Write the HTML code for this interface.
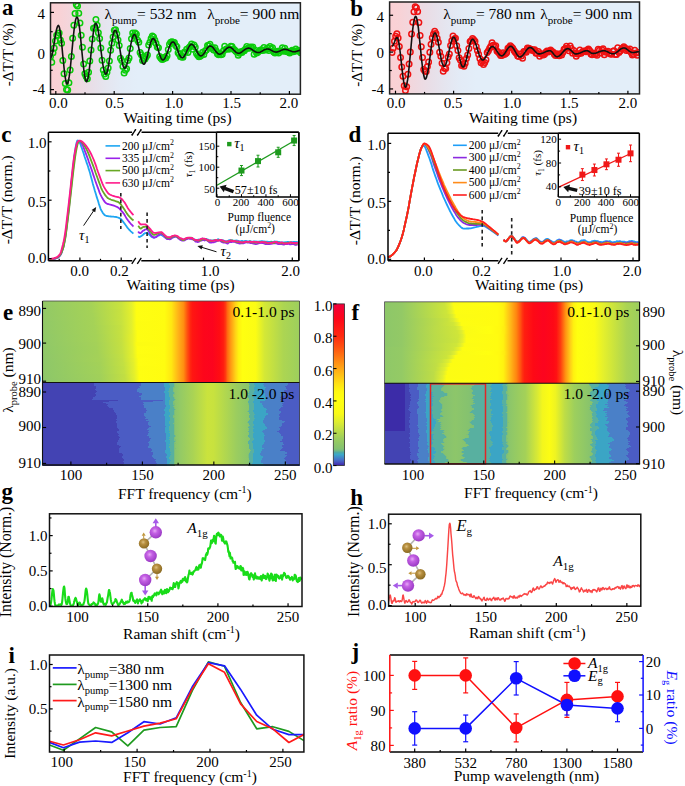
<!DOCTYPE html><html><head><meta charset="utf-8"><title>Figure</title><style>html,body{margin:0;padding:0;background:#fff;width:685px;height:786px;overflow:hidden}svg{display:block;font-family:"Liberation Serif",serif}</style></head><body><svg width="685" height="786" viewBox="0 0 685 786" font-family="Liberation Serif, serif"><defs><linearGradient id="bgab" x1="0" y1="0" x2="1" y2="0"><stop offset="0" stop-color="#fbd0d4"/><stop offset="0.04" stop-color="#f8d2d6"/><stop offset="0.1" stop-color="#f0d8df"/><stop offset="0.16" stop-color="#e9dee7"/><stop offset="0.22" stop-color="#e5e5ef"/><stop offset="0.28" stop-color="#e3ebf6"/><stop offset="0.35" stop-color="#e3eef9"/><stop offset="1" stop-color="#e3eef9"/></linearGradient><linearGradient id="bgab2" x1="0" y1="0" x2="1" y2="0"><stop offset="0" stop-color="#fbd0d4"/><stop offset="0.04" stop-color="#f8d2d6"/><stop offset="0.1" stop-color="#f0d8df"/><stop offset="0.16" stop-color="#e9dee7"/><stop offset="0.22" stop-color="#e5e5ef"/><stop offset="0.28" stop-color="#e3ebf6"/><stop offset="0.35" stop-color="#e3eef9"/><stop offset="1" stop-color="#e3eef9"/></linearGradient><linearGradient id="ge0" x2="1" y2="0"><stop offset="0.000" stop-color="#93ca66"/><stop offset="0.187" stop-color="#a5d257"/><stop offset="0.307" stop-color="#c9e33d"/><stop offset="0.346" stop-color="#e5f02b"/><stop offset="0.366" stop-color="#fefe12"/><stop offset="0.475" stop-color="#fffc10"/><stop offset="0.502" stop-color="#ffe712"/><stop offset="0.529" stop-color="#ffb118"/><stop offset="0.549" stop-color="#ff8e11"/><stop offset="0.564" stop-color="#ff4e10"/><stop offset="0.576" stop-color="#ff2410"/><stop offset="0.584" stop-color="#ff1612"/><stop offset="0.626" stop-color="#fd061b"/><stop offset="0.661" stop-color="#fc041e"/><stop offset="0.689" stop-color="#ff0d13"/><stop offset="0.704" stop-color="#ff1e10"/><stop offset="0.712" stop-color="#ff3a10"/><stop offset="0.720" stop-color="#ff6c10"/><stop offset="0.732" stop-color="#ff9813"/><stop offset="0.751" stop-color="#ffd217"/><stop offset="0.763" stop-color="#fff110"/><stop offset="0.778" stop-color="#ffff10"/><stop offset="0.829" stop-color="#fcfc14"/><stop offset="0.864" stop-color="#d4e836"/><stop offset="0.938" stop-color="#acd552"/><stop offset="1.000" stop-color="#9dcf5d"/></linearGradient><linearGradient id="ge1" x2="1" y2="0"><stop offset="0.000" stop-color="#93c966"/><stop offset="0.191" stop-color="#a5d257"/><stop offset="0.307" stop-color="#c9e33d"/><stop offset="0.346" stop-color="#e4f02c"/><stop offset="0.366" stop-color="#fefe12"/><stop offset="0.475" stop-color="#fffc10"/><stop offset="0.502" stop-color="#ffe712"/><stop offset="0.529" stop-color="#ffb118"/><stop offset="0.549" stop-color="#ff8e11"/><stop offset="0.564" stop-color="#ff4e10"/><stop offset="0.576" stop-color="#ff2410"/><stop offset="0.584" stop-color="#ff1612"/><stop offset="0.626" stop-color="#fd061b"/><stop offset="0.661" stop-color="#fc041e"/><stop offset="0.689" stop-color="#ff0d13"/><stop offset="0.704" stop-color="#ff1e10"/><stop offset="0.712" stop-color="#ff3a10"/><stop offset="0.720" stop-color="#ff6c10"/><stop offset="0.732" stop-color="#ff9813"/><stop offset="0.751" stop-color="#ffd217"/><stop offset="0.763" stop-color="#fff110"/><stop offset="0.778" stop-color="#ffff10"/><stop offset="0.829" stop-color="#fcfc14"/><stop offset="0.864" stop-color="#d4e836"/><stop offset="0.938" stop-color="#acd552"/><stop offset="1.000" stop-color="#9dcf5d"/></linearGradient><linearGradient id="ge2" x2="1" y2="0"><stop offset="0.000" stop-color="#92c966"/><stop offset="0.191" stop-color="#a5d257"/><stop offset="0.304" stop-color="#c7e13f"/><stop offset="0.346" stop-color="#e4ef2c"/><stop offset="0.366" stop-color="#fefe12"/><stop offset="0.475" stop-color="#fffc10"/><stop offset="0.502" stop-color="#ffe712"/><stop offset="0.529" stop-color="#ffb118"/><stop offset="0.549" stop-color="#ff8e11"/><stop offset="0.564" stop-color="#ff4e10"/><stop offset="0.576" stop-color="#ff2410"/><stop offset="0.584" stop-color="#ff1612"/><stop offset="0.626" stop-color="#fd061b"/><stop offset="0.661" stop-color="#fc041e"/><stop offset="0.689" stop-color="#ff0d13"/><stop offset="0.704" stop-color="#ff1e10"/><stop offset="0.712" stop-color="#ff3a10"/><stop offset="0.720" stop-color="#ff6c10"/><stop offset="0.732" stop-color="#ff9813"/><stop offset="0.751" stop-color="#ffd217"/><stop offset="0.763" stop-color="#fff110"/><stop offset="0.778" stop-color="#ffff10"/><stop offset="0.829" stop-color="#fcfc14"/><stop offset="0.864" stop-color="#d4e836"/><stop offset="0.938" stop-color="#acd552"/><stop offset="1.000" stop-color="#9dcf5d"/></linearGradient><linearGradient id="ge3" x2="1" y2="0"><stop offset="0.000" stop-color="#92c966"/><stop offset="0.195" stop-color="#a5d257"/><stop offset="0.307" stop-color="#c8e23e"/><stop offset="0.346" stop-color="#e3ef2d"/><stop offset="0.366" stop-color="#fefe12"/><stop offset="0.475" stop-color="#fffc10"/><stop offset="0.502" stop-color="#ffe712"/><stop offset="0.529" stop-color="#ffb118"/><stop offset="0.549" stop-color="#ff8e11"/><stop offset="0.564" stop-color="#ff4e10"/><stop offset="0.576" stop-color="#ff2410"/><stop offset="0.584" stop-color="#ff1612"/><stop offset="0.626" stop-color="#fd061b"/><stop offset="0.661" stop-color="#fc041e"/><stop offset="0.689" stop-color="#ff0d13"/><stop offset="0.704" stop-color="#ff1e10"/><stop offset="0.712" stop-color="#ff3a10"/><stop offset="0.720" stop-color="#ff6c10"/><stop offset="0.732" stop-color="#ff9813"/><stop offset="0.751" stop-color="#ffd217"/><stop offset="0.763" stop-color="#fff110"/><stop offset="0.778" stop-color="#ffff10"/><stop offset="0.829" stop-color="#fcfc14"/><stop offset="0.864" stop-color="#d4e836"/><stop offset="0.938" stop-color="#acd552"/><stop offset="1.000" stop-color="#9dcf5d"/></linearGradient><linearGradient id="ge4" x2="1" y2="0"><stop offset="0.000" stop-color="#92c967"/><stop offset="0.198" stop-color="#a5d257"/><stop offset="0.307" stop-color="#c8e23e"/><stop offset="0.346" stop-color="#e2ef2e"/><stop offset="0.366" stop-color="#fefe12"/><stop offset="0.475" stop-color="#fffc10"/><stop offset="0.502" stop-color="#ffe712"/><stop offset="0.529" stop-color="#ffb118"/><stop offset="0.549" stop-color="#ff8e11"/><stop offset="0.564" stop-color="#ff4e10"/><stop offset="0.576" stop-color="#ff2410"/><stop offset="0.584" stop-color="#ff1612"/><stop offset="0.626" stop-color="#fd061b"/><stop offset="0.661" stop-color="#fc041e"/><stop offset="0.689" stop-color="#ff0d13"/><stop offset="0.704" stop-color="#ff1e10"/><stop offset="0.712" stop-color="#ff3a10"/><stop offset="0.720" stop-color="#ff6c10"/><stop offset="0.732" stop-color="#ff9813"/><stop offset="0.751" stop-color="#ffd217"/><stop offset="0.763" stop-color="#fff110"/><stop offset="0.778" stop-color="#ffff10"/><stop offset="0.829" stop-color="#fcfc14"/><stop offset="0.864" stop-color="#d4e836"/><stop offset="0.938" stop-color="#acd552"/><stop offset="1.000" stop-color="#9dcf5d"/></linearGradient><linearGradient id="ge5" x2="1" y2="0"><stop offset="0.000" stop-color="#91c967"/><stop offset="0.198" stop-color="#a5d257"/><stop offset="0.307" stop-color="#c7e23f"/><stop offset="0.346" stop-color="#e2ef2e"/><stop offset="0.366" stop-color="#fdfd12"/><stop offset="0.475" stop-color="#fffc10"/><stop offset="0.502" stop-color="#ffe712"/><stop offset="0.529" stop-color="#ffb118"/><stop offset="0.549" stop-color="#ff8e11"/><stop offset="0.564" stop-color="#ff4e10"/><stop offset="0.576" stop-color="#ff2410"/><stop offset="0.584" stop-color="#ff1612"/><stop offset="0.626" stop-color="#fd061b"/><stop offset="0.661" stop-color="#fc041e"/><stop offset="0.689" stop-color="#ff0d13"/><stop offset="0.704" stop-color="#ff1e10"/><stop offset="0.712" stop-color="#ff3a10"/><stop offset="0.720" stop-color="#ff6c10"/><stop offset="0.732" stop-color="#ff9813"/><stop offset="0.751" stop-color="#ffd217"/><stop offset="0.763" stop-color="#fff110"/><stop offset="0.778" stop-color="#ffff10"/><stop offset="0.829" stop-color="#fcfc14"/><stop offset="0.864" stop-color="#d4e836"/><stop offset="0.938" stop-color="#acd552"/><stop offset="1.000" stop-color="#9dcf5d"/></linearGradient><linearGradient id="ge6" x2="1" y2="0"><stop offset="0.000" stop-color="#91c967"/><stop offset="0.202" stop-color="#a5d257"/><stop offset="0.304" stop-color="#c4e041"/><stop offset="0.346" stop-color="#e2ef2e"/><stop offset="0.366" stop-color="#fdfd12"/><stop offset="0.475" stop-color="#fffc10"/><stop offset="0.502" stop-color="#ffe712"/><stop offset="0.529" stop-color="#ffb118"/><stop offset="0.549" stop-color="#ff8e11"/><stop offset="0.564" stop-color="#ff4e10"/><stop offset="0.576" stop-color="#ff2410"/><stop offset="0.584" stop-color="#ff1612"/><stop offset="0.626" stop-color="#fd061b"/><stop offset="0.661" stop-color="#fc041e"/><stop offset="0.689" stop-color="#ff0d13"/><stop offset="0.704" stop-color="#ff1e10"/><stop offset="0.712" stop-color="#ff3a10"/><stop offset="0.720" stop-color="#ff6c10"/><stop offset="0.732" stop-color="#ff9813"/><stop offset="0.751" stop-color="#ffd217"/><stop offset="0.763" stop-color="#fff110"/><stop offset="0.778" stop-color="#ffff10"/><stop offset="0.829" stop-color="#fcfc14"/><stop offset="0.864" stop-color="#d4e836"/><stop offset="0.938" stop-color="#acd552"/><stop offset="1.000" stop-color="#9dcf5d"/></linearGradient><linearGradient id="ge7" x2="1" y2="0"><stop offset="0.000" stop-color="#91c867"/><stop offset="0.206" stop-color="#a5d257"/><stop offset="0.307" stop-color="#c6e13f"/><stop offset="0.346" stop-color="#e1ee2f"/><stop offset="0.370" stop-color="#fefe12"/><stop offset="0.475" stop-color="#fffc10"/><stop offset="0.502" stop-color="#ffe712"/><stop offset="0.529" stop-color="#ffb118"/><stop offset="0.549" stop-color="#ff8e11"/><stop offset="0.564" stop-color="#ff4e10"/><stop offset="0.576" stop-color="#ff2410"/><stop offset="0.584" stop-color="#ff1612"/><stop offset="0.626" stop-color="#fd061b"/><stop offset="0.661" stop-color="#fc041e"/><stop offset="0.689" stop-color="#ff0d13"/><stop offset="0.704" stop-color="#ff1e10"/><stop offset="0.712" stop-color="#ff3a10"/><stop offset="0.720" stop-color="#ff6c10"/><stop offset="0.732" stop-color="#ff9813"/><stop offset="0.751" stop-color="#ffd217"/><stop offset="0.763" stop-color="#fff110"/><stop offset="0.778" stop-color="#ffff10"/><stop offset="0.829" stop-color="#fcfc14"/><stop offset="0.864" stop-color="#d4e836"/><stop offset="0.938" stop-color="#acd552"/><stop offset="1.000" stop-color="#9dcf5d"/></linearGradient><linearGradient id="ge8" x2="1" y2="0"><stop offset="0.000" stop-color="#90c868"/><stop offset="0.210" stop-color="#a5d257"/><stop offset="0.307" stop-color="#c5e140"/><stop offset="0.350" stop-color="#e6f02a"/><stop offset="0.370" stop-color="#fefe12"/><stop offset="0.475" stop-color="#fffc10"/><stop offset="0.502" stop-color="#ffe712"/><stop offset="0.529" stop-color="#ffb118"/><stop offset="0.549" stop-color="#ff8e11"/><stop offset="0.564" stop-color="#ff4e10"/><stop offset="0.576" stop-color="#ff2410"/><stop offset="0.584" stop-color="#ff1612"/><stop offset="0.626" stop-color="#fd061b"/><stop offset="0.661" stop-color="#fc041e"/><stop offset="0.689" stop-color="#ff0d13"/><stop offset="0.704" stop-color="#ff1e10"/><stop offset="0.712" stop-color="#ff3a10"/><stop offset="0.720" stop-color="#ff6c10"/><stop offset="0.732" stop-color="#ff9813"/><stop offset="0.751" stop-color="#ffd217"/><stop offset="0.763" stop-color="#fff110"/><stop offset="0.778" stop-color="#ffff10"/><stop offset="0.829" stop-color="#fcfc14"/><stop offset="0.864" stop-color="#d4e836"/><stop offset="0.938" stop-color="#acd552"/><stop offset="1.000" stop-color="#9dcf5d"/></linearGradient><linearGradient id="ge9" x2="1" y2="0"><stop offset="0.000" stop-color="#90c868"/><stop offset="0.210" stop-color="#a5d257"/><stop offset="0.307" stop-color="#c5e040"/><stop offset="0.350" stop-color="#e6f02a"/><stop offset="0.370" stop-color="#fefe12"/><stop offset="0.475" stop-color="#fffc10"/><stop offset="0.502" stop-color="#ffe712"/><stop offset="0.529" stop-color="#ffb118"/><stop offset="0.549" stop-color="#ff8e11"/><stop offset="0.564" stop-color="#ff4e10"/><stop offset="0.576" stop-color="#ff2410"/><stop offset="0.584" stop-color="#ff1612"/><stop offset="0.626" stop-color="#fd061b"/><stop offset="0.661" stop-color="#fc041e"/><stop offset="0.689" stop-color="#ff0d13"/><stop offset="0.704" stop-color="#ff1e10"/><stop offset="0.712" stop-color="#ff3a10"/><stop offset="0.720" stop-color="#ff6c10"/><stop offset="0.732" stop-color="#ff9813"/><stop offset="0.751" stop-color="#ffd217"/><stop offset="0.763" stop-color="#fff110"/><stop offset="0.778" stop-color="#ffff10"/><stop offset="0.829" stop-color="#fcfc14"/><stop offset="0.864" stop-color="#d4e836"/><stop offset="0.938" stop-color="#acd552"/><stop offset="1.000" stop-color="#9dcf5d"/></linearGradient><linearGradient id="ge10" x2="1" y2="0"><stop offset="0.000" stop-color="#90c868"/><stop offset="0.210" stop-color="#a4d158"/><stop offset="0.307" stop-color="#c4e041"/><stop offset="0.350" stop-color="#e5f02b"/><stop offset="0.366" stop-color="#fcfc13"/><stop offset="0.475" stop-color="#fffc10"/><stop offset="0.502" stop-color="#ffe712"/><stop offset="0.529" stop-color="#ffb118"/><stop offset="0.549" stop-color="#ff8e11"/><stop offset="0.564" stop-color="#ff4e10"/><stop offset="0.576" stop-color="#ff2410"/><stop offset="0.584" stop-color="#ff1612"/><stop offset="0.626" stop-color="#fd061b"/><stop offset="0.661" stop-color="#fc041e"/><stop offset="0.689" stop-color="#ff0d13"/><stop offset="0.704" stop-color="#ff1e10"/><stop offset="0.712" stop-color="#ff3a10"/><stop offset="0.720" stop-color="#ff6c10"/><stop offset="0.732" stop-color="#ff9813"/><stop offset="0.751" stop-color="#ffd217"/><stop offset="0.763" stop-color="#fff110"/><stop offset="0.778" stop-color="#ffff10"/><stop offset="0.829" stop-color="#fcfc14"/><stop offset="0.864" stop-color="#d4e836"/><stop offset="0.938" stop-color="#acd552"/><stop offset="1.000" stop-color="#9dcf5d"/></linearGradient><linearGradient id="ge11" x2="1" y2="0"><stop offset="0.000" stop-color="#8fc868"/><stop offset="0.210" stop-color="#a3d158"/><stop offset="0.307" stop-color="#c3e042"/><stop offset="0.350" stop-color="#e4f02c"/><stop offset="0.370" stop-color="#fefe12"/><stop offset="0.475" stop-color="#fffc10"/><stop offset="0.502" stop-color="#ffe712"/><stop offset="0.529" stop-color="#ffb118"/><stop offset="0.549" stop-color="#ff8e11"/><stop offset="0.564" stop-color="#ff4e10"/><stop offset="0.576" stop-color="#ff2410"/><stop offset="0.584" stop-color="#ff1612"/><stop offset="0.626" stop-color="#fd061b"/><stop offset="0.661" stop-color="#fc041e"/><stop offset="0.689" stop-color="#ff0d13"/><stop offset="0.704" stop-color="#ff1e10"/><stop offset="0.712" stop-color="#ff3a10"/><stop offset="0.720" stop-color="#ff6c10"/><stop offset="0.732" stop-color="#ff9813"/><stop offset="0.751" stop-color="#ffd217"/><stop offset="0.763" stop-color="#fff110"/><stop offset="0.778" stop-color="#ffff10"/><stop offset="0.829" stop-color="#fcfc14"/><stop offset="0.864" stop-color="#d4e836"/><stop offset="0.938" stop-color="#acd552"/><stop offset="1.000" stop-color="#9dcf5d"/></linearGradient><linearGradient id="ge12" x2="1" y2="0"><stop offset="0.000" stop-color="#8fc868"/><stop offset="0.214" stop-color="#a3d158"/><stop offset="0.311" stop-color="#c5e040"/><stop offset="0.350" stop-color="#e3ef2d"/><stop offset="0.370" stop-color="#fefe12"/><stop offset="0.475" stop-color="#fffc10"/><stop offset="0.502" stop-color="#ffe712"/><stop offset="0.529" stop-color="#ffb118"/><stop offset="0.549" stop-color="#ff8e11"/><stop offset="0.564" stop-color="#ff4e10"/><stop offset="0.576" stop-color="#ff2410"/><stop offset="0.584" stop-color="#ff1612"/><stop offset="0.626" stop-color="#fd061b"/><stop offset="0.661" stop-color="#fc041e"/><stop offset="0.689" stop-color="#ff0d13"/><stop offset="0.704" stop-color="#ff1e10"/><stop offset="0.712" stop-color="#ff3a10"/><stop offset="0.720" stop-color="#ff6c10"/><stop offset="0.732" stop-color="#ff9813"/><stop offset="0.751" stop-color="#ffd217"/><stop offset="0.763" stop-color="#fff110"/><stop offset="0.778" stop-color="#ffff10"/><stop offset="0.829" stop-color="#fcfc14"/><stop offset="0.864" stop-color="#d4e836"/><stop offset="0.938" stop-color="#acd552"/><stop offset="1.000" stop-color="#9dcf5d"/></linearGradient><linearGradient id="ge13" x2="1" y2="0"><stop offset="0.000" stop-color="#8fc769"/><stop offset="0.218" stop-color="#a4d158"/><stop offset="0.311" stop-color="#c3e042"/><stop offset="0.354" stop-color="#e7f129"/><stop offset="0.370" stop-color="#fdfd12"/><stop offset="0.475" stop-color="#fffc10"/><stop offset="0.502" stop-color="#ffe712"/><stop offset="0.529" stop-color="#ffb118"/><stop offset="0.549" stop-color="#ff8e11"/><stop offset="0.564" stop-color="#ff4e10"/><stop offset="0.576" stop-color="#ff2410"/><stop offset="0.584" stop-color="#ff1612"/><stop offset="0.626" stop-color="#fd061b"/><stop offset="0.661" stop-color="#fc041e"/><stop offset="0.689" stop-color="#ff0d13"/><stop offset="0.704" stop-color="#ff1e10"/><stop offset="0.712" stop-color="#ff3a10"/><stop offset="0.720" stop-color="#ff6c10"/><stop offset="0.732" stop-color="#ff9813"/><stop offset="0.751" stop-color="#ffd217"/><stop offset="0.763" stop-color="#fff110"/><stop offset="0.778" stop-color="#ffff10"/><stop offset="0.829" stop-color="#fcfc14"/><stop offset="0.864" stop-color="#d4e836"/><stop offset="0.938" stop-color="#acd552"/><stop offset="1.000" stop-color="#9dcf5d"/></linearGradient><linearGradient id="ge14" x2="1" y2="0"><stop offset="0.000" stop-color="#8ec769"/><stop offset="0.226" stop-color="#a5d257"/><stop offset="0.311" stop-color="#c2df43"/><stop offset="0.354" stop-color="#e5f02b"/><stop offset="0.374" stop-color="#fefe12"/><stop offset="0.475" stop-color="#fffc10"/><stop offset="0.502" stop-color="#ffe712"/><stop offset="0.529" stop-color="#ffb118"/><stop offset="0.549" stop-color="#ff8e11"/><stop offset="0.564" stop-color="#ff4e10"/><stop offset="0.576" stop-color="#ff2410"/><stop offset="0.584" stop-color="#ff1612"/><stop offset="0.626" stop-color="#fd061b"/><stop offset="0.661" stop-color="#fc041e"/><stop offset="0.689" stop-color="#ff0d13"/><stop offset="0.704" stop-color="#ff1e10"/><stop offset="0.712" stop-color="#ff3a10"/><stop offset="0.720" stop-color="#ff6c10"/><stop offset="0.732" stop-color="#ff9813"/><stop offset="0.751" stop-color="#ffd217"/><stop offset="0.763" stop-color="#fff110"/><stop offset="0.778" stop-color="#ffff10"/><stop offset="0.829" stop-color="#fcfc14"/><stop offset="0.864" stop-color="#d4e836"/><stop offset="0.938" stop-color="#acd552"/><stop offset="1.000" stop-color="#9dcf5d"/></linearGradient><linearGradient id="ge15" x2="1" y2="0"><stop offset="0.000" stop-color="#8ec769"/><stop offset="0.222" stop-color="#a3d158"/><stop offset="0.315" stop-color="#c3e042"/><stop offset="0.354" stop-color="#e3ef2d"/><stop offset="0.374" stop-color="#fefe12"/><stop offset="0.475" stop-color="#fffc10"/><stop offset="0.502" stop-color="#ffe712"/><stop offset="0.529" stop-color="#ffb118"/><stop offset="0.549" stop-color="#ff8e11"/><stop offset="0.564" stop-color="#ff4e10"/><stop offset="0.576" stop-color="#ff2410"/><stop offset="0.584" stop-color="#ff1612"/><stop offset="0.626" stop-color="#fd061b"/><stop offset="0.661" stop-color="#fc041e"/><stop offset="0.689" stop-color="#ff0d13"/><stop offset="0.704" stop-color="#ff1e10"/><stop offset="0.712" stop-color="#ff3a10"/><stop offset="0.720" stop-color="#ff6c10"/><stop offset="0.732" stop-color="#ff9813"/><stop offset="0.751" stop-color="#ffd217"/><stop offset="0.763" stop-color="#fff110"/><stop offset="0.778" stop-color="#ffff10"/><stop offset="0.829" stop-color="#fcfc14"/><stop offset="0.864" stop-color="#d4e836"/><stop offset="0.938" stop-color="#acd552"/><stop offset="1.000" stop-color="#9dcf5d"/></linearGradient><linearGradient id="ge16" x2="1" y2="0"><stop offset="0.000" stop-color="#8ec769"/><stop offset="0.222" stop-color="#a2d159"/><stop offset="0.315" stop-color="#c1df43"/><stop offset="0.354" stop-color="#e2ef2e"/><stop offset="0.374" stop-color="#fdfd12"/><stop offset="0.475" stop-color="#fffc10"/><stop offset="0.502" stop-color="#ffe712"/><stop offset="0.529" stop-color="#ffb118"/><stop offset="0.549" stop-color="#ff8e11"/><stop offset="0.564" stop-color="#ff4e10"/><stop offset="0.576" stop-color="#ff2410"/><stop offset="0.584" stop-color="#ff1612"/><stop offset="0.626" stop-color="#fd061b"/><stop offset="0.661" stop-color="#fc041e"/><stop offset="0.689" stop-color="#ff0d13"/><stop offset="0.704" stop-color="#ff1e10"/><stop offset="0.712" stop-color="#ff3a10"/><stop offset="0.720" stop-color="#ff6c10"/><stop offset="0.732" stop-color="#ff9813"/><stop offset="0.751" stop-color="#ffd217"/><stop offset="0.763" stop-color="#fff110"/><stop offset="0.778" stop-color="#ffff10"/><stop offset="0.829" stop-color="#fcfc14"/><stop offset="0.864" stop-color="#d4e836"/><stop offset="0.938" stop-color="#acd552"/><stop offset="1.000" stop-color="#9dcf5d"/></linearGradient><linearGradient id="ge17" x2="1" y2="0"><stop offset="0.000" stop-color="#8dc769"/><stop offset="0.222" stop-color="#a2d159"/><stop offset="0.319" stop-color="#c3e042"/><stop offset="0.358" stop-color="#e6f02a"/><stop offset="0.377" stop-color="#fefe12"/><stop offset="0.475" stop-color="#fffc10"/><stop offset="0.502" stop-color="#ffe712"/><stop offset="0.529" stop-color="#ffb118"/><stop offset="0.549" stop-color="#ff8e11"/><stop offset="0.564" stop-color="#ff4e10"/><stop offset="0.576" stop-color="#ff2410"/><stop offset="0.584" stop-color="#ff1612"/><stop offset="0.626" stop-color="#fd061b"/><stop offset="0.661" stop-color="#fc041e"/><stop offset="0.689" stop-color="#ff0d13"/><stop offset="0.704" stop-color="#ff1e10"/><stop offset="0.712" stop-color="#ff3a10"/><stop offset="0.720" stop-color="#ff6c10"/><stop offset="0.732" stop-color="#ff9813"/><stop offset="0.751" stop-color="#ffd217"/><stop offset="0.763" stop-color="#fff110"/><stop offset="0.778" stop-color="#ffff10"/><stop offset="0.829" stop-color="#fcfc14"/><stop offset="0.864" stop-color="#d4e836"/><stop offset="0.938" stop-color="#acd552"/><stop offset="1.000" stop-color="#9dcf5d"/></linearGradient><linearGradient id="ge18" x2="1" y2="0"><stop offset="0.000" stop-color="#8dc769"/><stop offset="0.222" stop-color="#a1d05a"/><stop offset="0.319" stop-color="#c1de43"/><stop offset="0.358" stop-color="#e4f02c"/><stop offset="0.377" stop-color="#fefe12"/><stop offset="0.475" stop-color="#fffc10"/><stop offset="0.502" stop-color="#ffe712"/><stop offset="0.529" stop-color="#ffb118"/><stop offset="0.549" stop-color="#ff8e11"/><stop offset="0.564" stop-color="#ff4e10"/><stop offset="0.576" stop-color="#ff2410"/><stop offset="0.584" stop-color="#ff1612"/><stop offset="0.626" stop-color="#fd061b"/><stop offset="0.661" stop-color="#fc041e"/><stop offset="0.689" stop-color="#ff0d13"/><stop offset="0.704" stop-color="#ff1e10"/><stop offset="0.712" stop-color="#ff3a10"/><stop offset="0.720" stop-color="#ff6c10"/><stop offset="0.732" stop-color="#ff9813"/><stop offset="0.751" stop-color="#ffd217"/><stop offset="0.763" stop-color="#fff110"/><stop offset="0.778" stop-color="#ffff10"/><stop offset="0.829" stop-color="#fcfc14"/><stop offset="0.864" stop-color="#d4e836"/><stop offset="0.938" stop-color="#acd552"/><stop offset="1.000" stop-color="#9dcf5d"/></linearGradient><linearGradient id="ge19" x2="1" y2="0"><stop offset="0.000" stop-color="#8dc66a"/><stop offset="0.222" stop-color="#a0d05a"/><stop offset="0.323" stop-color="#c3df42"/><stop offset="0.358" stop-color="#e2ef2e"/><stop offset="0.377" stop-color="#fefe12"/><stop offset="0.475" stop-color="#fffc10"/><stop offset="0.502" stop-color="#ffe712"/><stop offset="0.529" stop-color="#ffb118"/><stop offset="0.549" stop-color="#ff8e11"/><stop offset="0.564" stop-color="#ff4e10"/><stop offset="0.576" stop-color="#ff2410"/><stop offset="0.584" stop-color="#ff1612"/><stop offset="0.626" stop-color="#fd061b"/><stop offset="0.661" stop-color="#fc041e"/><stop offset="0.689" stop-color="#ff0d13"/><stop offset="0.704" stop-color="#ff1e10"/><stop offset="0.712" stop-color="#ff3a10"/><stop offset="0.720" stop-color="#ff6c10"/><stop offset="0.732" stop-color="#ff9813"/><stop offset="0.751" stop-color="#ffd217"/><stop offset="0.763" stop-color="#fff110"/><stop offset="0.778" stop-color="#ffff10"/><stop offset="0.829" stop-color="#fcfc14"/><stop offset="0.864" stop-color="#d4e836"/><stop offset="0.938" stop-color="#acd552"/><stop offset="1.000" stop-color="#9dcf5d"/></linearGradient><linearGradient id="geb" x2="1" y2="0"><stop offset="0.000" stop-color="#7fbf75"/><stop offset="0.502" stop-color="#81c073"/><stop offset="0.537" stop-color="#94ca65"/><stop offset="0.584" stop-color="#a9d355"/><stop offset="0.642" stop-color="#cae33d"/><stop offset="0.665" stop-color="#c8e23e"/><stop offset="0.755" stop-color="#9bcd5f"/><stop offset="0.805" stop-color="#89c56b"/><stop offset="1.000" stop-color="#7fbf75"/></linearGradient><linearGradient id="gf0" x2="1" y2="0"><stop offset="0.000" stop-color="#8dc769"/><stop offset="0.067" stop-color="#93c966"/><stop offset="0.235" stop-color="#cbe33c"/><stop offset="0.255" stop-color="#dfee30"/><stop offset="0.270" stop-color="#fbfc15"/><stop offset="0.408" stop-color="#ffff10"/><stop offset="0.451" stop-color="#fff910"/><stop offset="0.470" stop-color="#ffec11"/><stop offset="0.494" stop-color="#ffb818"/><stop offset="0.517" stop-color="#ff8610"/><stop offset="0.533" stop-color="#ff5210"/><stop offset="0.541" stop-color="#ff3310"/><stop offset="0.549" stop-color="#ff1e10"/><stop offset="0.584" stop-color="#fe0916"/><stop offset="0.623" stop-color="#fc041f"/><stop offset="0.662" stop-color="#fe0916"/><stop offset="0.674" stop-color="#ff1113"/><stop offset="0.690" stop-color="#ff3c10"/><stop offset="0.710" stop-color="#ff9412"/><stop offset="0.729" stop-color="#ffd018"/><stop offset="0.741" stop-color="#fff110"/><stop offset="0.757" stop-color="#ffff10"/><stop offset="0.823" stop-color="#fbfb15"/><stop offset="0.858" stop-color="#e4f02c"/><stop offset="0.949" stop-color="#abd453"/><stop offset="1.000" stop-color="#9cce5e"/></linearGradient><linearGradient id="gf1" x2="1" y2="0"><stop offset="0.000" stop-color="#8dc769"/><stop offset="0.067" stop-color="#93c966"/><stop offset="0.239" stop-color="#cde43a"/><stop offset="0.259" stop-color="#e4ef2c"/><stop offset="0.274" stop-color="#fdfd13"/><stop offset="0.443" stop-color="#fffc10"/><stop offset="0.466" stop-color="#fff210"/><stop offset="0.494" stop-color="#ffb818"/><stop offset="0.517" stop-color="#ff8610"/><stop offset="0.533" stop-color="#ff5210"/><stop offset="0.541" stop-color="#ff3310"/><stop offset="0.549" stop-color="#ff1e10"/><stop offset="0.584" stop-color="#fe0916"/><stop offset="0.623" stop-color="#fc041f"/><stop offset="0.662" stop-color="#fe0916"/><stop offset="0.674" stop-color="#ff1113"/><stop offset="0.690" stop-color="#ff3c10"/><stop offset="0.710" stop-color="#ff9412"/><stop offset="0.729" stop-color="#ffd018"/><stop offset="0.741" stop-color="#fff110"/><stop offset="0.757" stop-color="#ffff10"/><stop offset="0.823" stop-color="#fbfb15"/><stop offset="0.858" stop-color="#e4f02c"/><stop offset="0.949" stop-color="#abd453"/><stop offset="1.000" stop-color="#9cce5e"/></linearGradient><linearGradient id="gf2" x2="1" y2="0"><stop offset="0.000" stop-color="#8dc769"/><stop offset="0.067" stop-color="#93c966"/><stop offset="0.243" stop-color="#cde53a"/><stop offset="0.263" stop-color="#e4f02c"/><stop offset="0.278" stop-color="#fdfd13"/><stop offset="0.443" stop-color="#fffc10"/><stop offset="0.466" stop-color="#fff210"/><stop offset="0.494" stop-color="#ffb818"/><stop offset="0.517" stop-color="#ff8610"/><stop offset="0.533" stop-color="#ff5210"/><stop offset="0.541" stop-color="#ff3310"/><stop offset="0.549" stop-color="#ff1e10"/><stop offset="0.584" stop-color="#fe0916"/><stop offset="0.623" stop-color="#fc041f"/><stop offset="0.662" stop-color="#fe0916"/><stop offset="0.674" stop-color="#ff1113"/><stop offset="0.690" stop-color="#ff3c10"/><stop offset="0.710" stop-color="#ff9412"/><stop offset="0.729" stop-color="#ffd018"/><stop offset="0.741" stop-color="#fff110"/><stop offset="0.757" stop-color="#ffff10"/><stop offset="0.823" stop-color="#fbfb15"/><stop offset="0.858" stop-color="#e4f02c"/><stop offset="0.949" stop-color="#abd453"/><stop offset="1.000" stop-color="#9cce5e"/></linearGradient><linearGradient id="gf3" x2="1" y2="0"><stop offset="0.000" stop-color="#8dc769"/><stop offset="0.067" stop-color="#93c966"/><stop offset="0.251" stop-color="#cfe539"/><stop offset="0.267" stop-color="#dfee30"/><stop offset="0.282" stop-color="#fcfc14"/><stop offset="0.443" stop-color="#fffc10"/><stop offset="0.466" stop-color="#fff210"/><stop offset="0.494" stop-color="#ffb818"/><stop offset="0.517" stop-color="#ff8610"/><stop offset="0.533" stop-color="#ff5210"/><stop offset="0.541" stop-color="#ff3310"/><stop offset="0.549" stop-color="#ff1e10"/><stop offset="0.584" stop-color="#fe0916"/><stop offset="0.623" stop-color="#fc041f"/><stop offset="0.662" stop-color="#fe0916"/><stop offset="0.674" stop-color="#ff1113"/><stop offset="0.690" stop-color="#ff3c10"/><stop offset="0.710" stop-color="#ff9412"/><stop offset="0.729" stop-color="#ffd018"/><stop offset="0.741" stop-color="#fff110"/><stop offset="0.757" stop-color="#ffff10"/><stop offset="0.823" stop-color="#fbfb15"/><stop offset="0.858" stop-color="#e4f02c"/><stop offset="0.949" stop-color="#abd453"/><stop offset="1.000" stop-color="#9cce5e"/></linearGradient><linearGradient id="gf4" x2="1" y2="0"><stop offset="0.000" stop-color="#8dc769"/><stop offset="0.067" stop-color="#93c966"/><stop offset="0.247" stop-color="#c8e23e"/><stop offset="0.270" stop-color="#daeb33"/><stop offset="0.278" stop-color="#e7f129"/><stop offset="0.294" stop-color="#fdfd12"/><stop offset="0.443" stop-color="#fffc10"/><stop offset="0.466" stop-color="#fff210"/><stop offset="0.494" stop-color="#ffb818"/><stop offset="0.517" stop-color="#ff8610"/><stop offset="0.533" stop-color="#ff5210"/><stop offset="0.541" stop-color="#ff3310"/><stop offset="0.549" stop-color="#ff1e10"/><stop offset="0.584" stop-color="#fe0916"/><stop offset="0.623" stop-color="#fc041f"/><stop offset="0.662" stop-color="#fe0916"/><stop offset="0.674" stop-color="#ff1113"/><stop offset="0.690" stop-color="#ff3c10"/><stop offset="0.710" stop-color="#ff9412"/><stop offset="0.729" stop-color="#ffd018"/><stop offset="0.741" stop-color="#fff110"/><stop offset="0.757" stop-color="#ffff10"/><stop offset="0.823" stop-color="#fbfb15"/><stop offset="0.858" stop-color="#e4f02c"/><stop offset="0.949" stop-color="#abd453"/><stop offset="1.000" stop-color="#9cce5e"/></linearGradient><linearGradient id="gf5" x2="1" y2="0"><stop offset="0.000" stop-color="#8dc769"/><stop offset="0.067" stop-color="#93c966"/><stop offset="0.208" stop-color="#bddc47"/><stop offset="0.270" stop-color="#d0e638"/><stop offset="0.286" stop-color="#e3ef2d"/><stop offset="0.302" stop-color="#fdfd13"/><stop offset="0.443" stop-color="#fffc10"/><stop offset="0.466" stop-color="#fff210"/><stop offset="0.494" stop-color="#ffb818"/><stop offset="0.517" stop-color="#ff8610"/><stop offset="0.533" stop-color="#ff5210"/><stop offset="0.541" stop-color="#ff3310"/><stop offset="0.549" stop-color="#ff1e10"/><stop offset="0.584" stop-color="#fe0916"/><stop offset="0.623" stop-color="#fc041f"/><stop offset="0.662" stop-color="#fe0916"/><stop offset="0.674" stop-color="#ff1113"/><stop offset="0.690" stop-color="#ff3c10"/><stop offset="0.710" stop-color="#ff9412"/><stop offset="0.729" stop-color="#ffd018"/><stop offset="0.741" stop-color="#fff110"/><stop offset="0.757" stop-color="#ffff10"/><stop offset="0.823" stop-color="#fbfb15"/><stop offset="0.858" stop-color="#e4f02c"/><stop offset="0.949" stop-color="#abd453"/><stop offset="1.000" stop-color="#9cce5e"/></linearGradient><linearGradient id="gf6" x2="1" y2="0"><stop offset="0.000" stop-color="#8dc769"/><stop offset="0.067" stop-color="#93c966"/><stop offset="0.196" stop-color="#badb49"/><stop offset="0.278" stop-color="#cee539"/><stop offset="0.294" stop-color="#dfed31"/><stop offset="0.310" stop-color="#fbfb15"/><stop offset="0.408" stop-color="#ffff10"/><stop offset="0.451" stop-color="#fff910"/><stop offset="0.470" stop-color="#ffec11"/><stop offset="0.494" stop-color="#ffb818"/><stop offset="0.517" stop-color="#ff8610"/><stop offset="0.533" stop-color="#ff5210"/><stop offset="0.541" stop-color="#ff3310"/><stop offset="0.549" stop-color="#ff1e10"/><stop offset="0.584" stop-color="#fe0916"/><stop offset="0.623" stop-color="#fc041f"/><stop offset="0.662" stop-color="#fe0916"/><stop offset="0.674" stop-color="#ff1113"/><stop offset="0.690" stop-color="#ff3c10"/><stop offset="0.710" stop-color="#ff9412"/><stop offset="0.729" stop-color="#ffd018"/><stop offset="0.741" stop-color="#fff110"/><stop offset="0.757" stop-color="#ffff10"/><stop offset="0.823" stop-color="#fbfb15"/><stop offset="0.858" stop-color="#e4f02c"/><stop offset="0.949" stop-color="#abd453"/><stop offset="1.000" stop-color="#9cce5e"/></linearGradient><linearGradient id="gf7" x2="1" y2="0"><stop offset="0.000" stop-color="#8dc769"/><stop offset="0.067" stop-color="#93c966"/><stop offset="0.196" stop-color="#badb49"/><stop offset="0.286" stop-color="#cfe539"/><stop offset="0.302" stop-color="#dfed31"/><stop offset="0.318" stop-color="#fbfb15"/><stop offset="0.416" stop-color="#ffff10"/><stop offset="0.455" stop-color="#fff810"/><stop offset="0.470" stop-color="#ffec11"/><stop offset="0.494" stop-color="#ffb818"/><stop offset="0.517" stop-color="#ff8610"/><stop offset="0.533" stop-color="#ff5210"/><stop offset="0.541" stop-color="#ff3310"/><stop offset="0.549" stop-color="#ff1e10"/><stop offset="0.584" stop-color="#fe0916"/><stop offset="0.623" stop-color="#fc041f"/><stop offset="0.662" stop-color="#fe0916"/><stop offset="0.674" stop-color="#ff1113"/><stop offset="0.690" stop-color="#ff3c10"/><stop offset="0.710" stop-color="#ff9412"/><stop offset="0.729" stop-color="#ffd018"/><stop offset="0.741" stop-color="#fff110"/><stop offset="0.757" stop-color="#ffff10"/><stop offset="0.823" stop-color="#fbfb15"/><stop offset="0.858" stop-color="#e4f02c"/><stop offset="0.949" stop-color="#abd453"/><stop offset="1.000" stop-color="#9cce5e"/></linearGradient><linearGradient id="gf8" x2="1" y2="0"><stop offset="0.000" stop-color="#8dc769"/><stop offset="0.067" stop-color="#93c966"/><stop offset="0.196" stop-color="#b9db49"/><stop offset="0.290" stop-color="#cfe539"/><stop offset="0.306" stop-color="#dfee30"/><stop offset="0.321" stop-color="#fcfc14"/><stop offset="0.443" stop-color="#fffc10"/><stop offset="0.466" stop-color="#fff210"/><stop offset="0.494" stop-color="#ffb818"/><stop offset="0.517" stop-color="#ff8610"/><stop offset="0.533" stop-color="#ff5210"/><stop offset="0.541" stop-color="#ff3310"/><stop offset="0.549" stop-color="#ff1e10"/><stop offset="0.584" stop-color="#fe0916"/><stop offset="0.623" stop-color="#fc041f"/><stop offset="0.662" stop-color="#fe0916"/><stop offset="0.674" stop-color="#ff1113"/><stop offset="0.690" stop-color="#ff3c10"/><stop offset="0.710" stop-color="#ff9412"/><stop offset="0.729" stop-color="#ffd018"/><stop offset="0.741" stop-color="#fff110"/><stop offset="0.757" stop-color="#ffff10"/><stop offset="0.823" stop-color="#fbfb15"/><stop offset="0.858" stop-color="#e4f02c"/><stop offset="0.949" stop-color="#abd453"/><stop offset="1.000" stop-color="#9cce5e"/></linearGradient><linearGradient id="gf9" x2="1" y2="0"><stop offset="0.000" stop-color="#8dc769"/><stop offset="0.067" stop-color="#93c966"/><stop offset="0.196" stop-color="#b9db49"/><stop offset="0.286" stop-color="#cce43b"/><stop offset="0.306" stop-color="#e3ef2d"/><stop offset="0.321" stop-color="#fdfd13"/><stop offset="0.443" stop-color="#fffc10"/><stop offset="0.466" stop-color="#fff210"/><stop offset="0.494" stop-color="#ffb818"/><stop offset="0.517" stop-color="#ff8610"/><stop offset="0.533" stop-color="#ff5210"/><stop offset="0.541" stop-color="#ff3310"/><stop offset="0.549" stop-color="#ff1e10"/><stop offset="0.584" stop-color="#fe0916"/><stop offset="0.623" stop-color="#fc041f"/><stop offset="0.662" stop-color="#fe0916"/><stop offset="0.674" stop-color="#ff1113"/><stop offset="0.690" stop-color="#ff3c10"/><stop offset="0.710" stop-color="#ff9412"/><stop offset="0.729" stop-color="#ffd018"/><stop offset="0.741" stop-color="#fff110"/><stop offset="0.757" stop-color="#ffff10"/><stop offset="0.823" stop-color="#fbfb15"/><stop offset="0.858" stop-color="#e4f02c"/><stop offset="0.949" stop-color="#abd453"/><stop offset="1.000" stop-color="#9cce5e"/></linearGradient><linearGradient id="gf10" x2="1" y2="0"><stop offset="0.000" stop-color="#8dc769"/><stop offset="0.067" stop-color="#93c966"/><stop offset="0.196" stop-color="#badb49"/><stop offset="0.282" stop-color="#cfe639"/><stop offset="0.298" stop-color="#e0ee30"/><stop offset="0.314" stop-color="#fcfc14"/><stop offset="0.443" stop-color="#fffc10"/><stop offset="0.466" stop-color="#fff210"/><stop offset="0.494" stop-color="#ffb818"/><stop offset="0.517" stop-color="#ff8610"/><stop offset="0.533" stop-color="#ff5210"/><stop offset="0.541" stop-color="#ff3310"/><stop offset="0.549" stop-color="#ff1e10"/><stop offset="0.584" stop-color="#fe0916"/><stop offset="0.623" stop-color="#fc041f"/><stop offset="0.662" stop-color="#fe0916"/><stop offset="0.674" stop-color="#ff1113"/><stop offset="0.690" stop-color="#ff3c10"/><stop offset="0.710" stop-color="#ff9412"/><stop offset="0.729" stop-color="#ffd018"/><stop offset="0.741" stop-color="#fff110"/><stop offset="0.757" stop-color="#ffff10"/><stop offset="0.823" stop-color="#fbfb15"/><stop offset="0.858" stop-color="#e4f02c"/><stop offset="0.949" stop-color="#abd453"/><stop offset="1.000" stop-color="#9cce5e"/></linearGradient><linearGradient id="gf11" x2="1" y2="0"><stop offset="0.000" stop-color="#8fc868"/><stop offset="0.067" stop-color="#94ca65"/><stop offset="0.223" stop-color="#c0de44"/><stop offset="0.270" stop-color="#cee53a"/><stop offset="0.290" stop-color="#e6f02a"/><stop offset="0.306" stop-color="#fdfd13"/><stop offset="0.443" stop-color="#fffc10"/><stop offset="0.466" stop-color="#fff210"/><stop offset="0.494" stop-color="#ffb818"/><stop offset="0.517" stop-color="#ff8610"/><stop offset="0.533" stop-color="#ff5210"/><stop offset="0.541" stop-color="#ff3310"/><stop offset="0.549" stop-color="#ff1e10"/><stop offset="0.584" stop-color="#fe0916"/><stop offset="0.623" stop-color="#fc041f"/><stop offset="0.662" stop-color="#fe0916"/><stop offset="0.674" stop-color="#ff1113"/><stop offset="0.690" stop-color="#ff3c10"/><stop offset="0.710" stop-color="#ff9412"/><stop offset="0.729" stop-color="#ffd018"/><stop offset="0.741" stop-color="#fff110"/><stop offset="0.757" stop-color="#ffff10"/><stop offset="0.823" stop-color="#fbfb15"/><stop offset="0.858" stop-color="#e4f02c"/><stop offset="0.949" stop-color="#abd453"/><stop offset="1.000" stop-color="#9cce5e"/></linearGradient><linearGradient id="gf12" x2="1" y2="0"><stop offset="0.000" stop-color="#8fc868"/><stop offset="0.067" stop-color="#94ca65"/><stop offset="0.259" stop-color="#cfe539"/><stop offset="0.274" stop-color="#dfed31"/><stop offset="0.290" stop-color="#fbfb15"/><stop offset="0.408" stop-color="#ffff10"/><stop offset="0.451" stop-color="#fff910"/><stop offset="0.470" stop-color="#ffec11"/><stop offset="0.494" stop-color="#ffb818"/><stop offset="0.517" stop-color="#ff8610"/><stop offset="0.533" stop-color="#ff5210"/><stop offset="0.541" stop-color="#ff3310"/><stop offset="0.549" stop-color="#ff1e10"/><stop offset="0.584" stop-color="#fe0916"/><stop offset="0.623" stop-color="#fc041f"/><stop offset="0.662" stop-color="#fe0916"/><stop offset="0.674" stop-color="#ff1113"/><stop offset="0.690" stop-color="#ff3c10"/><stop offset="0.710" stop-color="#ff9412"/><stop offset="0.729" stop-color="#ffd018"/><stop offset="0.741" stop-color="#fff110"/><stop offset="0.757" stop-color="#ffff10"/><stop offset="0.823" stop-color="#fbfb15"/><stop offset="0.858" stop-color="#e4f02c"/><stop offset="0.949" stop-color="#abd453"/><stop offset="1.000" stop-color="#9cce5e"/></linearGradient><linearGradient id="gf13" x2="1" y2="0"><stop offset="0.000" stop-color="#8fc868"/><stop offset="0.067" stop-color="#94ca65"/><stop offset="0.243" stop-color="#cbe43b"/><stop offset="0.263" stop-color="#e1ee2f"/><stop offset="0.278" stop-color="#fcfc14"/><stop offset="0.443" stop-color="#fffc10"/><stop offset="0.466" stop-color="#fff210"/><stop offset="0.494" stop-color="#ffb818"/><stop offset="0.517" stop-color="#ff8610"/><stop offset="0.533" stop-color="#ff5210"/><stop offset="0.541" stop-color="#ff3310"/><stop offset="0.549" stop-color="#ff1e10"/><stop offset="0.584" stop-color="#fe0916"/><stop offset="0.623" stop-color="#fc041f"/><stop offset="0.662" stop-color="#fe0916"/><stop offset="0.674" stop-color="#ff1113"/><stop offset="0.690" stop-color="#ff3c10"/><stop offset="0.710" stop-color="#ff9412"/><stop offset="0.729" stop-color="#ffd018"/><stop offset="0.741" stop-color="#fff110"/><stop offset="0.757" stop-color="#ffff10"/><stop offset="0.823" stop-color="#fbfb15"/><stop offset="0.858" stop-color="#e4f02c"/><stop offset="0.949" stop-color="#abd453"/><stop offset="1.000" stop-color="#9cce5e"/></linearGradient><linearGradient id="gf14" x2="1" y2="0"><stop offset="0.000" stop-color="#8fc868"/><stop offset="0.067" stop-color="#94ca65"/><stop offset="0.223" stop-color="#c7e23f"/><stop offset="0.251" stop-color="#dfee30"/><stop offset="0.267" stop-color="#fcfc14"/><stop offset="0.443" stop-color="#fffc10"/><stop offset="0.466" stop-color="#fff210"/><stop offset="0.494" stop-color="#ffb818"/><stop offset="0.517" stop-color="#ff8610"/><stop offset="0.533" stop-color="#ff5210"/><stop offset="0.541" stop-color="#ff3310"/><stop offset="0.549" stop-color="#ff1e10"/><stop offset="0.584" stop-color="#fe0916"/><stop offset="0.623" stop-color="#fc041f"/><stop offset="0.662" stop-color="#fe0916"/><stop offset="0.674" stop-color="#ff1113"/><stop offset="0.690" stop-color="#ff3c10"/><stop offset="0.710" stop-color="#ff9412"/><stop offset="0.729" stop-color="#ffd018"/><stop offset="0.741" stop-color="#fff110"/><stop offset="0.757" stop-color="#ffff10"/><stop offset="0.823" stop-color="#fbfb15"/><stop offset="0.858" stop-color="#e4f02c"/><stop offset="0.949" stop-color="#abd453"/><stop offset="1.000" stop-color="#9cce5e"/></linearGradient><linearGradient id="gf15" x2="1" y2="0"><stop offset="0.000" stop-color="#8fc868"/><stop offset="0.067" stop-color="#94ca65"/><stop offset="0.204" stop-color="#c1de44"/><stop offset="0.239" stop-color="#dcec32"/><stop offset="0.259" stop-color="#fcfc13"/><stop offset="0.443" stop-color="#fffc10"/><stop offset="0.466" stop-color="#fff210"/><stop offset="0.494" stop-color="#ffb818"/><stop offset="0.517" stop-color="#ff8610"/><stop offset="0.533" stop-color="#ff5210"/><stop offset="0.541" stop-color="#ff3310"/><stop offset="0.549" stop-color="#ff1e10"/><stop offset="0.584" stop-color="#fe0916"/><stop offset="0.623" stop-color="#fc041f"/><stop offset="0.662" stop-color="#fe0916"/><stop offset="0.674" stop-color="#ff1113"/><stop offset="0.690" stop-color="#ff3c10"/><stop offset="0.710" stop-color="#ff9412"/><stop offset="0.729" stop-color="#ffd018"/><stop offset="0.741" stop-color="#fff110"/><stop offset="0.757" stop-color="#ffff10"/><stop offset="0.823" stop-color="#fbfb15"/><stop offset="0.858" stop-color="#e4f02c"/><stop offset="0.949" stop-color="#abd453"/><stop offset="1.000" stop-color="#9cce5e"/></linearGradient><linearGradient id="gf16" x2="1" y2="0"><stop offset="0.000" stop-color="#8fc868"/><stop offset="0.067" stop-color="#94ca65"/><stop offset="0.200" stop-color="#c0de44"/><stop offset="0.235" stop-color="#dfee30"/><stop offset="0.251" stop-color="#fcfc14"/><stop offset="0.443" stop-color="#fffc10"/><stop offset="0.466" stop-color="#fff210"/><stop offset="0.494" stop-color="#ffb818"/><stop offset="0.517" stop-color="#ff8610"/><stop offset="0.533" stop-color="#ff5210"/><stop offset="0.541" stop-color="#ff3310"/><stop offset="0.549" stop-color="#ff1e10"/><stop offset="0.584" stop-color="#fe0916"/><stop offset="0.623" stop-color="#fc041f"/><stop offset="0.662" stop-color="#fe0916"/><stop offset="0.674" stop-color="#ff1113"/><stop offset="0.690" stop-color="#ff3c10"/><stop offset="0.710" stop-color="#ff9412"/><stop offset="0.729" stop-color="#ffd018"/><stop offset="0.741" stop-color="#fff110"/><stop offset="0.757" stop-color="#ffff10"/><stop offset="0.823" stop-color="#fbfb15"/><stop offset="0.858" stop-color="#e4f02c"/><stop offset="0.949" stop-color="#abd453"/><stop offset="1.000" stop-color="#9cce5e"/></linearGradient><linearGradient id="gf17" x2="1" y2="0"><stop offset="0.000" stop-color="#8fc868"/><stop offset="0.067" stop-color="#94ca65"/><stop offset="0.192" stop-color="#bcdc47"/><stop offset="0.231" stop-color="#e1ee2f"/><stop offset="0.247" stop-color="#fcfc14"/><stop offset="0.443" stop-color="#fffc10"/><stop offset="0.466" stop-color="#fff210"/><stop offset="0.494" stop-color="#ffb818"/><stop offset="0.517" stop-color="#ff8610"/><stop offset="0.533" stop-color="#ff5210"/><stop offset="0.541" stop-color="#ff3310"/><stop offset="0.549" stop-color="#ff1e10"/><stop offset="0.584" stop-color="#fe0916"/><stop offset="0.623" stop-color="#fc041f"/><stop offset="0.662" stop-color="#fe0916"/><stop offset="0.674" stop-color="#ff1113"/><stop offset="0.690" stop-color="#ff3c10"/><stop offset="0.710" stop-color="#ff9412"/><stop offset="0.729" stop-color="#ffd018"/><stop offset="0.741" stop-color="#fff110"/><stop offset="0.757" stop-color="#ffff10"/><stop offset="0.823" stop-color="#fbfb15"/><stop offset="0.858" stop-color="#e4f02c"/><stop offset="0.949" stop-color="#abd453"/><stop offset="1.000" stop-color="#9cce5e"/></linearGradient><linearGradient id="gf18" x2="1" y2="0"><stop offset="0.000" stop-color="#8fc868"/><stop offset="0.067" stop-color="#94ca65"/><stop offset="0.192" stop-color="#bddc46"/><stop offset="0.227" stop-color="#e0ee30"/><stop offset="0.243" stop-color="#fcfc14"/><stop offset="0.443" stop-color="#fffc10"/><stop offset="0.466" stop-color="#fff210"/><stop offset="0.494" stop-color="#ffb818"/><stop offset="0.517" stop-color="#ff8610"/><stop offset="0.533" stop-color="#ff5210"/><stop offset="0.541" stop-color="#ff3310"/><stop offset="0.549" stop-color="#ff1e10"/><stop offset="0.584" stop-color="#fe0916"/><stop offset="0.623" stop-color="#fc041f"/><stop offset="0.662" stop-color="#fe0916"/><stop offset="0.674" stop-color="#ff1113"/><stop offset="0.690" stop-color="#ff3c10"/><stop offset="0.710" stop-color="#ff9412"/><stop offset="0.729" stop-color="#ffd018"/><stop offset="0.741" stop-color="#fff110"/><stop offset="0.757" stop-color="#ffff10"/><stop offset="0.823" stop-color="#fbfb15"/><stop offset="0.858" stop-color="#e4f02c"/><stop offset="0.949" stop-color="#abd453"/><stop offset="1.000" stop-color="#9cce5e"/></linearGradient><linearGradient id="gf19" x2="1" y2="0"><stop offset="0.000" stop-color="#8fc868"/><stop offset="0.067" stop-color="#94ca65"/><stop offset="0.192" stop-color="#bddd46"/><stop offset="0.227" stop-color="#e5f02b"/><stop offset="0.243" stop-color="#fdfd13"/><stop offset="0.443" stop-color="#fffc10"/><stop offset="0.466" stop-color="#fff210"/><stop offset="0.494" stop-color="#ffb818"/><stop offset="0.517" stop-color="#ff8610"/><stop offset="0.533" stop-color="#ff5210"/><stop offset="0.541" stop-color="#ff3310"/><stop offset="0.549" stop-color="#ff1e10"/><stop offset="0.584" stop-color="#fe0916"/><stop offset="0.623" stop-color="#fc041f"/><stop offset="0.662" stop-color="#fe0916"/><stop offset="0.674" stop-color="#ff1113"/><stop offset="0.690" stop-color="#ff3c10"/><stop offset="0.710" stop-color="#ff9412"/><stop offset="0.729" stop-color="#ffd018"/><stop offset="0.741" stop-color="#fff110"/><stop offset="0.757" stop-color="#ffff10"/><stop offset="0.823" stop-color="#fbfb15"/><stop offset="0.858" stop-color="#e4f02c"/><stop offset="0.949" stop-color="#abd453"/><stop offset="1.000" stop-color="#9cce5e"/></linearGradient><linearGradient id="gfb" x2="1" y2="0"><stop offset="0.000" stop-color="#7fbf75"/><stop offset="0.223" stop-color="#83c171"/><stop offset="0.278" stop-color="#8dc66a"/><stop offset="0.329" stop-color="#85c26f"/><stop offset="0.353" stop-color="#7fbf75"/><stop offset="0.474" stop-color="#81c173"/><stop offset="0.490" stop-color="#8cc66a"/><stop offset="0.553" stop-color="#a4d158"/><stop offset="0.600" stop-color="#d9ea34"/><stop offset="0.619" stop-color="#f3f61d"/><stop offset="0.647" stop-color="#fcfc14"/><stop offset="0.670" stop-color="#eff421"/><stop offset="0.706" stop-color="#bedd46"/><stop offset="0.745" stop-color="#9dcf5d"/><stop offset="0.808" stop-color="#87c36d"/><stop offset="0.823" stop-color="#7fbf75"/><stop offset="1.000" stop-color="#7fbf75"/></linearGradient><linearGradient id="gcb" x2="0" y2="1"><stop offset="0.000" stop-color="#f0003c"/><stop offset="0.094" stop-color="#fe0719"/><stop offset="0.200" stop-color="#ff2a10"/><stop offset="0.266" stop-color="#ff5010"/><stop offset="0.397" stop-color="#ffa516"/><stop offset="0.494" stop-color="#ffe114"/><stop offset="0.544" stop-color="#fff910"/><stop offset="0.591" stop-color="#ffff10"/><stop offset="0.678" stop-color="#f9fa17"/><stop offset="0.734" stop-color="#dcec32"/><stop offset="0.831" stop-color="#9dce5d"/><stop offset="0.897" stop-color="#83c171"/><stop offset="0.906" stop-color="#74ba80"/><stop offset="0.919" stop-color="#4daaa5"/><stop offset="0.931" stop-color="#3ca8c8"/><stop offset="0.966" stop-color="#466dc9"/><stop offset="0.984" stop-color="#4647b8"/><stop offset="1.000" stop-color="#3a1ea8"/></linearGradient><radialGradient id="gpur" cx="0.42" cy="0.38" r="0.62"><stop offset="0" stop-color="#e6a8f6"/><stop offset="0.35" stop-color="#c460e4"/><stop offset="1" stop-color="#9a3ac4"/></radialGradient><radialGradient id="ggold" cx="0.42" cy="0.38" r="0.62"><stop offset="0" stop-color="#dcc080"/><stop offset="0.35" stop-color="#b89040"/><stop offset="1" stop-color="#8a6a22"/></radialGradient></defs><rect x="50.5" y="2.8" width="249.9" height="91.4" fill="url(#bgab)" />
<clipPath id="clipa"><rect x="50.5" y="2.8" width="249.89999999999998" height="91.4"/></clipPath>
<g clip-path="url(#clipa)" fill="none" stroke="#0bcc0b" stroke-width="1.5"><circle cx="50.54" cy="56.57" r="2.75"/><circle cx="51.77" cy="62.35" r="2.75"/><circle cx="53" cy="52.83" r="2.75"/><circle cx="54.22" cy="48" r="2.75"/><circle cx="55.45" cy="41.04" r="2.75"/><circle cx="56.68" cy="35.13" r="2.75"/><circle cx="57.9" cy="35.21" r="2.75"/><circle cx="59.13" cy="33.12" r="2.75"/><circle cx="60.36" cy="40.03" r="2.75"/><circle cx="61.58" cy="43.2" r="2.75"/><circle cx="62.81" cy="60.58" r="2.75"/><circle cx="64.03" cy="73.74" r="2.75"/><circle cx="65.26" cy="83.41" r="2.75"/><circle cx="66.49" cy="89.49" r="2.75"/><circle cx="67.71" cy="90" r="2.75"/><circle cx="68.94" cy="82.76" r="2.75"/><circle cx="70.17" cy="70.05" r="2.75"/><circle cx="71.39" cy="56.42" r="2.75"/><circle cx="72.62" cy="38.28" r="2.75"/><circle cx="73.85" cy="25.27" r="2.75"/><circle cx="75.07" cy="13.4" r="2.75"/><circle cx="76.3" cy="4.45" r="2.75"/><circle cx="77.52" cy="5.91" r="2.75"/><circle cx="78.75" cy="13.24" r="2.75"/><circle cx="79.98" cy="22.99" r="2.75"/><circle cx="81.2" cy="35.19" r="2.75"/><circle cx="82.43" cy="47.35" r="2.75"/><circle cx="83.66" cy="64.06" r="2.75"/><circle cx="84.88" cy="73.66" r="2.75"/><circle cx="86.11" cy="76.38" r="2.75"/><circle cx="87.34" cy="78.82" r="2.75"/><circle cx="88.56" cy="72.35" r="2.75"/><circle cx="89.79" cy="61.07" r="2.75"/><circle cx="91.02" cy="49.98" r="2.75"/><circle cx="92.24" cy="39.07" r="2.75"/><circle cx="93.47" cy="28.25" r="2.75"/><circle cx="94.69" cy="27.64" r="2.75"/><circle cx="95.92" cy="19.55" r="2.75"/><circle cx="97.15" cy="25.31" r="2.75"/><circle cx="98.37" cy="32.79" r="2.75"/><circle cx="99.6" cy="38.5" r="2.75"/><circle cx="100.83" cy="48.12" r="2.75"/><circle cx="102.05" cy="60.27" r="2.75"/><circle cx="103.28" cy="69.96" r="2.75"/><circle cx="104.51" cy="74.08" r="2.75"/><circle cx="105.73" cy="76.5" r="2.75"/><circle cx="106.96" cy="72.33" r="2.75"/><circle cx="108.18" cy="68.11" r="2.75"/><circle cx="109.41" cy="61.06" r="2.75"/><circle cx="110.64" cy="50.27" r="2.75"/><circle cx="111.86" cy="43.31" r="2.75"/><circle cx="113.09" cy="37.12" r="2.75"/><circle cx="114.32" cy="30.34" r="2.75"/><circle cx="115.54" cy="29.69" r="2.75"/><circle cx="116.77" cy="33.65" r="2.75"/><circle cx="118" cy="39.96" r="2.75"/><circle cx="119.22" cy="45.62" r="2.75"/><circle cx="120.45" cy="58.15" r="2.75"/><circle cx="121.68" cy="60.39" r="2.75"/><circle cx="122.9" cy="66.45" r="2.75"/><circle cx="124.13" cy="73.05" r="2.75"/><circle cx="125.35" cy="70.21" r="2.75"/><circle cx="126.58" cy="68.79" r="2.75"/><circle cx="127.81" cy="60.46" r="2.75"/><circle cx="129.03" cy="57.94" r="2.75"/><circle cx="130.26" cy="48.46" r="2.75"/><circle cx="131.49" cy="38.85" r="2.75"/><circle cx="132.71" cy="32.94" r="2.75"/><circle cx="133.94" cy="35.72" r="2.75"/><circle cx="135.17" cy="33.12" r="2.75"/><circle cx="136.39" cy="34.27" r="2.75"/><circle cx="137.62" cy="40.24" r="2.75"/><circle cx="138.84" cy="42.15" r="2.75"/><circle cx="140.07" cy="52.4" r="2.75"/><circle cx="141.3" cy="54.79" r="2.75"/><circle cx="142.52" cy="60.42" r="2.75"/><circle cx="143.75" cy="57.59" r="2.75"/><circle cx="144.98" cy="58.92" r="2.75"/><circle cx="146.2" cy="56.81" r="2.75"/><circle cx="147.43" cy="55.1" r="2.75"/><circle cx="148.66" cy="45" r="2.75"/><circle cx="149.88" cy="42.15" r="2.75"/><circle cx="151.11" cy="38.62" r="2.75"/><circle cx="152.34" cy="35.97" r="2.75"/><circle cx="153.56" cy="37.03" r="2.75"/><circle cx="154.79" cy="40.09" r="2.75"/><circle cx="156.01" cy="43.2" r="2.75"/><circle cx="157.24" cy="47.07" r="2.75"/><circle cx="158.47" cy="47.78" r="2.75"/><circle cx="159.69" cy="56.44" r="2.75"/><circle cx="160.92" cy="58.21" r="2.75"/><circle cx="162.15" cy="59.61" r="2.75"/><circle cx="163.37" cy="58.93" r="2.75"/><circle cx="164.6" cy="57.22" r="2.75"/><circle cx="165.83" cy="57.96" r="2.75"/><circle cx="167.05" cy="55.65" r="2.75"/><circle cx="168.28" cy="49.4" r="2.75"/><circle cx="169.5" cy="44.17" r="2.75"/><circle cx="170.73" cy="42.31" r="2.75"/><circle cx="171.96" cy="41.69" r="2.75"/><circle cx="173.18" cy="42.34" r="2.75"/><circle cx="174.41" cy="42.41" r="2.75"/><circle cx="175.64" cy="45.5" r="2.75"/><circle cx="176.86" cy="46.75" r="2.75"/><circle cx="178.09" cy="52.68" r="2.75"/><circle cx="179.32" cy="54.18" r="2.75"/><circle cx="180.54" cy="56.84" r="2.75"/><circle cx="181.77" cy="56.9" r="2.75"/><circle cx="183" cy="57.32" r="2.75"/><circle cx="184.22" cy="52.3" r="2.75"/><circle cx="185.45" cy="51.94" r="2.75"/><circle cx="186.67" cy="49.34" r="2.75"/><circle cx="187.9" cy="52.48" r="2.75"/><circle cx="189.13" cy="47.42" r="2.75"/><circle cx="190.35" cy="46.35" r="2.75"/><circle cx="191.58" cy="43.98" r="2.75"/><circle cx="192.81" cy="49.15" r="2.75"/><circle cx="194.03" cy="44.92" r="2.75"/><circle cx="195.26" cy="47.16" r="2.75"/><circle cx="196.49" cy="53.4" r="2.75"/><circle cx="197.71" cy="55.13" r="2.75"/><circle cx="198.94" cy="56.63" r="2.75"/><circle cx="200.16" cy="56.26" r="2.75"/><circle cx="201.39" cy="55.34" r="2.75"/><circle cx="202.62" cy="52.25" r="2.75"/><circle cx="203.84" cy="54.47" r="2.75"/><circle cx="205.07" cy="50.97" r="2.75"/><circle cx="206.3" cy="49.92" r="2.75"/><circle cx="207.52" cy="45.43" r="2.75"/><circle cx="208.75" cy="45.78" r="2.75"/><circle cx="209.98" cy="44.15" r="2.75"/><circle cx="211.2" cy="48.32" r="2.75"/><circle cx="212.43" cy="47.68" r="2.75"/><circle cx="213.66" cy="50.01" r="2.75"/><circle cx="214.88" cy="47.79" r="2.75"/><circle cx="216.11" cy="50.77" r="2.75"/><circle cx="217.33" cy="53.65" r="2.75"/><circle cx="218.56" cy="54.69" r="2.75"/><circle cx="219.79" cy="53.32" r="2.75"/><circle cx="221.01" cy="54.87" r="2.75"/><circle cx="222.24" cy="54.37" r="2.75"/><circle cx="223.47" cy="50.85" r="2.75"/><circle cx="224.69" cy="46.23" r="2.75"/><circle cx="225.92" cy="49.33" r="2.75"/><circle cx="227.15" cy="48.72" r="2.75"/><circle cx="228.37" cy="49" r="2.75"/><circle cx="229.6" cy="49.01" r="2.75"/><circle cx="230.82" cy="46.25" r="2.75"/><circle cx="232.05" cy="46.51" r="2.75"/><circle cx="233.28" cy="49.02" r="2.75"/><circle cx="234.5" cy="49.76" r="2.75"/><circle cx="235.73" cy="51.26" r="2.75"/><circle cx="236.96" cy="52.05" r="2.75"/><circle cx="238.18" cy="55.13" r="2.75"/><circle cx="239.41" cy="53.24" r="2.75"/><circle cx="240.64" cy="51.83" r="2.75"/><circle cx="241.86" cy="52.55" r="2.75"/><circle cx="243.09" cy="51.12" r="2.75"/><circle cx="244.32" cy="50.74" r="2.75"/><circle cx="245.54" cy="49.1" r="2.75"/><circle cx="246.77" cy="46.56" r="2.75"/><circle cx="247.99" cy="48.36" r="2.75"/><circle cx="249.22" cy="48.03" r="2.75"/><circle cx="250.45" cy="46.89" r="2.75"/><circle cx="251.67" cy="47.9" r="2.75"/><circle cx="252.9" cy="47.08" r="2.75"/><circle cx="254.13" cy="54.23" r="2.75"/><circle cx="255.35" cy="50.21" r="2.75"/><circle cx="256.58" cy="53" r="2.75"/><circle cx="257.81" cy="52.24" r="2.75"/><circle cx="259.03" cy="51" r="2.75"/><circle cx="260.26" cy="50.25" r="2.75"/><circle cx="261.48" cy="49.77" r="2.75"/><circle cx="262.71" cy="50.57" r="2.75"/><circle cx="263.94" cy="47.54" r="2.75"/><circle cx="265.16" cy="50.12" r="2.75"/><circle cx="266.39" cy="49.59" r="2.75"/><circle cx="267.62" cy="48.01" r="2.75"/><circle cx="268.84" cy="50.48" r="2.75"/><circle cx="270.07" cy="46.52" r="2.75"/><circle cx="271.3" cy="49.04" r="2.75"/><circle cx="272.52" cy="47.84" r="2.75"/><circle cx="273.75" cy="52.07" r="2.75"/><circle cx="274.98" cy="53.08" r="2.75"/><circle cx="276.2" cy="52.34" r="2.75"/><circle cx="277.43" cy="51.29" r="2.75"/><circle cx="278.65" cy="53.09" r="2.75"/><circle cx="279.88" cy="50.95" r="2.75"/><circle cx="281.11" cy="51" r="2.75"/><circle cx="282.33" cy="47.77" r="2.75"/><circle cx="283.56" cy="51.13" r="2.75"/><circle cx="284.79" cy="48.19" r="2.75"/><circle cx="286.01" cy="51.05" r="2.75"/><circle cx="287.24" cy="51.84" r="2.75"/><circle cx="288.47" cy="51.82" r="2.75"/><circle cx="289.69" cy="53.06" r="2.75"/><circle cx="290.92" cy="51.3" r="2.75"/><circle cx="292.14" cy="50.18" r="2.75"/><circle cx="293.37" cy="51.77" r="2.75"/><circle cx="294.6" cy="50.98" r="2.75"/><circle cx="295.82" cy="49.07" r="2.75"/><circle cx="297.05" cy="50.89" r="2.75"/><circle cx="298.28" cy="50.54" r="2.75"/><circle cx="299.5" cy="50.91" r="2.75"/><circle cx="300.73" cy="52.87" r="2.75"/></g>
<g clip-path="url(#clipa)">
<polyline points="50.5,57.8 51.1,57.3 51.7,56.2 52.2,54.2 52.8,51.7 53.3,48.6 53.9,45.2 54.5,41.6 55,38 55.6,34.6 56.1,31.5 56.7,29 57.3,27 57.8,25.8 58.4,25.4 59,26.2 59.6,28.3 60.2,31.8 60.9,36.5 61.5,42 62.1,48.2 62.7,54.7 63.4,61.2 64,67.4 64.6,73 65.3,77.6 65.9,81.1 66.5,83.3 67.1,84 67.8,83.2 68.5,80.7 69.2,76.7 69.9,71.4 70.6,65 71.3,58 72,50.5 72.7,43.1 73.4,36 74.1,29.6 74.8,24.3 75.5,20.3 76.2,17.9 76.9,17 77.6,17.8 78.3,20.2 79,24.1 79.7,29.2 80.4,35.3 81,42.1 81.7,49.3 82.4,56.5 83.1,63.3 83.8,69.4 84.5,74.5 85.2,78.4 85.8,80.8 86.5,81.6 87.2,80.9 87.8,78.7 88.5,75.2 89.2,70.6 89.8,65.1 90.5,59 91.1,52.5 91.8,46 92.5,39.9 93.1,34.4 93.8,29.7 94.4,26.3 95.1,24.1 95.7,23.4 96.5,24 97.2,25.9 97.9,28.9 98.6,33 99.3,37.8 100.1,43.1 100.8,48.8 101.5,54.4 102.2,59.8 102.9,64.6 103.6,68.6 104.4,71.6 105.1,73.5 105.8,74.2 106.5,73.6 107.1,72 107.8,69.3 108.5,65.9 109.1,61.7 109.8,57 110.5,52.1 111.1,47.2 111.8,42.5 112.5,38.4 113.1,34.9 113.8,32.2 114.5,30.6 115.1,30.1 115.8,30.5 116.5,32 117.2,34.2 117.9,37.3 118.6,40.9 119.2,45 119.9,49.2 120.6,53.5 121.3,57.5 122,61.2 122.7,64.2 123.3,66.5 124,67.9 124.7,68.4 125.4,67.9 126.1,66.7 126.8,64.7 127.5,62 128.2,58.8 128.9,55.2 129.6,51.4 130.3,47.7 130.9,44.1 131.6,40.9 132.3,38.2 133,36.2 133.7,34.9 134.4,34.5 135.1,34.9 135.7,36 136.4,37.8 137.1,40.1 137.7,42.9 138.4,46.1 139.1,49.4 139.7,52.7 140.4,55.9 141.1,58.7 141.7,61.1 142.4,62.8 143.1,63.9 143.8,64.3 144.4,64 145.1,63 145.8,61.5 146.4,59.5 147.1,57 147.8,54.3 148.4,51.4 149.1,48.6 149.8,45.8 150.4,43.4 151.1,41.4 151.8,39.8 152.4,38.9 153.1,38.6 153.8,38.8 154.5,39.6 155.2,40.9 155.9,42.6 156.6,44.6 157.3,46.9 158,49.3 158.7,51.6 159.4,53.9 160.1,55.9 160.8,57.6 161.5,58.9 162.2,59.7 162.9,60 163.6,59.7 164.3,59.1 165,58 165.7,56.6 166.5,54.9 167.2,53 167.9,51 168.6,48.9 169.3,47 170,45.3 170.7,43.9 171.4,42.8 172.1,42.2 172.8,41.9 173.5,42.1 174.2,42.7 174.8,43.7 175.5,44.9 176.2,46.4 176.8,48.1 177.5,49.8 178.2,51.6 178.8,53.3 179.5,54.8 180.2,56 180.8,57 181.5,57.6 182.2,57.8 182.8,57.6 183.5,57.1 184.2,56.3 184.8,55.2 185.5,54 186.2,52.5 186.8,51 187.5,49.6 188.2,48.1 188.9,46.9 189.5,45.8 190.2,45 190.9,44.5 191.5,44.3 192.2,44.5 192.9,44.9 193.5,45.6 194.2,46.5 194.9,47.6 195.5,48.8 196.2,50.1 196.9,51.4 197.5,52.6 198.2,53.7 198.9,54.7 199.5,55.3 200.2,55.8 200.9,55.9 201.5,55.8 202.2,55.4 202.9,54.8 203.5,54.1 204.2,53.1 204.9,52.1 205.5,51 206.2,49.8 206.9,48.8 207.5,47.9 208.2,47.1 208.9,46.5 209.5,46.1 210.2,46 210.9,46.1 211.5,46.4 212.2,46.9 212.9,47.5 213.5,48.3 214.2,49.2 214.9,50.1 215.5,51 216.2,51.9 216.9,52.6 217.6,53.3 218.2,53.8 218.9,54.1 219.6,54.2 220.3,54.1 221,53.8 221.7,53.4 222.4,52.9 223.1,52.2 223.8,51.5 224.5,50.7 225.2,49.9 225.9,49.2 226.6,48.5 227.4,48 228.1,47.6 228.8,47.3 229.5,47.2 230.1,47.3 230.7,47.5 231.4,47.9 232,48.4 232.7,48.9 233.3,49.6 233.9,50.2 234.6,50.9 235.2,51.5 235.8,52.1 236.5,52.6 237.1,52.9 237.7,53.1 238.4,53.2 239.1,53.2 239.8,53 240.5,52.7 241.2,52.3 241.9,51.8 242.7,51.2 243.4,50.7 244.1,50.1 244.8,49.6 245.5,49.1 246.3,48.7 247,48.4 247.7,48.2 248.4,48.1 249.1,48.2 249.8,48.3 250.4,48.6 251.1,48.9 251.8,49.4 252.5,49.8 253.1,50.3 253.8,50.8 254.5,51.3 255.2,51.7 255.8,52.1 256.5,52.3 257.2,52.5 257.9,52.5 258.5,52.5 259.2,52.4 259.9,52.2 260.6,51.9 261.2,51.5 261.9,51.2 262.6,50.8 263.3,50.4 263.9,50 264.6,49.6 265.3,49.4 266,49.2 266.6,49 267.3,49 268,49 268.6,49.1 269.2,49.3 269.9,49.6 270.5,49.8 271.1,50.2 271.8,50.5 272.4,50.9 273,51.2 273.7,51.5 274.3,51.7 274.9,51.9 275.6,52 276.2,52.1 276.8,52 277.4,51.9 278,51.8 278.6,51.6 279.2,51.3 279.9,51 280.5,50.7 281.1,50.4 281.7,50.1 282.3,49.9 282.9,49.7 283.5,49.5 284.1,49.4 284.7,49.4 285.4,49.4 286.1,49.5 286.7,49.6 287.4,49.8 288.1,50 288.7,50.3 289.4,50.6 290.1,50.8 290.7,51.1 291.4,51.3 292.1,51.5 292.7,51.7 293.4,51.7 294.1,51.8 294.6,51.8 295.1,51.7 295.6,51.6 296.1,51.5 296.6,51.3 297.1,51.2 297.6,51 298.1,50.8 298.6,50.7 299.1,50.5 299.6,50.4 300.1,50.3 300.6,50.2 301.1,50.2" fill="none" stroke="#111" stroke-width="1.6" stroke-linejoin="round" />
</g>
<rect x="50.5" y="2.8" width="249.9" height="91.4" fill="none" stroke="#222" stroke-width="1.5" />
<line x1="55.8" y1="94.2" x2="55.8" y2="91" stroke="#000" stroke-width="1.2" />
<line x1="85" y1="94.2" x2="85" y2="92.2" stroke="#000" stroke-width="1.2" />
<line x1="114.2" y1="94.2" x2="114.2" y2="91" stroke="#000" stroke-width="1.2" />
<line x1="143.4" y1="94.2" x2="143.4" y2="92.2" stroke="#000" stroke-width="1.2" />
<line x1="172.6" y1="94.2" x2="172.6" y2="91" stroke="#000" stroke-width="1.2" />
<line x1="201.8" y1="94.2" x2="201.8" y2="92.2" stroke="#000" stroke-width="1.2" />
<line x1="231" y1="94.2" x2="231" y2="91" stroke="#000" stroke-width="1.2" />
<line x1="260.2" y1="94.2" x2="260.2" y2="92.2" stroke="#000" stroke-width="1.2" />
<line x1="289.4" y1="94.2" x2="289.4" y2="91" stroke="#000" stroke-width="1.2" />
<line x1="50.5" y1="12.4" x2="54" y2="12.4" stroke="#000" stroke-width="1.2" />
<line x1="50.5" y1="31.7" x2="52.7" y2="31.7" stroke="#000" stroke-width="1.2" />
<line x1="50.5" y1="51" x2="54" y2="51" stroke="#000" stroke-width="1.2" />
<line x1="50.5" y1="70.3" x2="52.7" y2="70.3" stroke="#000" stroke-width="1.2" />
<line x1="50.5" y1="89.6" x2="54" y2="89.6" stroke="#000" stroke-width="1.2" />
<text x="45" y="18.8" font-size="15" text-anchor="end" >4</text>
<text x="45" y="58.7" font-size="15" text-anchor="end" >0</text>
<text x="45" y="94.3" font-size="15" text-anchor="end" >-4</text>
<text x="58.4" y="108.3" font-size="15" text-anchor="middle" >0.0</text>
<text x="114.6" y="108.3" font-size="15" text-anchor="middle" >0.5</text>
<text x="173.9" y="108.3" font-size="15" text-anchor="middle" >1.0</text>
<text x="231.5" y="108.3" font-size="15" text-anchor="middle" >1.5</text>
<text x="288.8" y="108.3" font-size="15" text-anchor="middle" >2.0</text>
<text x="177.5" y="122.6" font-size="15.5" text-anchor="middle" >Waiting time (ps)</text>
<text x="2" y="14.8" font-size="23" font-weight="bold" >a</text>
<text x="104.5" y="19" font-size="15.5" >λ<tspan font-size="11" dy="4.8">pump</tspan><tspan dy="-4.8">= 532 nm</tspan></text>
<text x="207.3" y="19" font-size="15.5" >λ<tspan font-size="11" dy="4.8">probe</tspan><tspan dy="-4.8">= 900 nm</tspan></text>
<text transform="translate(12.8,54.7) rotate(-90)" font-size="15" text-anchor="middle" >-ΔT/T (%)</text>
<rect x="389.6" y="2" width="249.9" height="91.9" fill="url(#bgab2)" />
<clipPath id="clipb"><rect x="389.6" y="2.0" width="249.89999999999998" height="91.9"/></clipPath>
<g clip-path="url(#clipb)" fill="none" stroke="#ee1212" stroke-width="1.5"><circle cx="392.01" cy="52.38" r="2.75"/><circle cx="393.23" cy="48.08" r="2.75"/><circle cx="394.45" cy="41.2" r="2.75"/><circle cx="395.67" cy="36.31" r="2.75"/><circle cx="396.89" cy="33.68" r="2.75"/><circle cx="398.11" cy="37.93" r="2.75"/><circle cx="399.33" cy="46.42" r="2.75"/><circle cx="400.55" cy="57.55" r="2.75"/><circle cx="401.77" cy="67.05" r="2.75"/><circle cx="402.99" cy="76.31" r="2.75"/><circle cx="404.22" cy="85.68" r="2.75"/><circle cx="405.44" cy="90.4" r="2.75"/><circle cx="406.66" cy="86.68" r="2.75"/><circle cx="407.88" cy="74.18" r="2.75"/><circle cx="409.1" cy="63.88" r="2.75"/><circle cx="410.32" cy="51.9" r="2.75"/><circle cx="411.54" cy="34.1" r="2.75"/><circle cx="412.76" cy="22.27" r="2.75"/><circle cx="413.98" cy="11.71" r="2.75"/><circle cx="415.2" cy="6.84" r="2.75"/><circle cx="416.42" cy="7.87" r="2.75"/><circle cx="417.64" cy="11.58" r="2.75"/><circle cx="418.86" cy="22.4" r="2.75"/><circle cx="420.08" cy="35.46" r="2.75"/><circle cx="421.3" cy="46.71" r="2.75"/><circle cx="422.52" cy="57.54" r="2.75"/><circle cx="423.74" cy="69.57" r="2.75"/><circle cx="424.96" cy="71.08" r="2.75"/><circle cx="426.18" cy="71.55" r="2.75"/><circle cx="427.4" cy="66.51" r="2.75"/><circle cx="428.62" cy="61.98" r="2.75"/><circle cx="429.84" cy="52.2" r="2.75"/><circle cx="431.06" cy="44.36" r="2.75"/><circle cx="432.28" cy="37.82" r="2.75"/><circle cx="433.5" cy="34.08" r="2.75"/><circle cx="434.72" cy="31.15" r="2.75"/><circle cx="435.94" cy="33.48" r="2.75"/><circle cx="437.16" cy="38.17" r="2.75"/><circle cx="438.38" cy="42.3" r="2.75"/><circle cx="439.6" cy="52.21" r="2.75"/><circle cx="440.82" cy="56.36" r="2.75"/><circle cx="442.04" cy="63.33" r="2.75"/><circle cx="443.26" cy="71.28" r="2.75"/><circle cx="444.48" cy="68.35" r="2.75"/><circle cx="445.7" cy="68.54" r="2.75"/><circle cx="446.92" cy="62.71" r="2.75"/><circle cx="448.14" cy="57.09" r="2.75"/><circle cx="449.36" cy="54.06" r="2.75"/><circle cx="450.58" cy="45.41" r="2.75"/><circle cx="451.8" cy="40.72" r="2.75"/><circle cx="453.02" cy="36.07" r="2.75"/><circle cx="454.24" cy="39.08" r="2.75"/><circle cx="455.46" cy="38.29" r="2.75"/><circle cx="456.68" cy="45.63" r="2.75"/><circle cx="457.9" cy="50.39" r="2.75"/><circle cx="459.12" cy="57.65" r="2.75"/><circle cx="460.34" cy="59.89" r="2.75"/><circle cx="461.56" cy="65.42" r="2.75"/><circle cx="462.78" cy="64.3" r="2.75"/><circle cx="464" cy="66.36" r="2.75"/><circle cx="465.22" cy="63.14" r="2.75"/><circle cx="466.44" cy="58.51" r="2.75"/><circle cx="467.66" cy="55.11" r="2.75"/><circle cx="468.88" cy="48.54" r="2.75"/><circle cx="470.1" cy="41.41" r="2.75"/><circle cx="471.32" cy="40.8" r="2.75"/><circle cx="472.54" cy="38.62" r="2.75"/><circle cx="473.76" cy="39.83" r="2.75"/><circle cx="474.98" cy="41.26" r="2.75"/><circle cx="476.2" cy="46.42" r="2.75"/><circle cx="477.42" cy="50.5" r="2.75"/><circle cx="478.64" cy="54.35" r="2.75"/><circle cx="479.86" cy="58.53" r="2.75"/><circle cx="481.08" cy="62.86" r="2.75"/><circle cx="482.3" cy="61.37" r="2.75"/><circle cx="483.52" cy="64.47" r="2.75"/><circle cx="484.74" cy="62.54" r="2.75"/><circle cx="485.96" cy="59.67" r="2.75"/><circle cx="487.18" cy="52.47" r="2.75"/><circle cx="488.4" cy="50.74" r="2.75"/><circle cx="489.62" cy="48.32" r="2.75"/><circle cx="490.84" cy="46.18" r="2.75"/><circle cx="492.06" cy="42.72" r="2.75"/><circle cx="493.28" cy="45.29" r="2.75"/><circle cx="494.5" cy="46.85" r="2.75"/><circle cx="495.72" cy="45.84" r="2.75"/><circle cx="496.94" cy="51.05" r="2.75"/><circle cx="498.16" cy="52.07" r="2.75"/><circle cx="499.38" cy="53.59" r="2.75"/><circle cx="500.6" cy="55.61" r="2.75"/><circle cx="501.82" cy="55.43" r="2.75"/><circle cx="503.04" cy="52.76" r="2.75"/><circle cx="504.26" cy="54.42" r="2.75"/><circle cx="505.48" cy="53.78" r="2.75"/><circle cx="506.7" cy="52.69" r="2.75"/><circle cx="507.92" cy="48.31" r="2.75"/><circle cx="509.14" cy="47.21" r="2.75"/><circle cx="510.36" cy="45.66" r="2.75"/><circle cx="511.58" cy="47.08" r="2.75"/><circle cx="512.8" cy="48.23" r="2.75"/><circle cx="514.02" cy="50.4" r="2.75"/><circle cx="515.24" cy="52.27" r="2.75"/><circle cx="516.46" cy="53.39" r="2.75"/><circle cx="517.68" cy="56.08" r="2.75"/><circle cx="518.9" cy="56.54" r="2.75"/><circle cx="520.12" cy="54.1" r="2.75"/><circle cx="521.34" cy="55.96" r="2.75"/><circle cx="522.56" cy="58.17" r="2.75"/><circle cx="523.78" cy="51.54" r="2.75"/><circle cx="525" cy="52.01" r="2.75"/><circle cx="526.23" cy="52.32" r="2.75"/><circle cx="527.45" cy="47.97" r="2.75"/><circle cx="528.67" cy="48.34" r="2.75"/><circle cx="529.89" cy="48.95" r="2.75"/><circle cx="531.11" cy="49.21" r="2.75"/><circle cx="532.33" cy="50.54" r="2.75"/><circle cx="533.55" cy="50.08" r="2.75"/><circle cx="534.77" cy="49.85" r="2.75"/><circle cx="535.99" cy="53.34" r="2.75"/><circle cx="537.21" cy="53.2" r="2.75"/><circle cx="538.43" cy="51.48" r="2.75"/><circle cx="539.65" cy="56.35" r="2.75"/><circle cx="540.87" cy="53.83" r="2.75"/><circle cx="542.09" cy="54.34" r="2.75"/><circle cx="543.31" cy="54.99" r="2.75"/><circle cx="544.53" cy="54.35" r="2.75"/><circle cx="545.75" cy="52.19" r="2.75"/><circle cx="546.97" cy="50.98" r="2.75"/><circle cx="548.19" cy="52.1" r="2.75"/><circle cx="549.41" cy="50.99" r="2.75"/><circle cx="550.63" cy="50.08" r="2.75"/><circle cx="551.85" cy="51.6" r="2.75"/><circle cx="553.07" cy="52.1" r="2.75"/><circle cx="554.29" cy="54.24" r="2.75"/><circle cx="555.51" cy="55.41" r="2.75"/><circle cx="556.73" cy="53.85" r="2.75"/><circle cx="557.95" cy="55.56" r="2.75"/><circle cx="559.17" cy="55.66" r="2.75"/><circle cx="560.39" cy="53.67" r="2.75"/><circle cx="561.61" cy="54.88" r="2.75"/><circle cx="562.83" cy="52.49" r="2.75"/><circle cx="564.05" cy="49.31" r="2.75"/><circle cx="565.27" cy="48.39" r="2.75"/><circle cx="566.49" cy="46.15" r="2.75"/><circle cx="567.71" cy="48.21" r="2.75"/><circle cx="568.93" cy="50.71" r="2.75"/><circle cx="570.15" cy="46.1" r="2.75"/><circle cx="571.37" cy="48.54" r="2.75"/><circle cx="572.59" cy="53.13" r="2.75"/><circle cx="573.81" cy="50.39" r="2.75"/><circle cx="575.03" cy="53.17" r="2.75"/><circle cx="576.25" cy="56.22" r="2.75"/><circle cx="577.47" cy="53.9" r="2.75"/><circle cx="578.69" cy="53.71" r="2.75"/><circle cx="579.91" cy="49.97" r="2.75"/><circle cx="581.13" cy="53.17" r="2.75"/><circle cx="582.35" cy="51.78" r="2.75"/><circle cx="583.57" cy="51.33" r="2.75"/><circle cx="584.79" cy="51.12" r="2.75"/><circle cx="586.01" cy="51.75" r="2.75"/><circle cx="587.23" cy="49.98" r="2.75"/><circle cx="588.45" cy="49.08" r="2.75"/><circle cx="589.67" cy="50.58" r="2.75"/><circle cx="590.89" cy="53.88" r="2.75"/><circle cx="592.11" cy="54.87" r="2.75"/><circle cx="593.33" cy="53.07" r="2.75"/><circle cx="594.55" cy="54.3" r="2.75"/><circle cx="595.77" cy="53.94" r="2.75"/><circle cx="596.99" cy="55.24" r="2.75"/><circle cx="598.21" cy="49.13" r="2.75"/><circle cx="599.43" cy="50.32" r="2.75"/><circle cx="600.65" cy="52.9" r="2.75"/><circle cx="601.87" cy="49.68" r="2.75"/><circle cx="603.09" cy="48.85" r="2.75"/><circle cx="604.31" cy="54.73" r="2.75"/><circle cx="605.53" cy="52.12" r="2.75"/><circle cx="606.75" cy="52.36" r="2.75"/><circle cx="607.97" cy="51.36" r="2.75"/><circle cx="609.19" cy="53.23" r="2.75"/><circle cx="610.41" cy="53.99" r="2.75"/><circle cx="611.63" cy="54.15" r="2.75"/><circle cx="612.85" cy="51.34" r="2.75"/><circle cx="614.07" cy="50.75" r="2.75"/><circle cx="615.29" cy="54.51" r="2.75"/><circle cx="616.51" cy="54.4" r="2.75"/><circle cx="617.73" cy="47.82" r="2.75"/><circle cx="618.95" cy="52.56" r="2.75"/><circle cx="620.17" cy="50.96" r="2.75"/><circle cx="621.39" cy="49.2" r="2.75"/><circle cx="622.61" cy="47.95" r="2.75"/><circle cx="623.83" cy="46.86" r="2.75"/><circle cx="625.05" cy="48.02" r="2.75"/><circle cx="626.27" cy="50.57" r="2.75"/><circle cx="627.49" cy="49.27" r="2.75"/><circle cx="628.71" cy="50.65" r="2.75"/><circle cx="629.93" cy="49" r="2.75"/><circle cx="631.15" cy="52.59" r="2.75"/><circle cx="632.37" cy="54.9" r="2.75"/><circle cx="633.59" cy="54.37" r="2.75"/><circle cx="634.81" cy="50.24" r="2.75"/><circle cx="636.03" cy="53.07" r="2.75"/><circle cx="637.25" cy="55.22" r="2.75"/><circle cx="638.47" cy="52.62" r="2.75"/></g>
<g clip-path="url(#clipb)">
<polyline points="392,46 392.4,45.9 392.7,45.6 393.1,45.1 393.5,44.4 393.8,43.6 394.2,42.7 394.6,41.7 394.9,40.8 395.3,39.9 395.6,39.1 396,38.4 396.4,37.9 396.7,37.6 397.1,37.5 397.7,38.1 398.3,39.9 398.9,42.9 399.5,46.8 400.1,51.5 400.7,56.8 401.3,62.3 401.9,67.8 402.5,73 403.1,77.8 403.7,81.7 404.3,84.6 404.9,86.5 405.5,87.1 406.2,86.2 406.9,83.6 407.7,79.4 408.4,73.8 409.1,67.1 409.8,59.6 410.6,51.7 411.3,43.8 412,36.3 412.7,29.6 413.4,24 414.2,19.8 414.9,17.2 415.6,16.3 416.3,17.1 417,19.4 417.7,23.1 418.4,28.1 419,34.1 419.7,40.7 420.4,47.7 421.1,54.7 421.8,61.4 422.5,67.3 423.2,72.3 423.9,76.1 424.6,78.4 425.2,79.2 425.9,78.6 426.6,76.9 427.3,74.1 428,70.5 428.7,66.1 429.4,61.2 430.1,56.1 430.8,50.9 431.4,46 432.1,41.6 432.8,38 433.5,35.2 434.2,33.5 434.9,32.9 435.5,33.4 436.2,34.6 436.9,36.6 437.5,39.2 438.2,42.4 438.8,45.9 439.5,49.7 440.1,53.4 440.8,56.9 441.4,60.1 442.1,62.7 442.8,64.7 443.4,66 444.1,66.4 444.8,66 445.5,64.9 446.2,63.2 446.9,60.9 447.6,58.1 448.3,55 449,51.8 449.6,48.5 450.3,45.4 451,42.7 451.7,40.4 452.4,38.6 453.1,37.5 453.8,37.2 454.5,37.6 455.1,38.7 455.8,40.4 456.5,42.8 457.1,45.6 457.8,48.8 458.4,52.1 459.1,55.4 459.7,58.6 460.4,61.4 461,63.8 461.7,65.5 462.4,66.6 463,67 463.7,66.7 464.4,65.6 465.1,64 465.7,61.8 466.4,59.2 467.1,56.2 467.8,53.2 468.5,50.1 469.1,47.1 469.8,44.5 470.5,42.3 471.2,40.7 471.9,39.6 472.5,39.3 473.3,39.6 474,40.3 474.7,41.6 475.4,43.2 476.2,45.2 476.9,47.4 477.6,49.7 478.3,52 479,54.2 479.8,56.1 480.5,57.8 481.2,59 481.9,59.8 482.6,60 483.3,59.9 484,59.4 484.7,58.5 485.4,57.5 486.1,56.2 486.8,54.8 487.5,53.3 488.2,51.7 488.9,50.3 489.5,49 490.2,48 490.9,47.2 491.6,46.7 492.3,46.5 493,46.6 493.6,46.9 494.3,47.5 495,48.3 495.7,49.1 496.3,50.1 497,51.2 497.7,52.2 498.3,53.2 499,54.1 499.7,54.9 500.4,55.4 501,55.8 501.7,55.9 502.3,55.8 503,55.4 503.6,54.8 504.3,54.1 504.9,53.2 505.5,52.2 506.2,51.1 506.8,50 507.5,49 508.1,48.1 508.7,47.3 509.4,46.8 510,46.4 510.7,46.3 511.3,46.4 512,46.8 512.6,47.5 513.3,48.3 514,49.3 514.6,50.5 515.3,51.6 516,52.8 516.6,54 517.3,55 518,55.8 518.6,56.5 519.3,56.8 520,57 520.7,56.9 521.4,56.5 522.1,55.9 522.8,55.2 523.6,54.3 524.3,53.3 525,52.2 525.7,51.2 526.4,50.2 527.2,49.3 527.9,48.5 528.6,48 529.3,47.6 530.1,47.5 530.7,47.6 531.3,47.8 532,48.2 532.6,48.7 533.3,49.3 533.9,50 534.5,50.7 535.2,51.4 535.8,52.1 536.5,52.7 537.1,53.2 537.7,53.6 538.4,53.9 539,53.9 539.8,53.9 540.6,53.8 541.3,53.6 542.1,53.3 542.9,53 543.6,52.7 544.4,52.3 545.2,52 546,51.6 546.7,51.3 547.5,51.1 548.3,50.9 549,50.8 549.8,50.7 550.3,50.8 550.8,51 551.4,51.4 551.9,51.8 552.4,52.4 552.9,53 553.4,53.7 553.9,54.4 554.4,55 555,55.6 555.5,56.1 556,56.4 556.5,56.6 557,56.7 557.8,56.6 558.6,56.3 559.3,55.8 560.1,55.2 560.9,54.4 561.6,53.6 562.4,52.7 563.2,51.8 564,50.9 564.7,50.1 565.5,49.5 566.3,49 567.1,48.7 567.8,48.6 568.4,48.7 569,48.9 569.6,49.2 570.1,49.6 570.7,50.1 571.3,50.7 571.9,51.3 572.5,51.9 573.1,52.4 573.6,52.9 574.2,53.4 574.8,53.7 575.4,53.9 576,53.9 576.7,53.9 577.5,53.8 578.3,53.6 579.1,53.3 579.9,53 580.6,52.7 581.4,52.3 582.2,52 583,51.6 583.8,51.3 584.5,51.1 585.3,50.9 586.1,50.8 586.9,50.7 587.3,50.8 587.8,50.9 588.2,51 588.6,51.2 589.1,51.5 589.5,51.8 590,52.1 590.4,52.4 590.8,52.7 591.3,53 591.7,53.2 592.2,53.3 592.6,53.4 593,53.5 593.8,53.4 594.6,53.3 595.4,53.2 596.1,53 596.9,52.7 597.7,52.4 598.4,52.1 599.2,51.8 600,51.5 600.8,51.2 601.5,51 602.3,50.9 603.1,50.8 603.8,50.7 604.5,50.8 605.2,50.9 605.8,51.1 606.5,51.3 607.1,51.6 607.8,51.9 608.4,52.2 609.1,52.6 609.7,52.9 610.4,53.2 611.1,53.4 611.7,53.6 612.4,53.7 613,53.8 613.8,53.7 614.6,53.5 615.4,53.1 616.1,52.7 616.9,52.1 617.7,51.5 618.5,50.9 619.3,50.2 620,49.6 620.8,49 621.6,48.6 622.4,48.2 623.2,48 623.9,48 624.6,48 625.2,48.2 625.8,48.5 626.4,48.8 627,49.3 627.6,49.7 628.2,50.3 628.9,50.8 629.5,51.3 630.1,51.7 630.7,52.1 631.3,52.3 631.9,52.5 632.5,52.6 633,52.5 633.5,52.5 634,52.5 634.5,52.4 635,52.3 635.5,52.2 636,52.1 636.5,52 637,51.9 637.5,51.8 638,51.7 638.5,51.7 639,51.7 639.5,51.6" fill="none" stroke="#111" stroke-width="1.6" stroke-linejoin="round" />
</g>
<rect x="389.6" y="2" width="249.9" height="91.9" fill="none" stroke="#222" stroke-width="1.5" />
<line x1="395.5" y1="93.9" x2="395.5" y2="90.7" stroke="#000" stroke-width="1.2" />
<line x1="424.55" y1="93.9" x2="424.55" y2="91.9" stroke="#000" stroke-width="1.2" />
<line x1="453.6" y1="93.9" x2="453.6" y2="90.7" stroke="#000" stroke-width="1.2" />
<line x1="482.65" y1="93.9" x2="482.65" y2="91.9" stroke="#000" stroke-width="1.2" />
<line x1="511.7" y1="93.9" x2="511.7" y2="90.7" stroke="#000" stroke-width="1.2" />
<line x1="540.75" y1="93.9" x2="540.75" y2="91.9" stroke="#000" stroke-width="1.2" />
<line x1="569.8" y1="93.9" x2="569.8" y2="90.7" stroke="#000" stroke-width="1.2" />
<line x1="598.85" y1="93.9" x2="598.85" y2="91.9" stroke="#000" stroke-width="1.2" />
<line x1="627.9" y1="93.9" x2="627.9" y2="90.7" stroke="#000" stroke-width="1.2" />
<line x1="389.6" y1="15.26" x2="393.1" y2="15.26" stroke="#000" stroke-width="1.2" />
<line x1="389.6" y1="33.68" x2="391.8" y2="33.68" stroke="#000" stroke-width="1.2" />
<line x1="389.6" y1="52.1" x2="393.1" y2="52.1" stroke="#000" stroke-width="1.2" />
<line x1="389.6" y1="70.52" x2="391.8" y2="70.52" stroke="#000" stroke-width="1.2" />
<line x1="389.6" y1="88.94" x2="393.1" y2="88.94" stroke="#000" stroke-width="1.2" />
<text x="384.1" y="22" font-size="15" text-anchor="end" >4</text>
<text x="384.1" y="58" font-size="15" text-anchor="end" >0</text>
<text x="384.1" y="94" font-size="15" text-anchor="end" >-4</text>
<text x="396.2" y="108.3" font-size="15" text-anchor="middle" >0.0</text>
<text x="453" y="108.3" font-size="15" text-anchor="middle" >0.5</text>
<text x="511.8" y="108.3" font-size="15" text-anchor="middle" >1.0</text>
<text x="569.2" y="108.3" font-size="15" text-anchor="middle" >1.5</text>
<text x="627.8" y="108.3" font-size="15" text-anchor="middle" >2.0</text>
<text x="523" y="122.6" font-size="15.5" text-anchor="middle" >Waiting time (ps)</text>
<text x="350.3" y="16.3" font-size="23" font-weight="bold" >b</text>
<text x="443.3" y="19" font-size="15.5" >λ<tspan font-size="11" dy="4.8">pump</tspan><tspan dy="-4.8">= 780 nm</tspan></text>
<text x="540.2" y="19" font-size="15.5" >λ<tspan font-size="11" dy="4.8">probe</tspan><tspan dy="-4.8">= 900 nm</tspan></text>
<text transform="translate(361.8,55.3) rotate(-90)" font-size="15" text-anchor="middle" >-ΔT/T (%)</text>
<polyline points="48.4,259.3 49.2,259.3 49.9,259.3 50.7,259.2 51.5,259.1 52.2,259.1 53,259 53.7,258.9 54.3,258.8 55,258.6 55.7,258.5 56.3,258.2 57,258 57.5,257.8 58,257.5 58.5,257.1 59,256.6 59.5,256.1 60,255.5 60.5,254.8 60.9,254 61.4,252.9 61.8,251.7 62.2,250.4 62.7,249 63.1,247.6 63.5,246.1 63.9,244.3 64.2,242.3 64.6,240.2 65,238 65.5,234.8 66,231.1 66.5,227 67,222.7 67.5,218.4 68,214 68.5,209.6 69,205 69.5,200.2 70,195.5 70.5,190.7 71,186 71.4,182.1 71.8,178.1 72.2,174.2 72.7,170.3 73.1,166.5 73.5,163 73.8,160.2 74.2,157.4 74.5,154.7 74.8,152.1 75.2,149.9 75.5,148 75.8,146.3 76.2,144.5 76.5,143 76.9,141.7 77.2,140.8 77.6,140.5 77.9,140.6 78.2,140.8 78.5,141.1 78.9,141.4 79.2,141.9 79.5,142.3 79.8,142.8 80.1,143.5 80.5,144.3 80.8,145.2 81.1,146.1 81.4,147 82.1,148.9 82.7,150.8 83.4,152.8 84.1,154.9 84.7,157 85.4,159 86.1,161 86.7,162.9 87.4,164.8 88.1,166.8 88.7,168.9 89.4,171 90.1,173.3 90.7,175.7 91.4,178.3 92.1,180.8 92.7,183.3 93.4,185.7 94.1,188 94.7,190.3 95.4,192.6 96.1,194.8 96.7,196.9 97.4,199 98.1,201.1 98.7,203.3 99.4,205.4 100.1,207.4 100.7,209.1 101.4,210.5 102.1,211.6 102.7,212.7 103.4,213.7 104.1,214.5 104.7,215.1 105.4,215.5 106.3,215.8 107.2,216 108.1,216.1 109,216.3 109.9,216.4 110.8,216.5 111.7,216.6 112.6,216.7 113.4,216.7 114.3,216.8 115.2,216.9 116.1,217 116.8,217.1 117.4,217.3 118.1,217.5 118.8,217.8 119.4,218.1 120.1,218.5 120.8,219 121.4,219.6 122.1,220.4 122.8,221.3 123.4,222.1 124.1,223 124.8,223.9 125.4,224.8 126.1,225.8 126.8,226.8 127.4,227.7 128.1,228.5 129,229.5 129.9,230.4 130.8,231.3 131.7,232.1 132.6,232.9 133.5,233.5" fill="none" stroke="#1ea6f2" stroke-width="1.8" stroke-linejoin="round" />
<polyline points="138.2,236.3 138.9,236.9 139.6,237 140.3,236.7 141,236.1 141.7,235.8 142.4,235.3 143.1,234.8 143.8,233.9 144.5,233.6 145.2,233.1 145.9,233.2 146.6,232.9 147.3,233.1 148,233.4 148.7,234.1 149.4,234.8 150.1,235.4 150.8,236.1 151.5,236.7 152.2,237.1 152.9,237.4 153.6,237.7 154.3,237.7 155,237.3 155.7,237.1 156.4,236.8 157.1,236.2 157.8,235.7 158.5,235.6 159.2,235.4 159.9,235 160.6,234.8 161.3,235 162,235.3 162.7,235.7 163.4,236.2 164.1,236.7 164.8,237.1 165.5,237.5 166.2,238.1 166.9,238.8 167.6,238.8 168.3,238.7 169,238.4 169.7,238.2 170.4,238 171.1,237.9 171.8,237.6 172.5,237.4 173.2,237.1 173.9,237.1 174.6,236.7 175.3,236.7 176,236.5 176.7,236.8 177.4,237 178.1,237.4 178.8,237.8 179.5,238.1 180.2,238.9 180.9,239.1 181.6,239.4 182.3,239.5 183,239.5 183.7,239.5 184.4,239.3 185.1,239.2 185.8,238.7 186.5,238.6 187.2,238.3 187.9,238.1 188.6,237.9 189.3,237.9 190,238.2 190.7,238 191.4,238.2 192.1,238.2 192.8,238.8 193.5,238.9 194.2,239.3 194.9,239.5 195.6,240 196.3,240.1 197,240.2 197.7,240 198.4,239.5 199.1,239.7 199.8,239.7 200.5,240 201.2,239.4 201.9,238.9 202.6,238.5 203.3,238.9 204,239.1 204.7,238.9 205.4,238.8 206.1,238.9 206.8,239.3 207.5,239.4 208.2,239.7 208.9,240.1 209.6,240.4 210.3,240.5 211,240.3 211.7,240.3 212.4,240.5 213.1,240.6 213.8,240.3 214.5,240.1 215.2,240.1 215.9,240.4 216.6,240.1 217.3,239.8 218,239.2 218.7,239.4 219.4,239.9 220.1,240.1 220.8,240 221.5,239.9 222.2,240.1 222.9,240.4 223.6,240.5 224.3,240.8 225,241.1 225.7,241.2 226.4,241.4 227.1,241.1 227.8,241 228.5,240.5 229.2,240.2 229.9,240.1 230.6,240.2 231.3,240.4 232,240.3 232.7,240.5 233.4,240.6 234.1,240.8 234.8,240.7 235.5,240.6 236.2,240.5 236.9,240.6 237.6,240.7 238.3,240.9 239,241.1 239.7,241.3 240.4,241.4 241.1,241.1 241.8,241 242.5,241 243.2,241.4 243.9,241.4 244.6,241.1 245.3,240.8 246,240.9 246.7,241.1 247.4,241.5 248.1,241.5 248.8,241.4 249.5,241.2 250.2,241.1 250.9,241.5 251.6,241.6 252.3,241.7 253,241.8 253.7,241.5 254.4,241.5 255.1,241.4 255.8,241.6 256.5,241.5 257.2,241.7 257.9,241.7 258.6,241.7 259.3,241.6 260,241.4 260.7,241.3 261.4,241.2 262.1,241.1 262.8,241.3 263.5,241.4 264.2,241.6 264.9,241.5 265.6,241.7 266.3,241.6 267,241.8 267.7,241.7 268.4,241.8 269.1,242 269.8,241.9 270.5,241.8 271.2,241.6 271.9,241.8 272.6,241.9 273.3,241.8 274,241.6 274.7,241.3 275.4,241.7 276.1,241.5 276.8,241.8 277.5,241.7 278.2,241.8 278.9,241.8 279.6,242 280.3,242.3 281,242.4 281.7,242.5 282.4,242.5 283.1,242.5 283.8,242.4 284.5,242.5 285.2,242.2 285.9,242.3 286.6,242.1 287.3,242 288,241.9 288.7,242.2 289.4,242.5 290.1,242.4 290.8,242.2 291.5,242 292.2,242.1 292.9,242.1 293.6,241.9 294.3,242 295,241.9 295.7,242.2 296.4,242 297.1,242 297.8,242.1" fill="none" stroke="#1ea6f2" stroke-width="1.8" stroke-linejoin="round" />
<polyline points="48.4,259.3 49.2,259.3 49.9,259.3 50.7,259.2 51.5,259.1 52.2,259.1 53,259 53.7,258.9 54.3,258.8 55,258.6 55.7,258.5 56.3,258.2 57,258 57.5,257.8 58,257.4 58.5,257.1 59,256.6 59.5,256.1 60,255.5 60.5,254.9 60.9,254.1 61.4,253.1 61.8,252 62.2,250.8 62.7,249.5 63.1,248.2 63.5,246.7 63.9,245 64.2,243.1 64.6,241.1 65,239 65.5,235.9 66,232.4 66.5,228.5 67,224.4 67.5,220.2 68,216 68.5,211.8 69,207.3 69.5,202.8 70,198.2 70.5,193.6 71,189 71.4,185.1 71.8,181.2 72.2,177.2 72.7,173.3 73.1,169.6 73.5,166 73.8,163.2 74.2,160.4 74.5,157.7 74.8,155.2 75.2,152.9 75.5,151 75.8,149.3 76.2,147.6 76.5,146.1 76.8,144.8 77.2,143.7 77.5,143 77.8,142.5 78.1,142 78.5,141.6 78.8,141.3 79.1,141.1 79.4,141 79.8,141.1 80.3,141.5 80.7,142 81.1,142.6 81.6,143.3 82,144 82.6,145 83.1,146.3 83.7,147.8 84.3,149.3 84.8,150.9 85.4,152.4 86.3,154.7 87.2,157.1 88.1,159.5 88.9,162 89.8,164.5 90.7,167 91.6,169.6 92.5,172.3 93.4,175.1 94.3,177.8 95.2,180.5 96.1,183 97,185.5 97.9,187.9 98.8,190.3 99.6,192.6 100.5,194.7 101.4,196.4 102.3,198 103.2,199.5 104.1,200.9 105,202.1 105.9,203 106.8,203.6 107.7,204 108.6,204.2 109.4,204.4 110.3,204.6 111.2,204.8 112.1,205.1 113,205.4 113.9,205.7 114.8,206 115.6,206.3 116.5,206.7 117.4,207.1 118.3,207.7 119.2,208.4 120.1,209.3 121,210.3 121.9,211.3 122.8,212.4 123.7,213.6 124.6,214.9 125.4,216.4 126.3,217.9 127.2,219.3 128.1,220.5 129,221.6 129.9,222.7 130.8,223.8 131.7,224.7 132.6,225.7 133.5,226.5" fill="none" stroke="#9a22ea" stroke-width="1.8" stroke-linejoin="round" />
<polyline points="138.2,231.4 138.9,232.5 139.6,233 140.3,233.2 141,232.7 141.7,232.1 142.4,231.3 143.1,230.8 143.8,230.4 144.5,229.9 145.2,229.5 145.9,229.3 146.6,229.2 147.3,229.4 148,230.2 148.7,231.2 149.4,232.3 150.1,233.7 150.8,234.7 151.5,235.6 152.2,236.3 152.9,237.1 153.6,237.6 154.3,237.5 155,237.4 155.7,237.2 156.4,236.9 157.1,236.2 157.8,235.4 158.5,234.9 159.2,234.6 159.9,234.1 160.6,234.1 161.3,233.9 162,234.4 162.7,234.7 163.4,235.4 164.1,236.2 164.8,237.1 165.5,237.8 166.2,238.4 166.9,238.8 167.6,239.1 168.3,239.1 169,239.2 169.7,239.3 170.4,239.1 171.1,238.7 171.8,238.1 172.5,237.6 173.2,237.3 173.9,237 174.6,236.8 175.3,236.7 176,236.7 176.7,236.8 177.4,237.4 178.1,238.2 178.8,238.8 179.5,239.2 180.2,239.7 180.9,240.2 181.6,240.4 182.3,240.7 183,240.5 183.7,240.7 184.4,240.4 185.1,240.1 185.8,239.5 186.5,239.1 187.2,239 187.9,238.5 188.6,238.4 189.3,238.8 190,238.8 190.7,239 191.4,238.7 192.1,239.3 192.8,239.4 193.5,239.7 194.2,240.2 194.9,240.9 195.6,241.7 196.3,241.7 197,241.9 197.7,242 198.4,241.9 199.1,241.6 199.8,240.8 200.5,240.6 201.2,240.6 201.9,240.3 202.6,240 203.3,239.8 204,240.1 204.7,240.5 205.4,240.2 206.1,240 206.8,240 207.5,240.9 208.2,241.2 208.9,242 209.6,242.4 210.3,242.7 211,242.6 211.7,242.5 212.4,242.4 213.1,242.4 213.8,242.3 214.5,242 215.2,241.8 215.9,241.5 216.6,241.3 217.3,240.8 218,240.7 218.7,240.6 219.4,240.4 220.1,240.8 220.8,241.2 221.5,241.8 222.2,242.1 222.9,242.4 223.6,242.7 224.3,242.4 225,242.5 225.7,242.6 226.4,243.2 227.1,243.5 227.8,243.5 228.5,242.9 229.2,242.1 229.9,241.8 230.6,241.8 231.3,242.1 232,241.9 232.7,241.9 233.4,241.6 234.1,241.8 234.8,241.8 235.5,242.3 236.2,242.5 236.9,242.8 237.6,243 238.3,243.1 239,243.4 239.7,243.5 240.4,243.5 241.1,243.3 241.8,243.4 242.5,243.3 243.2,243.4 243.9,243.1 244.6,242.9 245.3,242.5 246,242.4 246.7,242.4 247.4,242.6 248.1,242.5 248.8,242.4 249.5,242.5 250.2,243.1 250.9,243 251.6,243.2 252.3,243.1 253,243.6 253.7,243.6 254.4,243.8 255.1,244 255.8,244.1 256.5,244 257.2,243.8 257.9,243.5 258.6,243.4 259.3,243.2 260,243.1 260.7,242.9 261.4,242.9 262.1,243.2 262.8,243.2 263.5,243.3 264.2,243.5 264.9,243.8 265.6,244.2 266.3,244.2 267,244.2 267.7,244 268.4,244 269.1,244.1 269.8,244.2 270.5,244 271.2,243.8 271.9,243.5 272.6,243.6 273.3,243.4 274,243.3 274.7,243.3 275.4,243.4 276.1,243.3 276.8,243.5 277.5,243.9 278.2,244 278.9,244.2 279.6,243.9 280.3,244.2 281,244 281.7,244 282.4,244.3 283.1,244.4 283.8,244.6 284.5,244.3 285.2,244 285.9,244 286.6,244.1 287.3,244 288,243.9 288.7,243.7 289.4,244.1 290.1,244.4 290.8,244.3 291.5,244.1 292.2,244 292.9,244.1 293.6,244.2 294.3,244.4 295,244.8 295.7,245 296.4,244.8 297.1,244.7 297.8,244.7" fill="none" stroke="#9a22ea" stroke-width="1.8" stroke-linejoin="round" />
<polyline points="48.4,259.3 49.2,259.3 49.9,259.2 50.7,259.1 51.5,259 52.2,258.9 53,258.8 53.7,258.7 54.3,258.5 55,258.3 55.7,258.1 56.3,257.8 57,257.5 57.5,257.2 58,256.9 58.5,256.5 59,256.1 59.5,255.6 60,255 60.5,254.4 60.9,253.6 61.4,252.8 61.8,251.8 62.2,250.7 62.7,249.5 63.1,248.3 63.5,247 63.9,245.5 64.2,243.8 64.6,241.9 65,240 65.5,237.1 66,233.7 66.5,230 67,226.1 67.5,222 68,218 68.5,213.9 69,209.7 69.5,205.3 70,200.8 70.5,196.4 71,192 71.5,187.6 72,183.1 72.5,178.6 73,174.2 73.5,170 74,166 74.4,162.8 74.8,159.6 75.2,156.6 75.7,153.7 76.1,151.1 76.5,149 76.8,147.5 77.2,146 77.5,144.6 77.8,143.5 78.2,142.6 78.5,142 78.8,141.7 79,141.5 79.2,141.3 79.5,141.1 79.8,141 80,141 80.5,141.1 81,141.4 81.5,141.8 82,142.4 82.5,142.9 83,143.5 83.6,144.3 84.2,145.2 84.8,146.2 85.5,147.3 86.1,148.5 86.7,149.7 87.6,151.6 88.5,153.7 89.4,155.9 90.3,158.3 91.2,160.6 92.1,163 93,165.4 93.9,167.8 94.8,170.3 95.6,172.8 96.5,175.3 97.4,177.7 98.3,180.1 99.2,182.6 100.1,185 100.9,187.3 101.8,189.4 102.7,191.1 103.6,192.6 104.5,194.1 105.4,195.4 106.3,196.5 107.2,197.5 108.1,198.2 109,198.7 109.9,199.1 110.8,199.5 111.6,199.8 112.5,200.1 113.4,200.4 114.3,200.7 115.2,201 116.1,201.3 117,201.6 117.9,201.9 118.8,202.4 119.5,202.9 120.1,203.6 120.8,204.4 121.5,205.3 122.1,206.2 122.8,207.1 123.7,208.4 124.6,209.7 125.4,211.2 126.3,212.6 127.2,213.9 128.1,215.1 129,216.2 129.9,217.2 130.8,218.1 131.7,219 132.6,219.8 133.5,220.5" fill="none" stroke="#68a824" stroke-width="1.8" stroke-linejoin="round" />
<polyline points="138.2,225.8 138.9,226.6 139.6,227.9 140.3,228.3 141,228.6 141.7,228.1 142.4,227.3 143.1,227 143.8,226.9 144.5,226.9 145.2,226.7 145.9,226.6 146.6,226.8 147.3,227.3 148,228.1 148.7,229.2 149.4,230 150.1,231 150.8,231.8 151.5,232.8 152.2,233.7 152.9,234.3 153.6,234.9 154.3,234.9 155,234.8 155.7,234.4 156.4,234 157.1,233.9 157.8,233.3 158.5,233.2 159.2,232.7 159.9,232.7 160.6,232.5 161.3,232.7 162,233.2 162.7,233.8 163.4,234.4 164.1,234.8 164.8,235.6 165.5,236.5 166.2,237.3 166.9,237.7 167.6,237.8 168.3,237.9 169,237.7 169.7,237.8 170.4,237.7 171.1,237.4 171.8,237 172.5,236.7 173.2,236.5 173.9,236.3 174.6,235.9 175.3,235.9 176,236 176.7,236.3 177.4,236.8 178.1,237.1 178.8,237.8 179.5,238.1 180.2,238.8 180.9,238.8 181.6,239.3 182.3,239.8 183,240.2 183.7,240.2 184.4,239.6 185.1,239 185.8,238.5 186.5,238.3 187.2,238.2 187.9,238 188.6,238 189.3,237.8 190,237.7 190.7,237.7 191.4,237.7 192.1,238.3 192.8,238.9 193.5,239.5 194.2,240 194.9,240.1 195.6,240.3 196.3,240.3 197,240.4 197.7,240.4 198.4,240.5 199.1,240.7 199.8,240.7 200.5,240.2 201.2,239.8 201.9,239.5 202.6,239.3 203.3,239.2 204,239.2 204.7,239.3 205.4,239.3 206.1,239.3 206.8,239.8 207.5,240.3 208.2,240.6 208.9,240.9 209.6,240.9 210.3,240.9 211,241 211.7,241.1 212.4,241 213.1,240.7 213.8,240.5 214.5,240.5 215.2,240.3 215.9,240.3 216.6,240.4 217.3,240.4 218,240.5 218.7,240.3 219.4,240.2 220.1,240.1 220.8,240.1 221.5,240.7 222.2,240.8 222.9,241.4 223.6,241.6 224.3,241.7 225,241.7 225.7,241.9 226.4,242.1 227.1,242.1 227.8,241.5 228.5,241.5 229.2,240.9 229.9,241.1 230.6,240.7 231.3,240.4 232,240.3 232.7,240.9 233.4,241.2 234.1,241.4 234.8,241.2 235.5,241.4 236.2,241.6 236.9,242 237.6,242 238.3,242.2 239,242.1 239.7,242.2 240.4,242.4 241.1,242.6 241.8,242.6 242.5,242.6 243.2,242.2 243.9,242.1 244.6,242 245.3,241.9 246,241.9 246.7,241.8 247.4,242 248.1,242.1 248.8,241.8 249.5,241.5 250.2,241.7 250.9,241.9 251.6,242.3 252.3,242.1 253,242.4 253.7,242.2 254.4,242.7 255.1,242.6 255.8,242.7 256.5,242.4 257.2,242.7 257.9,242.4 258.6,242.3 259.3,242 260,242.2 260.7,242.2 261.4,242.2 262.1,242.1 262.8,242.1 263.5,242.3 264.2,242.3 264.9,242.4 265.6,242.5 266.3,242.7 267,243.2 267.7,243.2 268.4,243.3 269.1,243.2 269.8,243 270.5,242.6 271.2,242.2 271.9,242.4 272.6,242.9 273.3,243.1 274,243.2 274.7,242.8 275.4,242.3 276.1,241.8 276.8,242 277.5,242.5 278.2,242.7 278.9,242.8 279.6,242.6 280.3,243.1 281,243.2 281.7,243.4 282.4,243.2 283.1,243.1 283.8,243.1 284.5,243.4 285.2,243 285.9,243.3 286.6,243.1 287.3,243.1 288,242.8 288.7,242.8 289.4,242.5 290.1,242.6 290.8,242.5 291.5,243 292.2,242.9 292.9,243.2 293.6,243.2 294.3,243.3 295,243.3 295.7,243.7 296.4,243.9 297.1,243.6 297.8,243.3" fill="none" stroke="#68a824" stroke-width="1.8" stroke-linejoin="round" />
<polyline points="48.4,259 49.2,259 49.9,258.9 50.7,258.8 51.5,258.7 52.2,258.6 53,258.5 53.7,258.4 54.3,258.2 55,257.9 55.7,257.7 56.3,257.4 57,257 57.5,256.7 58,256.3 58.5,255.9 59,255.3 59.5,254.7 60,254 60.3,253.4 60.7,252.5 61,251.5 61.3,250.4 61.7,249.2 62,248 62.4,246.5 62.8,244.9 63.2,243.1 63.7,241.2 64.1,239.2 64.5,237 65,233.9 65.5,230.4 66,226.5 66.5,222.3 67,218.1 67.5,214 68,209.9 68.5,205.6 69,201.3 69.5,196.9 70,192.5 70.5,188 70.9,184.1 71.3,180.1 71.8,176.1 72.2,172.1 72.6,168.4 73,165 73.4,161.9 73.8,158.9 74.2,156 74.7,153.4 75.1,151 75.5,149 75.8,147.5 76.2,146 76.5,144.7 76.8,143.5 77.2,142.6 77.5,142 77.8,141.6 78.1,141.3 78.5,141 78.8,140.8 79.1,140.7 79.4,140.6 79.8,140.6 80.3,140.7 80.7,140.9 81.1,141.1 81.6,141.3 82,141.5 82.5,141.8 83,142.3 83.5,142.8 84,143.3 84.5,143.9 85,144.5 85.5,145.1 86,145.7 86.5,146.3 87,147 87.5,147.7 88,148.4 88.9,149.9 89.8,151.5 90.7,153.2 91.6,155 92.5,157 93.4,159 94.3,161.2 95.2,163.6 96.1,166.1 96.9,168.7 97.8,171.3 98.7,173.7 99.6,176.1 100.5,178.6 101.4,181 102.3,183.3 103.2,185.3 104.1,187.1 105,188.6 105.9,190.1 106.8,191.4 107.6,192.6 108.5,193.5 109.4,194.2 110.3,194.7 111.2,195.1 112.1,195.5 113,195.8 113.9,196.1 114.8,196.4 115.7,196.6 116.6,196.8 117.4,197 118.3,197.2 119.2,197.5 120.1,197.8 120.8,198.2 121.4,198.7 122.1,199.4 122.8,200.2 123.4,201 124.1,201.8 124.8,202.7 125.4,203.8 126.1,205 126.8,206.2 127.4,207.4 128.1,208.4 129,209.7 129.9,210.9 130.8,212 131.7,213.1 132.6,214.2 133.5,215.1" fill="none" stroke="#ff1a8a" stroke-width="1.8" stroke-linejoin="round" />
<polyline points="138.2,221.3 138.9,222.3 139.6,223.4 140.3,224.1 141,224.5 141.7,224.4 142.4,224.4 143.1,224.4 143.8,224.4 144.5,224.4 145.2,224.3 145.9,224.8 146.6,225.3 147.3,225.8 148,226.5 148.7,227.3 149.4,228.1 150.1,228.9 150.8,229.7 151.5,230.7 152.2,231.5 152.9,232.2 153.6,232.7 154.3,232.8 155,232.9 155.7,233.1 156.4,232.9 157.1,232.7 157.8,232.5 158.5,232.3 159.2,232.4 159.9,232.3 160.6,232.4 161.3,232.2 162,232.4 162.7,233 163.4,233.9 164.1,234.5 164.8,235.2 165.5,235.9 166.2,236.3 166.9,236.8 167.6,237 168.3,237.2 169,237 169.7,237.2 170.4,237.3 171.1,236.8 171.8,236.3 172.5,235.8 173.2,235.8 173.9,235.6 174.6,235.3 175.3,235.5 176,235.6 176.7,236 177.4,236.1 178.1,236.6 178.8,237.2 179.5,237.8 180.2,238.2 180.9,238.4 181.6,238.5 182.3,239 183,239.2 183.7,239.3 184.4,239 185.1,238.7 185.8,238.5 186.5,238 187.2,238 187.9,237.7 188.6,237.7 189.3,237.7 190,237.8 190.7,238.1 191.4,238 192.1,238 192.8,238.4 193.5,239 194.2,239.4 194.9,239.9 195.6,239.8 196.3,240 197,240 197.7,240.2 198.4,240.3 199.1,240 199.8,239.7 200.5,239.1 201.2,238.8 201.9,238.6 202.6,238.5 203.3,238.7 204,238.7 204.7,238.7 205.4,239.2 206.1,239.3 206.8,239.7 207.5,239.8 208.2,240.3 208.9,240.6 209.6,240.4 210.3,240.3 211,240.7 211.7,240.9 212.4,240.9 213.1,240.7 213.8,240.8 214.5,240.5 215.2,240.3 215.9,239.8 216.6,240.2 217.3,240.4 218,240.7 218.7,240.4 219.4,240.3 220.1,239.9 220.8,240.2 221.5,240.1 222.2,240.4 222.9,240.5 223.6,240.8 224.3,241.2 225,241.6 225.7,241.7 226.4,241.5 227.1,241.5 227.8,241.3 228.5,241.5 229.2,241.2 229.9,240.7 230.6,240.3 231.3,240.7 232,241.1 232.7,241.1 233.4,240.9 234.1,241 234.8,241.2 235.5,241.2 236.2,241.3 236.9,241.4 237.6,241.5 238.3,241.5 239,241.6 239.7,241.9 240.4,242.2 241.1,242.3 241.8,242.2 242.5,242.4 243.2,242.3 243.9,242.2 244.6,242 245.3,241.9 246,241.7 246.7,241.6 247.4,241.8 248.1,241.9 248.8,241.8 249.5,241.7 250.2,241.6 250.9,241.8 251.6,241.9 252.3,242 253,241.9 253.7,241.7 254.4,241.9 255.1,241.9 255.8,242 256.5,242.3 257.2,242 257.9,242.1 258.6,242 259.3,242.3 260,242.4 260.7,242.3 261.4,242.1 262.1,241.9 262.8,242.1 263.5,242.1 264.2,242.3 264.9,242.2 265.6,242.4 266.3,242.4 267,242.8 267.7,242.8 268.4,242.9 269.1,242.7 269.8,242.8 270.5,242.9 271.2,242.8 271.9,242.8 272.6,242.5 273.3,242.4 274,242 274.7,242.2 275.4,242 276.1,242 276.8,242 277.5,242.5 278.2,242.8 278.9,242.9 279.6,243 280.3,242.8 281,242.5 281.7,242.3 282.4,242.5 283.1,243 283.8,243.4 284.5,243.3 285.2,243.4 285.9,243.3 286.6,243.6 287.3,243.2 288,243.3 288.7,243.2 289.4,243 290.1,242.7 290.8,242.5 291.5,242.6 292.2,242.6 292.9,242.9 293.6,243 294.3,242.9 295,243.1 295.7,243 296.4,243.3 297.1,242.9 297.8,243.1" fill="none" stroke="#ff1a8a" stroke-width="1.8" stroke-linejoin="round" />
<line x1="120.8" y1="193" x2="120.8" y2="229" stroke="#222" stroke-width="1.6" stroke-dasharray="3.6 3"/>
<line x1="147.1" y1="212.5" x2="147.1" y2="248" stroke="#222" stroke-width="1.6" stroke-dasharray="3.6 3"/>
<line x1="105.5" y1="145.9" x2="120.1" y2="145.9" stroke="#1ea6f2" stroke-width="1.6" />
<text x="121.9" y="149.7" font-size="11.5" >200 μJ/cm<tspan font-size="7.8" dy="-4.4">2</tspan></text>
<line x1="105.5" y1="158.3" x2="120.1" y2="158.3" stroke="#9a22ea" stroke-width="1.6" />
<text x="121.9" y="162.1" font-size="11.5" >335 μJ/cm<tspan font-size="7.8" dy="-4.4">2</tspan></text>
<line x1="105.5" y1="170.6" x2="120.1" y2="170.6" stroke="#68a824" stroke-width="1.6" />
<text x="121.9" y="174.4" font-size="11.5" >500 μJ/cm<tspan font-size="7.8" dy="-4.4">2</tspan></text>
<line x1="105.5" y1="182.9" x2="120.1" y2="182.9" stroke="#ff1a8a" stroke-width="1.6" />
<text x="121.9" y="186.7" font-size="11.5" >630 μJ/cm<tspan font-size="7.8" dy="-4.4">2</tspan></text>
<line x1="83.6" y1="225.6" x2="93.68" y2="210.73" stroke="#111" stroke-width="1.0" />
<polygon points="96.2,207 95.22,212.37 91.57,209.91" fill="#111"/>
<text x="79" y="240.2" font-size="15" ><tspan font-style="italic">τ</tspan><tspan font-size="10" dy="3">1</tspan></text>
<line x1="216.5" y1="251.8" x2="201.71" y2="247.31" stroke="#111" stroke-width="1.0" />
<polygon points="197.4,246 202.82,245.35 201.55,249.56" fill="#111"/>
<text x="220.6" y="255.9" font-size="15" ><tspan font-style="italic">τ</tspan><tspan font-size="10" dy="3">2</tspan></text>
<line x1="48.4" y1="132.3" x2="298.8" y2="132.3" stroke="#000" stroke-width="1.5" />
<line x1="48.4" y1="260.8" x2="298.8" y2="260.8" stroke="#000" stroke-width="1.5" />
<line x1="48.4" y1="132.3" x2="48.4" y2="260.8" stroke="#000" stroke-width="1.5" />
<line x1="298.8" y1="132.3" x2="298.8" y2="260.8" stroke="#000" stroke-width="1.5" />
<line x1="48.4" y1="258.6" x2="51.6" y2="258.6" stroke="#000" stroke-width="1.2" />
<line x1="48.4" y1="200.2" x2="51.6" y2="200.2" stroke="#000" stroke-width="1.2" />
<line x1="48.4" y1="141.8" x2="51.6" y2="141.8" stroke="#000" stroke-width="1.2" />
<line x1="48.4" y1="229.4" x2="50.4" y2="229.4" stroke="#000" stroke-width="1.2" />
<line x1="48.4" y1="171" x2="50.4" y2="171" stroke="#000" stroke-width="1.2" />
<line x1="79.9" y1="260.8" x2="79.9" y2="257.6" stroke="#000" stroke-width="1.2" />
<line x1="121.2" y1="260.8" x2="121.2" y2="257.6" stroke="#000" stroke-width="1.2" />
<line x1="203.5" y1="260.8" x2="203.5" y2="257.6" stroke="#000" stroke-width="1.2" />
<line x1="292.3" y1="260.8" x2="292.3" y2="257.6" stroke="#000" stroke-width="1.2" />
<line x1="59.2" y1="260.8" x2="59.2" y2="258.8" stroke="#000" stroke-width="1.2" />
<line x1="100.5" y1="260.8" x2="100.5" y2="258.8" stroke="#000" stroke-width="1.2" />
<line x1="159.2" y1="260.8" x2="159.2" y2="258.8" stroke="#000" stroke-width="1.2" />
<line x1="247.6" y1="260.8" x2="247.6" y2="258.8" stroke="#000" stroke-width="1.2" />
<rect x="132.3" y="258.8" width="9" height="4" fill="#fff" />
<line x1="131.8" y1="263.8" x2="135.8" y2="257.8" stroke="#000" stroke-width="1.3" />
<line x1="137.3" y1="263.8" x2="141.3" y2="257.8" stroke="#000" stroke-width="1.3" />
<rect x="132.3" y="130.3" width="9" height="4" fill="#fff" />
<line x1="131.8" y1="135.3" x2="135.8" y2="129.3" stroke="#000" stroke-width="1.3" />
<line x1="137.3" y1="135.3" x2="141.3" y2="129.3" stroke="#000" stroke-width="1.3" />
<text x="46.4" y="148.2" font-size="15" text-anchor="end" >1.0</text>
<text x="46.4" y="206.9" font-size="15" text-anchor="end" >0.5</text>
<text x="46.4" y="262.9" font-size="15" text-anchor="end" >0.0</text>
<text x="79.5" y="275.8" font-size="15" text-anchor="middle" >0.0</text>
<text x="119.3" y="275.8" font-size="15" text-anchor="middle" >0.2</text>
<text x="210" y="275.8" font-size="15" text-anchor="middle" >1.0</text>
<text x="290.7" y="275.8" font-size="15" text-anchor="middle" >2.0</text>
<text x="180.5" y="289.6" font-size="15.5" text-anchor="middle" >Waiting time (ps)</text>
<text x="1.3" y="142.2" font-size="23" font-weight="bold" >c</text>
<text transform="translate(11.6,199.9) rotate(-90)" font-size="15.5" text-anchor="middle" >-ΔT/T (norm.)</text>
<rect x="216.5" y="132.3" width="82.3" height="64.7" fill="#fff" />
<line x1="217" y1="185.26" x2="296.56" y2="139.48" stroke="#1e9a1e" stroke-width="1.3" />
<line x1="241.48" y1="175.6" x2="241.48" y2="165.52" stroke="#1e9a1e" stroke-width="1.1" />
<line x1="239.98" y1="175.6" x2="242.98" y2="175.6" stroke="#1e9a1e" stroke-width="1.0" />
<line x1="239.98" y1="165.52" x2="242.98" y2="165.52" stroke="#1e9a1e" stroke-width="1.0" />
<rect x="238.48" y="167.56" width="6" height="6" fill="#1e9a1e" />
<line x1="258" y1="166.99" x2="258" y2="155.23" stroke="#1e9a1e" stroke-width="1.1" />
<line x1="256.5" y1="166.99" x2="259.5" y2="166.99" stroke="#1e9a1e" stroke-width="1.0" />
<line x1="256.5" y1="155.23" x2="259.5" y2="155.23" stroke="#1e9a1e" stroke-width="1.0" />
<rect x="255" y="158.11" width="6" height="6" fill="#1e9a1e" />
<line x1="278.2" y1="157.33" x2="278.2" y2="147.25" stroke="#1e9a1e" stroke-width="1.1" />
<line x1="276.7" y1="157.33" x2="279.7" y2="157.33" stroke="#1e9a1e" stroke-width="1.0" />
<line x1="276.7" y1="147.25" x2="279.7" y2="147.25" stroke="#1e9a1e" stroke-width="1.0" />
<rect x="275.2" y="149.29" width="6" height="6" fill="#1e9a1e" />
<line x1="294.11" y1="145.57" x2="294.11" y2="135.49" stroke="#1e9a1e" stroke-width="1.1" />
<line x1="292.61" y1="145.57" x2="295.61" y2="145.57" stroke="#1e9a1e" stroke-width="1.0" />
<line x1="292.61" y1="135.49" x2="295.61" y2="135.49" stroke="#1e9a1e" stroke-width="1.0" />
<rect x="291.11" y="137.53" width="6" height="6" fill="#1e9a1e" />
<line x1="216.5" y1="132.3" x2="216.5" y2="197" stroke="#000" stroke-width="1.4" />
<line x1="216.5" y1="197" x2="298.8" y2="197" stroke="#000" stroke-width="1.4" />
<line x1="216.5" y1="188.2" x2="219.3" y2="188.2" stroke="#000" stroke-width="1.0" />
<line x1="216.5" y1="167.2" x2="219.3" y2="167.2" stroke="#000" stroke-width="1.0" />
<line x1="216.5" y1="146.2" x2="219.3" y2="146.2" stroke="#000" stroke-width="1.0" />
<line x1="216.5" y1="177.7" x2="218.3" y2="177.7" stroke="#000" stroke-width="1.0" />
<line x1="216.5" y1="156.7" x2="218.3" y2="156.7" stroke="#000" stroke-width="1.0" />
<line x1="217" y1="197" x2="217" y2="194.2" stroke="#000" stroke-width="1.0" />
<line x1="241.48" y1="197" x2="241.48" y2="194.2" stroke="#000" stroke-width="1.0" />
<line x1="265.96" y1="197" x2="265.96" y2="194.2" stroke="#000" stroke-width="1.0" />
<line x1="290.44" y1="197" x2="290.44" y2="194.2" stroke="#000" stroke-width="1.0" />
<line x1="229.24" y1="197" x2="229.24" y2="195.2" stroke="#000" stroke-width="1.0" />
<line x1="253.72" y1="197" x2="253.72" y2="195.2" stroke="#000" stroke-width="1.0" />
<line x1="278.2" y1="197" x2="278.2" y2="195.2" stroke="#000" stroke-width="1.0" />
<text x="215" y="192.8" font-size="11" text-anchor="end" >50</text>
<text x="215" y="171" font-size="11" text-anchor="end" >100</text>
<text x="215" y="150" font-size="11" text-anchor="end" >150</text>
<text x="217.4" y="206.4" font-size="11" text-anchor="middle" >0</text>
<text x="241.1" y="206.4" font-size="11" text-anchor="middle" >200</text>
<text x="265.8" y="206.4" font-size="11" text-anchor="middle" >400</text>
<text x="290.4" y="206.4" font-size="11" text-anchor="middle" >600</text>
<rect x="227.1" y="141.9" width="4.4" height="4.4" fill="#1e9a1e" />
<text x="234.2" y="148.3" font-size="15" ><tspan font-style="italic">τ</tspan><tspan font-size="10" dy="3">1</tspan></text>
<line x1="233.5" y1="191.6" x2="224.75" y2="188.33" stroke="#111" stroke-width="3.4" />
<polygon points="219.6,186.4 226.62,184.76 223.82,192.25" fill="#111"/>
<text x="234.7" y="193.7" font-size="12.2" >57±10 fs</text>
<text transform="translate(192,164.5) rotate(-90)" font-size="11" text-anchor="middle" ><tspan font-style="italic">τ</tspan><tspan font-size="7.5" dy="2.5">1</tspan><tspan dy="-2.5"> (fs)</tspan></text>
<text x="259.3" y="221.2" font-size="11.5" text-anchor="middle" >Pump fluence</text>
<text x="255.2" y="232.8" font-size="11.5" text-anchor="middle" >(μJ/cm<tspan font-size="7.8" dy="-4.4">2</tspan><tspan dy="3.9">)</tspan></text>
<line x1="216.5" y1="132.3" x2="298.8" y2="132.3" stroke="#000" stroke-width="1.5" />
<line x1="298.8" y1="132.3" x2="298.8" y2="260.8" stroke="#000" stroke-width="1.5" />
<rect x="132.3" y="130.3" width="9" height="4" fill="#fff" />
<line x1="131.8" y1="135.3" x2="135.8" y2="129.3" stroke="#000" stroke-width="1.3" />
<line x1="137.3" y1="135.3" x2="141.3" y2="129.3" stroke="#000" stroke-width="1.3" />
<polyline points="388,257.1 389.1,256.9 390.3,256.4 391.4,255.6 392.6,254.6 393.8,253.4 394.9,252.2 395.9,251 396.9,249.4 397.9,247.4 398.8,245.3 399.8,242.9 400.8,240.3 401.8,237.3 402.8,233.8 403.8,229.9 404.7,225.6 405.7,221.2 406.7,216.7 407.7,211.9 408.7,206.8 409.6,201.3 410.6,195.8 411.6,190.4 412.6,185.2 413.4,181 414.2,176.8 415.1,172.7 415.9,168.7 416.7,165 417.5,161.5 418.2,158.8 418.8,156.1 419.5,153.4 420.2,151.1 420.8,149.1 421.5,147.7 421.8,147.2 422.1,146.6 422.4,146.1 422.8,145.8 423.1,145.5 423.4,145.4 424.2,145.9 425.1,147.1 425.9,149 426.7,151.2 427.6,153.4 428.4,155.6 429.4,158.2 430.4,161.1 431.4,164.1 432.3,167.3 433.3,170.4 434.3,173.3 435.3,176.1 436.3,178.8 437.2,181.4 438.2,184.1 439.2,186.6 440.2,189.1 441.2,191.5 442.2,193.9 443.1,196.3 444.1,198.5 445.1,200.7 446.1,202.9 447.1,205 448.1,207.1 449.1,209.1 450,211 451,212.9 452,214.7 453,216.5 454,218.2 454.9,219.9 455.9,221.4 456.9,222.8 457.9,224 458.9,225.1 459.9,226.1 460.9,227.1 461.8,227.9 462.8,228.4 463.8,228.6 464.8,228.6 465.8,228.6 466.8,228.5 467.7,228.5 468.7,228.5 469.7,228.4 470.7,228.3 471.7,228.1 472.6,227.9 473.6,227.6 474.6,227.3 475.6,227.1 476.8,226.8 477.9,226.6 479.1,226.3 480.3,226 481.4,225.9 482.6,225.8 483.8,226 484.9,226.4 486.1,227 487.2,227.8 488.4,228.6 489.5,229.3 491,230.2 492.4,231.2 493.9,232.2 495.4,233.3 496.8,234.4 498.3,235.6" fill="none" stroke="#1e9ef8" stroke-width="1.8" stroke-linejoin="round" />
<polyline points="503.6,240 504.2,240.5 504.8,241.2 505.4,241.2 506,241.3 506.6,240.6 507.2,239.9 507.8,239.2 508.4,238.5 509,237.8 509.6,237.2 510.2,236.3 510.8,235.6 511.4,235.6 512,236.1 512.6,237 513.2,237.6 513.8,238.1 514.4,238.9 515,239.7 515.6,240.6 516.2,241 516.8,241.3 517.4,241.5 518,241.6 518.6,241.3 519.2,241 519.8,240.2 520.4,239.5 521,238.7 521.6,238 522.2,237.3 522.8,237.1 523.4,237.2 524,237.4 524.6,237.7 525.2,238.1 525.8,238.8 526.4,239.4 527,240.2 527.6,240.9 528.2,241.4 528.8,241.9 529.4,241.8 530,241.7 530.6,241.2 531.2,240.9 531.8,240.4 532.4,240 533,239.4 533.6,239 534.2,238.8 534.8,238.4 535.4,238.3 536,238 536.6,238.4 537.2,238.6 537.8,239.4 538.4,239.9 539,240.4 539.6,241 540.2,241.4 540.8,241.7 541.4,241.9 542,242 542.6,241.9 543.2,241.5 543.8,240.9 544.4,240.4 545,239.9 545.6,239.3 546.2,239.1 546.8,239 547.4,239 548,239 548.6,239.3 549.2,239.9 549.8,240.2 550.4,240.6 551,240.9 551.6,241.3 552.2,241.8 552.8,242.1 553.4,242.4 554,242.2 554.6,242 555.2,241.8 555.8,241.5 556.4,241 557,240.3 557.6,240 558.2,239.7 558.8,239.6 559.4,239.5 560,239.7 560.6,239.8 561.2,240 561.8,240.3 562.4,240.9 563,241.1 563.6,241.4 564.2,241.6 564.8,242.2 565.4,242.2 566,241.8 566.6,241.3 567.2,241.3 567.8,241.4 568.4,241.4 569,241.1 569.6,240.7 570.2,240.3 570.8,240.1 571.4,240.2 572,240.1 572.6,240.4 573.2,240.6 573.8,240.7 574.4,240.9 575,241.3 575.6,241.6 576.2,241.7 576.8,241.9 577.4,242.3 578,242.4 578.6,242.3 579.2,242.1 579.8,241.6 580.4,241.1 581,240.6 581.6,240.4 582.2,240.3 582.8,240.3 583.4,240.2 584,240.3 584.6,240.2 585.2,240.4 585.8,240.9 586.4,241.3 587,241.7 587.6,241.9 588.2,242.1 588.8,242.2 589.4,242.2 590,242.3 590.6,242.1 591.2,241.7 591.8,241.3 592.4,241.1 593,241.1 593.6,241 594.2,240.9 594.8,240.7 595.4,240.8 596,240.9 596.6,241.2 597.2,241 597.8,241.2 598.4,241.4 599,241.8 599.6,241.9 600.2,242 600.8,241.9 601.4,242.2 602,242.2 602.6,242.2 603.2,242 603.8,241.7 604.4,241.6 605,241.4 605.6,241.2 606.2,241.1 606.8,241.1 607.4,241.2 608,241.3 608.6,241.3 609.2,241.2 609.8,241.2 610.4,241.4 611,241.7 611.6,242 612.2,242.2 612.8,242.3 613.4,242.2 614,242 614.6,242.1 615.2,242 615.8,241.8 616.4,241.4 617,241.2 617.6,241.4 618.2,241.5 618.8,241.3 619.4,241.1 620,241.1 620.6,241.4 621.2,241.6 621.8,241.6 622.4,241.7 623,241.7 623.6,241.7 624.2,241.7 624.8,241.7 625.4,242.1 626,242.3 626.6,242.2 627.2,242 627.8,241.8 628.4,241.6 629,241.3 629.6,241.1 630.2,241.2 630.8,241.3 631.4,241 632,241 632.6,241.1 633.2,241.4 633.8,241.4 634.4,241.5 635,241.8 635.6,241.9 636.2,242.1 636.8,242.1 637.4,242.1 638,242 638.6,241.9" fill="none" stroke="#1e9ef8" stroke-width="1.8" stroke-linejoin="round" />
<polyline points="388,257.1 389.1,256.9 390.3,256.4 391.4,255.6 392.6,254.6 393.8,253.4 394.9,252.2 395.9,251 396.9,249.4 397.9,247.4 398.8,245.3 399.8,242.9 400.8,240.3 401.8,237.3 402.8,233.8 403.8,229.9 404.7,225.6 405.7,221.2 406.7,216.7 407.7,211.9 408.7,206.8 409.6,201.3 410.6,195.8 411.6,190.4 412.6,185.2 413.4,181 414.2,176.8 415.1,172.7 415.9,168.7 416.7,165 417.5,161.5 418.2,158.8 418.8,156.1 419.5,153.5 420.2,151.2 420.8,149.2 421.5,147.7 422,146.8 422.5,146 422.9,145.2 423.4,144.6 423.9,144.2 424.4,144 425.2,144.4 426.1,145.3 426.9,146.7 427.7,148.4 428.6,150.2 429.4,152 430.4,154.2 431.4,156.8 432.4,159.7 433.3,162.7 434.3,165.7 435.3,168.5 436.3,171.2 437.3,174 438.2,176.7 439.2,179.4 440.2,182 441.2,184.5 442.2,186.9 443.2,189.2 444.1,191.5 445.1,193.7 446.1,195.9 447.1,198 448.1,200.1 449.1,202.1 450.1,204 451,205.9 452,207.8 453,209.5 454,211.2 455,212.8 455.9,214.4 456.9,215.9 457.9,217.3 458.9,218.5 459.7,219.4 460.5,220.3 461.4,221.1 462.2,221.9 463,222.5 463.8,223 464.8,223.5 465.8,224 466.8,224.4 467.7,224.7 468.7,224.9 469.7,225 470.7,225 471.7,225 472.6,225 473.6,225 474.6,225 475.6,225 476.8,225 477.9,224.9 479.1,224.9 480.3,224.9 481.4,224.8 482.6,224.8 483.8,225 484.9,225.5 486.1,226.2 487.2,227.1 488.4,228 489.5,228.8 491,229.8 492.4,230.8 493.9,231.8 495.4,232.9 496.8,234 498.3,235.2" fill="none" stroke="#8c2ae0" stroke-width="1.8" stroke-linejoin="round" />
<polyline points="503.6,239.7 504.2,240.3 504.8,240.7 505.4,241.1 506,241.1 506.6,241 507.2,240.6 507.8,239.9 508.4,238.9 509,238.1 509.6,237.3 510.2,236.6 510.8,235.9 511.4,235.7 512,235.8 512.6,236.3 513.2,237.1 513.8,238.1 514.4,239 515,239.8 515.6,240.6 516.2,241.1 516.8,241.6 517.4,241.7 518,241.7 518.6,241.5 519.2,241.1 519.8,240.6 520.4,240 521,239.2 521.6,238.3 522.2,237.7 522.8,237.5 523.4,237.6 524,237.7 524.6,238 525.2,238.4 525.8,239.4 526.4,240.3 527,240.9 527.6,241.3 528.2,241.6 528.8,242.2 529.4,242.4 530,242.4 530.6,242 531.2,241.6 531.8,241.2 532.4,240.6 533,240 533.6,239.4 534.2,239 534.8,238.9 535.4,238.7 536,238.7 536.6,238.7 537.2,239.3 537.8,240 538.4,240.6 539,241.1 539.6,241.6 540.2,242.3 540.8,242.4 541.4,242.6 542,242.4 542.6,242.5 543.2,242 543.8,241.7 544.4,241 545,240.6 545.6,240.4 546.2,240.1 546.8,239.9 547.4,239.9 548,240 548.6,240.3 549.2,240.5 549.8,240.8 550.4,241.3 551,241.8 551.6,242.3 552.2,242.7 552.8,243 553.4,243 554,243 554.6,242.8 555.2,242.4 555.8,242 556.4,241.7 557,241.3 557.6,241.1 558.2,240.6 558.8,240.5 559.4,240.2 560,240.4 560.6,240.5 561.2,240.8 561.8,241.3 562.4,241.9 563,242.4 563.6,242.7 564.2,243.1 564.8,243.3 565.4,243.4 566,243 566.6,242.9 567.2,242.7 567.8,242.5 568.4,242.2 569,241.9 569.6,241.6 570.2,241.3 570.8,241.1 571.4,241.2 572,241.1 572.6,241.2 573.2,241.4 573.8,241.9 574.4,242.5 575,242.8 575.6,242.8 576.2,242.7 576.8,242.8 577.4,242.9 578,243 578.6,242.9 579.2,242.8 579.8,242.6 580.4,242.6 581,242.5 581.6,242.3 582.2,242.2 582.8,241.8 583.4,241.7 584,241.5 584.6,241.7 585.2,242 585.8,242.2 586.4,242.6 587,242.9 587.6,243.2 588.2,243.3 588.8,243.1 589.4,242.8 590,242.8 590.6,242.8 591.2,243 591.8,242.7 592.4,242.4 593,242.3 593.6,242.3 594.2,242.3 594.8,242 595.4,242 596,242.1 596.6,242.3 597.2,242.3 597.8,242.4 598.4,242.4 599,242.6 599.6,242.9 600.2,243.1 600.8,243.2 601.4,243.3 602,243.3 602.6,243.4 603.2,243.1 603.8,242.8 604.4,242.5 605,242.3 605.6,242.1 606.2,241.8 606.8,241.7 607.4,242.1 608,242.2 608.6,242.3 609.2,242.4 609.8,242.6 610.4,242.8 611,243.1 611.6,243.3 612.2,243.2 612.8,243.2 613.4,243.2 614,243.5 614.6,243.4 615.2,243.3 615.8,243.3 616.4,243.3 617,243.3 617.6,243.1 618.2,242.9 618.8,242.7 619.4,242.4 620,242.6 620.6,242.6 621.2,242.9 621.8,242.7 622.4,242.9 623,242.8 623.6,242.9 624.2,242.8 624.8,243 625.4,242.8 626,242.7 626.6,242.9 627.2,242.9 627.8,243 628.4,242.8 629,242.6 629.6,242.4 630.2,242.2 630.8,242.3 631.4,242.1 632,242.2 632.6,242.4 633.2,242.9 633.8,243.2 634.4,243.2 635,243.1 635.6,243.2 636.2,243.3 636.8,243.5 637.4,243.2 638,243.2 638.6,243.1" fill="none" stroke="#8c2ae0" stroke-width="1.8" stroke-linejoin="round" />
<polyline points="388,257.1 389.1,256.9 390.3,256.4 391.4,255.6 392.6,254.6 393.8,253.4 394.9,252.2 395.9,251 396.9,249.4 397.9,247.4 398.8,245.3 399.8,242.9 400.8,240.3 401.8,237.3 402.8,233.8 403.8,229.9 404.7,225.6 405.7,221.2 406.7,216.7 407.7,211.9 408.7,206.8 409.6,201.3 410.6,195.8 411.6,190.4 412.6,185.2 413.4,181 414.2,176.8 415.1,172.7 415.9,168.7 416.7,165 417.5,161.5 418.2,158.8 418.8,156.1 419.5,153.5 420.2,151.2 420.8,149.2 421.5,147.7 422,146.8 422.5,145.9 422.9,145.1 423.4,144.4 423.9,144 424.4,143.8 425.2,144.1 426.1,144.9 426.9,146.1 427.7,147.5 428.6,149 429.4,150.5 430.4,152.4 431.4,154.8 432.4,157.4 433.3,160.1 434.3,162.9 435.3,165.5 436.3,168.1 437.3,170.7 438.2,173.4 439.2,176 440.2,178.5 441.2,181 442.2,183.4 443.2,185.7 444.1,188 445.1,190.2 446.1,192.4 447.1,194.5 448.1,196.5 449.1,198.6 450.1,200.5 451,202.4 452,204.2 453,206 454,207.7 455,209.4 455.9,211.1 456.9,212.7 457.9,214.2 458.9,215.5 459.7,216.6 460.5,217.6 461.4,218.6 462.2,219.4 463,220.2 463.8,220.8 464.8,221.4 465.8,221.9 466.8,222.4 467.7,222.8 468.7,223.1 469.7,223.3 470.7,223.4 471.7,223.5 472.6,223.6 473.6,223.7 474.6,223.8 475.6,223.8 476.8,223.8 477.9,223.9 479.1,223.9 480.3,223.9 481.4,223.9 482.6,224 483.8,224.2 484.9,224.8 486.1,225.6 487.2,226.5 488.4,227.4 489.5,228.2 491,229.2 492.4,230.3 493.9,231.4 495.4,232.5 496.8,233.7 498.3,234.9" fill="none" stroke="#6a9a22" stroke-width="1.8" stroke-linejoin="round" />
<polyline points="503.6,240 504.2,240.8 504.8,241.2 505.4,241.4 506,241.4 506.6,241 507.2,240.5 507.8,239.7 508.4,238.8 509,237.9 509.6,237 510.2,236.4 510.8,236.1 511.4,236.2 512,236.1 512.6,236.7 513.2,237.3 513.8,238.5 514.4,239 515,239.7 515.6,240.5 516.2,241.4 516.8,242.1 517.4,242.1 518,242.1 518.6,241.8 519.2,241.2 519.8,240.6 520.4,239.9 521,239.4 521.6,238.7 522.2,238.1 522.8,237.9 523.4,237.9 524,238 524.6,238.3 525.2,238.9 525.8,239.8 526.4,240.4 527,241.1 527.6,241.7 528.2,242 528.8,242.4 529.4,242.5 530,242.6 530.6,242.3 531.2,241.9 531.8,241.5 532.4,241.1 533,240.4 533.6,239.7 534.2,239.5 534.8,239.4 535.4,239.4 536,239.2 536.6,239.2 537.2,239.6 537.8,240.2 538.4,241 539,241.5 539.6,242 540.2,242.5 540.8,242.7 541.4,243.1 542,243.1 542.6,243.2 543.2,242.4 543.8,241.8 544.4,241.4 545,241.2 545.6,240.6 546.2,240.3 546.8,240.1 547.4,240.4 548,240.2 548.6,240.4 549.2,240.6 549.8,241.2 550.4,241.9 551,242.5 551.6,243 552.2,243.1 552.8,243.1 553.4,243.1 554,243.3 554.6,243.4 555.2,243.1 555.8,242.7 556.4,242.1 557,241.5 557.6,241.1 558.2,240.9 558.8,240.9 559.4,240.8 560,240.7 560.6,240.9 561.2,241.4 561.8,242 562.4,242.4 563,242.7 563.6,243 564.2,243.2 564.8,243.2 565.4,243.8 566,243.7 566.6,243.6 567.2,242.8 567.8,242.7 568.4,242.6 569,242.5 569.6,241.9 570.2,241.5 570.8,241.2 571.4,241.4 572,241.5 572.6,242 573.2,242.2 573.8,242.5 574.4,242.7 575,242.8 575.6,243 576.2,243 576.8,243.5 577.4,243.8 578,243.9 578.6,243.4 579.2,243.1 579.8,242.7 580.4,242.8 581,242.5 581.6,242.5 582.2,242.4 582.8,242.3 583.4,242.3 584,242.1 584.6,242.2 585.2,242.3 585.8,242.6 586.4,242.9 587,243.1 587.6,243.5 588.2,243.6 588.8,243.8 589.4,243.6 590,243.4 590.6,243.4 591.2,243.3 591.8,243.2 592.4,242.8 593,242.4 593.6,242.4 594.2,242.5 594.8,242.8 595.4,242.5 596,242.2 596.6,242.2 597.2,242.7 597.8,243.1 598.4,243.4 599,243.3 599.6,243.4 600.2,243.5 600.8,243.7 601.4,243.8 602,243.8 602.6,243.7 603.2,243.4 603.8,243.3 604.4,243.2 605,243 605.6,242.9 606.2,242.6 606.8,242.7 607.4,242.7 608,242.7 608.6,242.7 609.2,242.8 609.8,243 610.4,243.5 611,243.6 611.6,243.6 612.2,243.8 612.8,243.6 613.4,244 614,243.7 614.6,244 615.2,243.7 615.8,243.7 616.4,243.4 617,243.3 617.6,243.1 618.2,243 618.8,243 619.4,242.8 620,242.8 620.6,242.7 621.2,242.9 621.8,243.3 622.4,243.4 623,243.5 623.6,243.3 624.2,243.5 624.8,243.7 625.4,243.8 626,243.8 626.6,243.6 627.2,243.6 627.8,243.3 628.4,243.3 629,243.3 629.6,243.3 630.2,243.2 630.8,242.9 631.4,243.1 632,243.2 632.6,243.7 633.2,243.6 633.8,243.6 634.4,243.3 635,243.3 635.6,243.5 636.2,243.7 636.8,244 637.4,244 638,243.9 638.6,243.8" fill="none" stroke="#6a9a22" stroke-width="1.8" stroke-linejoin="round" />
<polyline points="388,257.1 389.1,256.9 390.3,256.4 391.4,255.6 392.6,254.6 393.8,253.4 394.9,252.2 395.9,251 396.9,249.4 397.9,247.4 398.8,245.3 399.8,242.9 400.8,240.3 401.8,237.3 402.8,233.8 403.8,229.9 404.7,225.6 405.7,221.2 406.7,216.7 407.7,211.9 408.7,206.8 409.6,201.3 410.6,195.8 411.6,190.4 412.6,185.2 413.4,181 414.2,176.8 415.1,172.7 415.9,168.7 416.7,165 417.5,161.5 418.2,158.8 418.8,156.1 419.5,153.6 420.2,151.3 420.8,149.3 421.5,147.7 422,146.7 422.5,145.8 422.9,144.9 423.4,144.2 423.9,143.8 424.4,143.6 425.2,143.8 426.1,144.5 426.9,145.4 427.7,146.5 428.6,147.7 429.4,149 430.4,150.7 431.4,152.8 432.4,155.3 433.3,157.9 434.3,160.5 435.3,163 436.3,165.5 437.3,168 438.2,170.5 439.2,173.1 440.2,175.6 441.2,178 442.2,180.4 443.2,182.7 444.1,185 445.1,187.2 446.1,189.4 447.1,191.5 448.1,193.5 449.1,195.5 450.1,197.5 451,199.4 452,201.2 453,203 454,204.8 455,206.5 455.9,208.2 456.9,209.8 457.9,211.4 458.9,212.8 459.7,213.9 460.5,215.1 461.4,216.1 462.2,217.1 463,217.9 463.8,218.6 464.8,219.2 465.8,219.8 466.8,220.3 467.7,220.7 468.7,221.1 469.7,221.3 470.7,221.5 471.7,221.6 472.6,221.7 473.6,221.8 474.6,221.9 475.6,222 476.8,222.1 477.9,222.3 479.1,222.4 480.3,222.6 481.4,222.8 482.6,223 483.8,223.4 484.9,224.1 486.1,224.9 487.2,225.8 488.4,226.7 489.5,227.6 491,228.7 492.4,229.8 493.9,230.9 495.4,232.1 496.8,233.3 498.3,234.6" fill="none" stroke="#ff8c1a" stroke-width="1.8" stroke-linejoin="round" />
<polyline points="503.6,240 504.2,240.9 504.8,241.1 505.4,241.2 506,241 506.6,240.7 507.2,240 507.8,239.5 508.4,238.7 509,238.2 509.6,237.4 510.2,237 510.8,236.6 511.4,236.5 512,236.4 512.6,236.8 513.2,237.6 513.8,238.3 514.4,239.1 515,239.9 515.6,241.1 516.2,241.7 516.8,242 517.4,242.1 518,242.5 518.6,242.2 519.2,241.7 519.8,240.8 520.4,240.1 521,239.5 521.6,238.8 522.2,238.4 522.8,238.1 523.4,238.2 524,238.4 524.6,238.7 525.2,238.9 525.8,239.6 526.4,240.5 527,241.3 527.6,242 528.2,242.7 528.8,243 529.4,243 530,242.6 530.6,242.5 531.2,242.3 531.8,241.9 532.4,241.4 533,240.7 533.6,240.1 534.2,239.7 534.8,239.5 535.4,239.3 536,239.5 536.6,239.7 537.2,240.1 537.8,240.7 538.4,241.2 539,241.9 539.6,242.4 540.2,242.8 540.8,243.1 541.4,243.1 542,243 542.6,242.8 543.2,242.8 543.8,242.5 544.4,242.1 545,241.6 545.6,241.4 546.2,240.8 546.8,240.4 547.4,240.4 548,240.6 548.6,240.9 549.2,241.2 549.8,241.7 550.4,242.1 551,242.5 551.6,242.9 552.2,243.4 552.8,243.6 553.4,243.7 554,243.8 554.6,243.7 555.2,243.2 555.8,242.8 556.4,242.2 557,241.9 557.6,241.4 558.2,241.3 558.8,241.3 559.4,241.3 560,241.8 560.6,241.9 561.2,242.2 561.8,242 562.4,242.6 563,242.9 563.6,243.4 564.2,243.7 564.8,244.1 565.4,244.2 566,244.2 566.6,243.9 567.2,243.5 567.8,242.9 568.4,242.7 569,242.7 569.6,242.6 570.2,242.3 570.8,241.9 571.4,241.9 572,241.8 572.6,242.1 573.2,242.4 573.8,242.8 574.4,242.9 575,243 575.6,243.4 576.2,244 576.8,244.1 577.4,243.9 578,243.7 578.6,243.8 579.2,243.9 579.8,243.5 580.4,243.3 581,243.1 581.6,242.8 582.2,242.5 582.8,242.3 583.4,242.5 584,242.6 584.6,242.4 585.2,242.4 585.8,242.5 586.4,243 587,243.4 587.6,243.8 588.2,244 588.8,243.9 589.4,244.1 590,244 590.6,244 591.2,243.9 591.8,243.8 592.4,243.8 593,243.2 593.6,243.1 594.2,243.1 594.8,243.2 595.4,243 596,242.7 596.6,243 597.2,243 597.8,243.3 598.4,243.6 599,244 599.6,244.4 600.2,244.3 600.8,244.4 601.4,244.3 602,244.3 602.6,244.3 603.2,244 603.8,243.7 604.4,243.5 605,243.4 605.6,243.5 606.2,243.4 606.8,243.3 607.4,243 608,243.1 608.6,243.1 609.2,243.3 609.8,243.5 610.4,243.7 611,244.1 611.6,244.3 612.2,244.5 612.8,244.3 613.4,244.1 614,244 614.6,244.1 615.2,244.2 615.8,243.9 616.4,243.7 617,243.5 617.6,243.6 618.2,243.3 618.8,243.3 619.4,243.3 620,243.5 620.6,243.3 621.2,243.3 621.8,243.6 622.4,244 623,244.1 623.6,244 624.2,244 624.8,244.3 625.4,244.5 626,244.7 626.6,244.7 627.2,244.5 627.8,244.4 628.4,244.2 629,244.2 629.6,244 630.2,243.8 630.8,243.5 631.4,243.5 632,243.3 632.6,243.6 633.2,243.9 633.8,244.3 634.4,244.3 635,244.3 635.6,244.4 636.2,244.2 636.8,244.2 637.4,244 638,244 638.6,244" fill="none" stroke="#ff8c1a" stroke-width="1.8" stroke-linejoin="round" />
<polyline points="388,257.1 389.1,256.9 390.3,256.4 391.4,255.6 392.6,254.6 393.8,253.4 394.9,252.2 395.9,251 396.9,249.4 397.9,247.4 398.8,245.3 399.8,242.9 400.8,240.3 401.8,237.3 402.8,233.8 403.8,229.9 404.7,225.6 405.7,221.2 406.7,216.7 407.7,211.9 408.7,206.8 409.6,201.3 410.6,195.8 411.6,190.4 412.6,185.2 413.4,181 414.2,176.8 415.1,172.7 415.9,168.7 416.7,165 417.5,161.5 418.2,158.8 418.8,156.1 419.5,153.6 420.2,151.3 420.8,149.3 421.5,147.7 422,146.7 422.5,145.8 422.9,144.9 423.4,144.2 423.9,143.7 424.4,143.5 425.1,143.6 425.7,143.8 426.4,144.2 427.1,144.6 427.7,145.1 428.4,145.7 429.2,146.8 430,148.4 430.9,150.5 431.7,152.8 432.5,155.2 433.3,157.5 434.1,159.8 434.9,162.3 435.8,164.9 436.6,167.5 437.4,170.1 438.2,172.5 439.2,175.3 440.2,178.1 441.1,180.9 442.1,183.5 443.1,186.1 444.1,188.5 445.1,190.8 446.1,193 447.1,195.2 448,197.2 449,199.2 450,201 451,202.8 452,204.6 453,206.3 454,207.8 455,209.3 456,210.5 457.3,211.9 458.6,213.3 459.9,214.6 461.2,215.7 462.5,216.6 463.8,217.2 465.1,217.6 466.4,218 467.8,218.3 469.1,218.5 470.4,218.8 471.7,219 472.7,219.2 473.7,219.3 474.6,219.5 475.6,219.6 476.6,219.8 477.6,220 478.4,220.2 479.3,220.5 480.1,220.7 480.9,221.1 481.8,221.4 482.6,221.8 483.8,222.4 484.9,223.2 486.1,224.1 487.2,225.1 488.4,226.1 489.5,227 491,228.2 492.4,229.4 493.9,230.6 495.4,231.8 496.8,233.1 498.3,234.4" fill="none" stroke="#ff1e1e" stroke-width="1.8" stroke-linejoin="round" />
<polyline points="503.6,239.7 504.2,240.4 504.8,241.1 505.4,241.6 506,241.6 506.6,241 507.2,240.2 507.8,239.6 508.4,238.7 509,238 509.6,237.2 510.2,236.8 510.8,236.5 511.4,236.4 512,236.6 512.6,237.1 513.2,237.6 513.8,238.6 514.4,239.3 515,240.3 515.6,241.1 516.2,242.2 516.8,242.9 517.4,242.9 518,242.2 518.6,241.8 519.2,241.4 519.8,241 520.4,240.3 521,239.5 521.6,239.1 522.2,238.6 522.8,238.4 523.4,237.9 524,238.1 524.6,238.4 525.2,239.2 525.8,239.9 526.4,240.5 527,241.2 527.6,241.7 528.2,242.5 528.8,243 529.4,243.4 530,243.2 530.6,243 531.2,242.3 531.8,241.9 532.4,241.3 533,240.9 533.6,240.4 534.2,240.1 534.8,239.8 535.4,239.8 536,239.9 536.6,240.2 537.2,240.7 537.8,240.9 538.4,241.5 539,242.2 539.6,242.9 540.2,243.3 540.8,243.7 541.4,243.7 542,243.9 542.6,243.6 543.2,243.4 543.8,242.9 544.4,242.3 545,241.8 545.6,241.3 546.2,241.3 546.8,240.7 547.4,240.5 548,240.3 548.6,240.5 549.2,241.1 549.8,241.7 550.4,242.3 551,242.8 551.6,243.2 552.2,243.7 552.8,244.1 553.4,244.3 554,244.3 554.6,244.2 555.2,244 555.8,243.4 556.4,242.8 557,242.3 557.6,242.2 558.2,242.1 558.8,242 559.4,241.7 560,241.9 560.6,242 561.2,242.6 561.8,242.8 562.4,243.1 563,243.3 563.6,243.7 564.2,244.2 564.8,244.4 565.4,244.3 566,243.9 566.6,243.7 567.2,243.6 567.8,243.5 568.4,243.4 569,243.1 569.6,242.7 570.2,242.4 570.8,242.3 571.4,242.4 572,242.5 572.6,242.7 573.2,242.9 573.8,243.2 574.4,243.4 575,243.6 575.6,244.2 576.2,244.4 576.8,244.9 577.4,244.7 578,244.9 578.6,244.3 579.2,244.2 579.8,244 580.4,243.8 581,243.5 581.6,243.1 582.2,243.1 582.8,242.9 583.4,242.7 584,242.7 584.6,243.1 585.2,243.5 585.8,243.7 586.4,244 587,244.3 587.6,244.4 588.2,244.7 588.8,244.7 589.4,245.1 590,244.9 590.6,244.7 591.2,244.4 591.8,244.2 592.4,244.1 593,243.9 593.6,243.7 594.2,243.5 594.8,243.2 595.4,243.1 596,243 596.6,243.2 597.2,243.6 597.8,243.9 598.4,244.2 599,244.6 599.6,244.7 600.2,244.8 600.8,244.7 601.4,244.8 602,244.7 602.6,244.6 603.2,244.6 603.8,244.4 604.4,244.3 605,244.1 605.6,244.1 606.2,244.1 606.8,243.9 607.4,243.9 608,243.8 608.6,243.9 609.2,243.9 609.8,244 610.4,244.1 611,244.4 611.6,244.5 612.2,244.6 612.8,244.6 613.4,244.7 614,245 614.6,244.8 615.2,244.8 615.8,244.5 616.4,244.1 617,243.9 617.6,243.7 618.2,244 618.8,243.9 619.4,243.9 620,243.9 620.6,243.9 621.2,244 621.8,244.1 622.4,244.4 623,244.4 623.6,244.7 624.2,244.8 624.8,244.9 625.4,244.9 626,245 626.6,245.2 627.2,244.9 627.8,244.9 628.4,244.6 629,244.8 629.6,244.4 630.2,244.3 630.8,244.1 631.4,244 632,244 632.6,244.2 633.2,244.6 633.8,244.8 634.4,244.8 635,244.8 635.6,245 636.2,244.9 636.8,244.9 637.4,244.6 638,244.8 638.6,244.9" fill="none" stroke="#ff1e1e" stroke-width="1.8" stroke-linejoin="round" />
<line x1="482.2" y1="210" x2="482.2" y2="246.5" stroke="#222" stroke-width="1.6" stroke-dasharray="3.6 3"/>
<line x1="511.7" y1="218" x2="511.7" y2="254.5" stroke="#222" stroke-width="1.6" stroke-dasharray="3.6 3"/>
<line x1="453" y1="145.3" x2="466.8" y2="145.3" stroke="#1e9ef8" stroke-width="1.6" />
<text x="468.8" y="149.1" font-size="11.5" >200 μJ/cm<tspan font-size="7.8" dy="-4.4">2</tspan></text>
<line x1="453" y1="157.6" x2="466.8" y2="157.6" stroke="#8c2ae0" stroke-width="1.6" />
<text x="468.8" y="161.4" font-size="11.5" >300 μJ/cm<tspan font-size="7.8" dy="-4.4">2</tspan></text>
<line x1="453" y1="170" x2="466.8" y2="170" stroke="#6a9a22" stroke-width="1.6" />
<text x="468.8" y="173.8" font-size="11.5" >400 μJ/cm<tspan font-size="7.8" dy="-4.4">2</tspan></text>
<line x1="453" y1="182.6" x2="466.8" y2="182.6" stroke="#ff8c1a" stroke-width="1.6" />
<text x="468.8" y="186.4" font-size="11.5" >500 μJ/cm<tspan font-size="7.8" dy="-4.4">2</tspan></text>
<line x1="453" y1="195" x2="466.8" y2="195" stroke="#ff1e1e" stroke-width="1.6" />
<text x="468.8" y="198.8" font-size="11.5" >600 μJ/cm<tspan font-size="7.8" dy="-4.4">2</tspan></text>
<line x1="388" y1="133.3" x2="639.3" y2="133.3" stroke="#000" stroke-width="1.5" />
<line x1="388" y1="260.8" x2="639.3" y2="260.8" stroke="#000" stroke-width="1.5" />
<line x1="388" y1="133.3" x2="388" y2="260.8" stroke="#000" stroke-width="1.5" />
<line x1="639.3" y1="133.3" x2="639.3" y2="260.8" stroke="#000" stroke-width="1.5" />
<line x1="388" y1="259.3" x2="391.2" y2="259.3" stroke="#000" stroke-width="1.2" />
<line x1="388" y1="201.35" x2="391.2" y2="201.35" stroke="#000" stroke-width="1.2" />
<line x1="388" y1="143.4" x2="391.2" y2="143.4" stroke="#000" stroke-width="1.2" />
<line x1="388" y1="230.33" x2="390" y2="230.33" stroke="#000" stroke-width="1.2" />
<line x1="388" y1="172.38" x2="390" y2="172.38" stroke="#000" stroke-width="1.2" />
<line x1="424.4" y1="260.8" x2="424.4" y2="257.6" stroke="#000" stroke-width="1.2" />
<line x1="482.5" y1="260.8" x2="482.5" y2="257.6" stroke="#000" stroke-width="1.2" />
<line x1="561" y1="260.8" x2="561" y2="257.6" stroke="#000" stroke-width="1.2" />
<line x1="633" y1="260.8" x2="633" y2="257.6" stroke="#000" stroke-width="1.2" />
<line x1="453.5" y1="260.8" x2="453.5" y2="258.8" stroke="#000" stroke-width="1.2" />
<line x1="597" y1="260.8" x2="597" y2="258.8" stroke="#000" stroke-width="1.2" />
<rect x="498.5" y="258.8" width="9" height="4" fill="#fff" />
<line x1="498" y1="263.8" x2="502" y2="257.8" stroke="#000" stroke-width="1.3" />
<line x1="503.5" y1="263.8" x2="507.5" y2="257.8" stroke="#000" stroke-width="1.3" />
<rect x="498.5" y="131.3" width="9" height="4" fill="#fff" />
<line x1="498" y1="136.3" x2="502" y2="130.3" stroke="#000" stroke-width="1.3" />
<line x1="503.5" y1="136.3" x2="507.5" y2="130.3" stroke="#000" stroke-width="1.3" />
<text x="386" y="149.5" font-size="15" text-anchor="end" >1.0</text>
<text x="386" y="207.5" font-size="15" text-anchor="end" >0.5</text>
<text x="386" y="263.5" font-size="15" text-anchor="end" >0.0</text>
<text x="423.3" y="275.8" font-size="15" text-anchor="middle" >0.0</text>
<text x="481.5" y="275.8" font-size="15" text-anchor="middle" >0.2</text>
<text x="561.8" y="275.8" font-size="15" text-anchor="middle" >1.0</text>
<text x="632" y="275.8" font-size="15" text-anchor="middle" >2.0</text>
<text x="529" y="289.6" font-size="15.5" text-anchor="middle" >Waiting time (ps)</text>
<text x="348.6" y="142.4" font-size="23" font-weight="bold" >d</text>
<text transform="translate(360,200.8) rotate(-90)" font-size="15.5" text-anchor="middle" >-ΔT/T (norm.)</text>
<rect x="558.3" y="133.3" width="81" height="63.7" fill="#fff" />
<line x1="558.3" y1="187.4" x2="631.74" y2="153" stroke="#f01818" stroke-width="1.3" />
<line x1="582.38" y1="180.55" x2="582.38" y2="168.65" stroke="#f01818" stroke-width="1.1" />
<line x1="580.88" y1="180.55" x2="583.88" y2="180.55" stroke="#f01818" stroke-width="1.0" />
<line x1="580.88" y1="168.65" x2="583.88" y2="168.65" stroke="#f01818" stroke-width="1.0" />
<rect x="579.38" y="171.6" width="6" height="6" fill="#f01818" />
<line x1="594.42" y1="175.97" x2="594.42" y2="164.07" stroke="#f01818" stroke-width="1.1" />
<line x1="592.92" y1="175.97" x2="595.92" y2="175.97" stroke="#f01818" stroke-width="1.0" />
<line x1="592.92" y1="164.07" x2="595.92" y2="164.07" stroke="#f01818" stroke-width="1.0" />
<rect x="591.42" y="167.02" width="6" height="6" fill="#f01818" />
<line x1="606.46" y1="169.66" x2="606.46" y2="158.95" stroke="#f01818" stroke-width="1.1" />
<line x1="604.96" y1="169.66" x2="607.96" y2="169.66" stroke="#f01818" stroke-width="1.0" />
<line x1="604.96" y1="158.95" x2="607.96" y2="158.95" stroke="#f01818" stroke-width="1.0" />
<rect x="603.46" y="161.31" width="6" height="6" fill="#f01818" />
<line x1="618.5" y1="166.27" x2="618.5" y2="153.18" stroke="#f01818" stroke-width="1.1" />
<line x1="617" y1="166.27" x2="620" y2="166.27" stroke="#f01818" stroke-width="1.0" />
<line x1="617" y1="153.18" x2="620" y2="153.18" stroke="#f01818" stroke-width="1.0" />
<rect x="615.5" y="156.73" width="6" height="6" fill="#f01818" />
<line x1="630.54" y1="161.69" x2="630.54" y2="145.03" stroke="#f01818" stroke-width="1.1" />
<line x1="629.04" y1="161.69" x2="632.04" y2="161.69" stroke="#f01818" stroke-width="1.0" />
<line x1="629.04" y1="145.03" x2="632.04" y2="145.03" stroke="#f01818" stroke-width="1.0" />
<rect x="627.54" y="150.36" width="6" height="6" fill="#f01818" />
<line x1="558.3" y1="133.3" x2="558.3" y2="197" stroke="#000" stroke-width="1.4" />
<line x1="558.3" y1="197" x2="639.3" y2="197" stroke="#000" stroke-width="1.4" />
<line x1="558.3" y1="186.8" x2="561.1" y2="186.8" stroke="#000" stroke-width="1.0" />
<line x1="558.3" y1="163" x2="561.1" y2="163" stroke="#000" stroke-width="1.0" />
<line x1="558.3" y1="139.2" x2="561.1" y2="139.2" stroke="#000" stroke-width="1.0" />
<line x1="558.3" y1="174.9" x2="560.1" y2="174.9" stroke="#000" stroke-width="1.0" />
<line x1="558.3" y1="151.1" x2="560.1" y2="151.1" stroke="#000" stroke-width="1.0" />
<line x1="558.3" y1="197" x2="558.3" y2="194.2" stroke="#000" stroke-width="1.0" />
<line x1="582.38" y1="197" x2="582.38" y2="194.2" stroke="#000" stroke-width="1.0" />
<line x1="606.46" y1="197" x2="606.46" y2="194.2" stroke="#000" stroke-width="1.0" />
<line x1="630.54" y1="197" x2="630.54" y2="194.2" stroke="#000" stroke-width="1.0" />
<line x1="570.34" y1="197" x2="570.34" y2="195.2" stroke="#000" stroke-width="1.0" />
<line x1="594.42" y1="197" x2="594.42" y2="195.2" stroke="#000" stroke-width="1.0" />
<line x1="618.5" y1="197" x2="618.5" y2="195.2" stroke="#000" stroke-width="1.0" />
<text x="556.8" y="190.3" font-size="11" text-anchor="end" >40</text>
<text x="556.8" y="167" font-size="11" text-anchor="end" >80</text>
<text x="556.8" y="142.7" font-size="11" text-anchor="end" >120</text>
<text x="558.3" y="206.4" font-size="11" text-anchor="middle" >0</text>
<text x="582.3" y="206.4" font-size="11" text-anchor="middle" >200</text>
<text x="606" y="206.4" font-size="11" text-anchor="middle" >400</text>
<text x="630.7" y="206.4" font-size="11" text-anchor="middle" >600</text>
<rect x="565.8" y="145" width="4.4" height="4.4" fill="#f01818" />
<text x="573.6" y="151.4" font-size="15" ><tspan font-style="italic">τ</tspan><tspan font-size="10" dy="3">1</tspan></text>
<line x1="577.2" y1="190.4" x2="568.64" y2="188.31" stroke="#111" stroke-width="3.4" />
<polygon points="563.3,187 570.08,184.54 568.18,192.31" fill="#111"/>
<text x="578.7" y="194.8" font-size="12.2" >39±10 fs</text>
<text transform="translate(541.3,163) rotate(-90)" font-size="11" text-anchor="middle" ><tspan font-style="italic">τ</tspan><tspan font-size="7.5" dy="2.5">1</tspan><tspan dy="-2.5"> (fs)</tspan></text>
<text x="601.6" y="222.2" font-size="11.5" text-anchor="middle" >Pump fluence</text>
<text x="597.5" y="233.4" font-size="11.5" text-anchor="middle" >(μJ/cm<tspan font-size="7.8" dy="-4.4">2</tspan><tspan dy="3.9">)</tspan></text>
<line x1="558.3" y1="133.3" x2="639.3" y2="133.3" stroke="#000" stroke-width="1.5" />
<line x1="639.3" y1="133.3" x2="639.3" y2="260.8" stroke="#000" stroke-width="1.5" />
<rect x="498.5" y="131.3" width="9" height="4" fill="#fff" />
<line x1="498" y1="136.3" x2="502" y2="130.3" stroke="#000" stroke-width="1.3" />
<line x1="503.5" y1="136.3" x2="507.5" y2="130.3" stroke="#000" stroke-width="1.3" />
<rect x="42.5" y="301" width="257" height="4.67" fill="url(#ge0)" shape-rendering="crispEdges"/>
<rect x="42.5" y="305.07" width="257" height="4.67" fill="url(#ge1)" shape-rendering="crispEdges"/>
<rect x="42.5" y="309.15" width="257" height="4.67" fill="url(#ge2)" shape-rendering="crispEdges"/>
<rect x="42.5" y="313.23" width="257" height="4.67" fill="url(#ge3)" shape-rendering="crispEdges"/>
<rect x="42.5" y="317.3" width="257" height="4.67" fill="url(#ge4)" shape-rendering="crispEdges"/>
<rect x="42.5" y="321.38" width="257" height="4.67" fill="url(#ge5)" shape-rendering="crispEdges"/>
<rect x="42.5" y="325.45" width="257" height="4.67" fill="url(#ge6)" shape-rendering="crispEdges"/>
<rect x="42.5" y="329.52" width="257" height="4.67" fill="url(#ge7)" shape-rendering="crispEdges"/>
<rect x="42.5" y="333.6" width="257" height="4.67" fill="url(#ge8)" shape-rendering="crispEdges"/>
<rect x="42.5" y="337.68" width="257" height="4.67" fill="url(#ge9)" shape-rendering="crispEdges"/>
<rect x="42.5" y="341.75" width="257" height="4.67" fill="url(#ge10)" shape-rendering="crispEdges"/>
<rect x="42.5" y="345.82" width="257" height="4.67" fill="url(#ge11)" shape-rendering="crispEdges"/>
<rect x="42.5" y="349.9" width="257" height="4.67" fill="url(#ge12)" shape-rendering="crispEdges"/>
<rect x="42.5" y="353.98" width="257" height="4.67" fill="url(#ge13)" shape-rendering="crispEdges"/>
<rect x="42.5" y="358.05" width="257" height="4.67" fill="url(#ge14)" shape-rendering="crispEdges"/>
<rect x="42.5" y="362.12" width="257" height="4.67" fill="url(#ge15)" shape-rendering="crispEdges"/>
<rect x="42.5" y="366.2" width="257" height="4.67" fill="url(#ge16)" shape-rendering="crispEdges"/>
<rect x="42.5" y="370.27" width="257" height="4.67" fill="url(#ge17)" shape-rendering="crispEdges"/>
<rect x="42.5" y="374.35" width="257" height="4.67" fill="url(#ge18)" shape-rendering="crispEdges"/>
<rect x="42.5" y="378.43" width="257" height="4.67" fill="url(#ge19)" shape-rendering="crispEdges"/>
<rect x="42.5" y="382.5" width="257" height="82.5" fill="url(#geb)"/>
<path fill="#4343b3" shape-rendering="crispEdges" d="M42.5 382.5h51.6v1h-51.6zM42.5 383.5h51.1v1h-51.1zM42.5 384.5h51.9v1h-51.9zM42.5 385.5h53.4v1h-53.4zM42.5 386.5h53.9v1h-53.9zM42.5 387.5h53.4v1h-53.4zM42.5 388.5h52.9v1h-52.9zM42.5 389.5h53.6v1h-53.6zM42.5 390.5h54.4v1h-54.4zM42.5 391.5h53.1v1h-53.1zM42.5 392.5h52.9v1h-52.9zM42.5 393.5h53.4v1h-53.4zM42.5 394.5h53.1v1h-53.1zM42.5 395.5h52.9v1h-52.9zM42.5 396.5h50.9v2h-50.9zM42.5 398.5h49.9v1h-49.9zM42.5 399.5h75.9v1h-75.9zM42.5 400.5h66.9v1h-66.9zM42.5 401.5h60.6v1h-60.6zM42.5 402.5h63.1v1h-63.1zM42.5 403.5h65.4v1h-65.4zM42.5 404.5h64.4v1h-64.4zM42.5 405.5h65.4v1h-65.4zM42.5 406.5h66.6v1h-66.6zM42.5 407.5h70.1v1h-70.1zM42.5 408.5h70.9v1h-70.9zM42.5 409.5h71.9v1h-71.9zM42.5 410.5h71.6v1h-71.6zM42.5 411.5h72.1v1h-72.1zM42.5 412.5h73.4v1h-73.4zM42.5 413.5h73.6v1h-73.6zM42.5 414.5h74.1v4h-74.1zM42.5 418.5h73.6v1h-73.6zM42.5 419.5h74.1v1h-74.1zM42.5 420.5h73.1v1h-73.1zM42.5 421.5h73.4v1h-73.4zM42.5 422.5h74.4v2h-74.4zM42.5 424.5h74.9v1h-74.9zM42.5 425.5h74.1v1h-74.1zM42.5 426.5h74.9v1h-74.9zM42.5 427.5h75.9v1h-75.9zM42.5 428.5h76.6v1h-76.6zM42.5 429.5h76.1v1h-76.1zM42.5 430.5h74.9v1h-74.9zM42.5 431.5h74.6v1h-74.6zM42.5 432.5h75.6v1h-75.6zM42.5 433.5h76.1v1h-76.1zM42.5 434.5h75.9v1h-75.9zM42.5 435.5h76.6v1h-76.6zM42.5 436.5h77.4v1h-77.4zM42.5 437.5h76.9v1h-76.9zM42.5 438.5h76.6v1h-76.6zM42.5 439.5h75.1v1h-75.1zM42.5 440.5h75.9v1h-75.9zM42.5 441.5h74.9v3h-74.9zM42.5 444.5h76.6v1h-76.6zM42.5 445.5h78.1v1h-78.1zM42.5 446.5h77.6v1h-77.6zM42.5 447.5h76.4v2h-76.4zM42.5 449.5h76.1v1h-76.1zM42.5 450.5h76.6v1h-76.6zM42.5 451.5h76.4v1h-76.4zM42.5 452.5h79.4v1h-79.4zM42.5 453.5h80.6v2h-80.6zM42.5 455.5h79.6v1h-79.6zM42.5 456.5h79.1v1h-79.1zM42.5 457.5h80.9v1h-80.9zM42.5 458.5h81.1v1h-81.1zM42.5 459.5h81.4v1h-81.4zM42.5 460.5h80.9v1h-80.9zM42.5 461.5h81.4v1h-81.4zM42.5 462.5h81.9v1h-81.9zM42.5 463.5h80.9v1h-80.9zM42.5 464.5h81.4v1h-81.4z"/>
<path fill="#4b5cc4" shape-rendering="crispEdges" d="M94.1 382.5h47v1h-47zM288.1 382.5h11.4v1h-11.4zM93.6 383.5h47v1h-47zM287.9 383.5h11.6v1h-11.6zM94.4 384.5h47v1h-47zM286.6 384.5h12.9v1h-12.9zM95.9 385.5h43.5v1h-43.5zM284.6 385.5h14.9v1h-14.9zM96.4 386.5h43.5v1h-43.5zM286.1 386.5h13.4v1h-13.4zM95.9 387.5h42v1h-42zM285.9 387.5h13.6v1h-13.6zM95.4 388.5h41.7v1h-41.7zM287.4 388.5h12.1v1h-12.1zM96.1 389.5h40.5v1h-40.5zM284.4 389.5h15.1v1h-15.1zM96.9 390.5h40.5v1h-40.5zM284.1 390.5h15.4v1h-15.4zM95.6 391.5h43.8v1h-43.8zM282.1 391.5h17.4v1h-17.4zM95.4 392.5h46.2v1h-46.2zM283.9 392.5h15.6v1h-15.6zM95.9 393.5h45.7v1h-45.7zM285.1 393.5h14.4v1h-14.4zM95.6 394.5h45.5v1h-45.5zM283.6 394.5h15.9v1h-15.9zM95.4 395.5h44v1h-44zM281.4 395.5h18.1v1h-18.1zM93.4 396.5h47.2v1h-47.2zM280.4 396.5h19.1v1h-19.1zM93.4 397.5h47.5v1h-47.5zM281.1 397.5h18.4v1h-18.4zM92.4 398.5h48.2v1h-48.2zM280.4 398.5h19.1v1h-19.1zM118.4 399.5h45v1h-45zM281.1 399.5h18.4v1h-18.4zM109.4 400.5h43.5v1h-43.5zM282.1 400.5h17.4v1h-17.4zM103.1 401.5h40v1h-40zM284.4 401.5h15.1v1h-15.1zM105.6 402.5h38v1h-38zM282.4 402.5h17.1v1h-17.1zM107.9 403.5h35.5v1h-35.5zM282.9 403.5h16.6v1h-16.6zM106.9 404.5h36.7v1h-36.7zM281.9 404.5h17.6v1h-17.6zM107.9 405.5h36.2v1h-36.2zM283.4 405.5h16.1v1h-16.1zM109.1 406.5h34.5v1h-34.5zM281.1 406.5h18.4v1h-18.4zM112.6 407.5h33v1h-33zM280.4 407.5h19.1v1h-19.1zM113.4 408.5h32.5v1h-32.5zM279.1 408.5h20.4v2h-20.4zM114.4 409.5h32.5v1h-32.5zM114.1 410.5h31.5v1h-31.5zM280.6 410.5h18.9v2h-18.9zM114.6 411.5h31v1h-31zM115.9 412.5h28.2v1h-28.2zM280.1 412.5h19.4v1h-19.4zM116.1 413.5h27.8v1h-27.8zM279.4 413.5h20.1v1h-20.1zM116.6 414.5h27.8v1h-27.8zM278.6 414.5h20.9v1h-20.9zM116.6 415.5h28v1h-28zM280.4 415.5h19.1v1h-19.1zM116.6 416.5h29.8v1h-29.8zM279.4 416.5h20.1v1h-20.1zM116.6 417.5h28.3v1h-28.3zM279.1 417.5h20.4v1h-20.4zM116.1 418.5h31.5v1h-31.5zM279.4 418.5h20.1v1h-20.1zM116.6 419.5h29.8v1h-29.8zM282.4 419.5h17.1v1h-17.1zM115.6 420.5h33v1h-33zM285.4 420.5h14.1v1h-14.1zM115.9 421.5h32.2v1h-32.2zM284.1 421.5h15.4v1h-15.4zM116.9 422.5h30.7v1h-30.7zM282.1 422.5h17.4v1h-17.4zM116.9 423.5h31.2v1h-31.2zM281.9 423.5h17.6v1h-17.6zM117.4 424.5h32v1h-32zM281.6 424.5h17.9v1h-17.9zM116.6 425.5h34v1h-34zM280.6 425.5h18.9v1h-18.9zM117.4 426.5h32v1h-32zM279.1 426.5h20.4v1h-20.4zM118.4 427.5h29.7v1h-29.7zM280.1 427.5h19.4v1h-19.4zM119.1 428.5h28.3v1h-28.3zM280.4 428.5h19.1v1h-19.1zM118.6 429.5h30v1h-30zM278.6 429.5h20.9v1h-20.9zM117.4 430.5h31v1h-31zM276.6 430.5h22.9v1h-22.9zM117.1 431.5h32.3v1h-32.3zM278.6 431.5h20.9v1h-20.9zM118.1 432.5h29.8v1h-29.8zM279.9 432.5h19.6v1h-19.6zM118.6 433.5h29.3v1h-29.3zM281.4 433.5h18.1v1h-18.1zM118.4 434.5h28.5v1h-28.5zM281.1 434.5h18.4v1h-18.4zM119.1 435.5h29.5v1h-29.5zM282.9 435.5h16.6v2h-16.6zM119.9 436.5h29.2v1h-29.2zM119.4 437.5h31.7v1h-31.7zM283.4 437.5h16.1v1h-16.1zM119.1 438.5h31v1h-31zM281.9 438.5h17.6v1h-17.6zM117.6 439.5h32.3v1h-32.3zM282.1 439.5h17.4v1h-17.4zM118.4 440.5h30.5v1h-30.5zM280.4 440.5h19.1v1h-19.1zM117.4 441.5h31v1h-31zM282.9 441.5h16.6v1h-16.6zM117.4 442.5h31.7v2h-31.7zM283.1 442.5h16.4v1h-16.4zM283.6 443.5h15.9v1h-15.9zM119.1 444.5h30.3v1h-30.3zM281.9 444.5h17.6v1h-17.6zM120.6 445.5h27.8v1h-27.8zM281.6 445.5h17.9v1h-17.9zM120.1 446.5h28.3v1h-28.3zM283.4 446.5h16.1v1h-16.1zM118.9 447.5h31.7v1h-31.7zM282.1 447.5h17.4v1h-17.4zM118.9 448.5h32.7v1h-32.7zM281.1 448.5h18.4v1h-18.4zM118.6 449.5h33v1h-33zM279.9 449.5h19.6v1h-19.6zM119.1 450.5h31.8v1h-31.8zM284.6 450.5h14.9v1h-14.9zM118.9 451.5h34.2v1h-34.2zM286.9 451.5h12.6v1h-12.6zM121.9 452.5h31.5v1h-31.5zM287.4 452.5h12.1v1h-12.1zM123.1 453.5h30v1h-30zM285.4 453.5h14.1v1h-14.1zM123.1 454.5h28.8v1h-28.8zM286.6 454.5h12.9v1h-12.9zM122.1 455.5h29.8v1h-29.8zM286.4 455.5h13.1v1h-13.1zM121.6 456.5h31.5v1h-31.5zM285.4 456.5h14.1v1h-14.1zM123.4 457.5h30.7v1h-30.7zM284.4 457.5h15.1v1h-15.1zM123.6 458.5h32.5v1h-32.5zM285.4 458.5h14.1v1h-14.1zM123.9 459.5h31.2v1h-31.2zM286.4 459.5h13.1v1h-13.1zM123.4 460.5h32.7v1h-32.7zM284.6 460.5h14.9v1h-14.9zM123.9 461.5h32v1h-32zM286.1 461.5h13.4v1h-13.4zM124.4 462.5h32.5v1h-32.5zM287.4 462.5h12.1v1h-12.1zM123.4 463.5h32.5v1h-32.5zM288.6 463.5h10.9v1h-10.9zM123.9 464.5h31.7v1h-31.7zM287.4 464.5h12.1v1h-12.1z"/>
<path fill="#4a80c8" shape-rendering="crispEdges" d="M141.1 382.5h23v1h-23zM263.9 382.5h24.2v1h-24.2zM140.6 383.5h23.5v1h-23.5zM263.4 383.5h24.5v1h-24.5zM141.4 384.5h23v1h-23zM263.9 384.5h22.7v1h-22.7zM139.4 385.5h24.7v1h-24.7zM264.4 385.5h20.2v1h-20.2zM139.9 386.5h24.7v1h-24.7zM265.6 386.5h20.5v1h-20.5zM137.9 387.5h27v1h-27zM265.4 387.5h20.5v1h-20.5zM137.1 388.5h27.8v1h-27.8zM264.9 388.5h22.5v1h-22.5zM136.6 389.5h28v1h-28zM264.4 389.5h20v1h-20zM137.4 390.5h26.5v1h-26.5zM264.6 390.5h19.5v1h-19.5zM139.4 391.5h24.7v1h-24.7zM264.4 391.5h17.7v1h-17.7zM141.6 392.5h23v1h-23zM265.4 392.5h18.5v1h-18.5zM141.6 393.5h23.3v1h-23.3zM264.6 393.5h20.5v1h-20.5zM141.1 394.5h23.8v1h-23.8zM265.1 394.5h18.5v1h-18.5zM139.4 395.5h25.5v1h-25.5zM265.4 395.5h16v1h-16zM140.6 396.5h24.5v1h-24.5zM266.1 396.5h14.3v1h-14.3zM140.9 397.5h24.5v1h-24.5zM265.6 397.5h15.5v1h-15.5zM140.6 398.5h24.3v1h-24.3zM265.9 398.5h14.5v1h-14.5zM163.4 399.5h1.7v1h-1.7zM264.9 399.5h16.2v1h-16.2zM152.9 400.5h11.7v1h-11.7zM259.6 400.5h22.5v1h-22.5zM143.1 401.5h22v1h-22zM259.9 401.5h24.5v1h-24.5zM143.6 402.5h21.3v1h-21.3zM261.9 402.5h20.5v1h-20.5zM143.4 403.5h22v1h-22zM262.4 403.5h20.5v1h-20.5zM143.6 404.5h22v1h-22zM262.6 404.5h19.3v1h-19.3zM144.1 405.5h21.8v1h-21.8zM263.1 405.5h20.3v1h-20.3zM143.6 406.5h21.8v1h-21.8zM264.4 406.5h16.7v1h-16.7zM145.6 407.5h19v1h-19zM266.1 407.5h14.3v1h-14.3zM145.9 408.5h18.5v1h-18.5zM267.4 408.5h11.7v1h-11.7zM146.9 409.5h17.5v1h-17.5zM265.9 409.5h13.2v1h-13.2zM145.6 410.5h19.3v2h-19.3zM265.6 410.5h15v1h-15zM266.4 411.5h14.2v1h-14.2zM144.1 412.5h20.8v1h-20.8zM267.9 412.5h12.2v1h-12.2zM143.9 413.5h20.5v1h-20.5zM267.6 413.5h11.8v1h-11.8zM144.4 414.5h19.7v1h-19.7zM265.6 414.5h13v1h-13zM144.6 415.5h20v1h-20zM265.4 415.5h15v1h-15zM146.4 416.5h18.7v1h-18.7zM265.1 416.5h14.3v1h-14.3zM144.9 417.5h20.2v1h-20.2zM264.1 417.5h15v1h-15zM147.6 418.5h17.3v1h-17.3zM263.6 418.5h15.8v1h-15.8zM146.4 419.5h18.2v1h-18.2zM262.6 419.5h19.8v1h-19.8zM148.6 420.5h16v1h-16zM263.4 420.5h22v1h-22zM148.1 421.5h16.5v1h-16.5zM262.6 421.5h21.5v1h-21.5zM147.6 422.5h17v1h-17zM264.4 422.5h17.7v1h-17.7zM148.1 423.5h16.8v1h-16.8zM264.9 423.5h17v1h-17zM149.4 424.5h15.7v1h-15.7zM265.4 424.5h16.2v1h-16.2zM150.6 425.5h15v1h-15zM265.6 425.5h15v1h-15zM149.4 426.5h15.7v1h-15.7zM266.9 426.5h12.2v1h-12.2zM148.1 427.5h17v1h-17zM266.6 427.5h13.5v1h-13.5zM147.4 428.5h17.5v1h-17.5zM265.1 428.5h15.3v1h-15.3zM148.6 429.5h16.3v1h-16.3zM262.9 429.5h15.7v1h-15.7zM148.4 430.5h16.7v1h-16.7zM262.4 430.5h14.2v1h-14.2zM149.4 431.5h15.7v1h-15.7zM262.9 431.5h15.7v1h-15.7zM147.9 432.5h17.7v2h-17.7zM263.9 432.5h16v1h-16zM264.4 433.5h17v1h-17zM146.9 434.5h19.5v1h-19.5zM264.9 434.5h16.2v1h-16.2zM148.6 435.5h17.3v1h-17.3zM263.9 435.5h19v1h-19zM149.1 436.5h17v1h-17zM263.6 436.5h19.3v1h-19.3zM151.1 437.5h14.5v1h-14.5zM263.6 437.5h19.8v1h-19.8zM150.1 438.5h16v1h-16zM264.4 438.5h17.5v1h-17.5zM149.9 439.5h15.5v1h-15.5zM265.1 439.5h17v1h-17zM148.9 440.5h16.5v1h-16.5zM264.9 440.5h15.5v1h-15.5zM148.4 441.5h17.2v1h-17.2zM264.1 441.5h18.8v1h-18.8zM149.1 442.5h17v1h-17zM263.6 442.5h19.5v1h-19.5zM149.1 443.5h17.3v1h-17.3zM262.6 443.5h21v1h-21zM149.4 444.5h16.7v1h-16.7zM261.6 444.5h20.3v1h-20.3zM148.4 445.5h18v2h-18zM261.6 445.5h20v1h-20zM262.4 446.5h21v1h-21zM150.6 447.5h15.3v1h-15.3zM263.6 447.5h18.5v1h-18.5zM151.6 448.5h14v1h-14zM261.9 448.5h19.2v1h-19.2zM151.6 449.5h13.5v1h-13.5zM261.6 449.5h18.3v1h-18.3zM150.9 450.5h14v1h-14zM260.9 450.5h23.7v1h-23.7zM153.1 451.5h11.8v1h-11.8zM261.4 451.5h25.5v1h-25.5zM153.4 452.5h12.5v1h-12.5zM260.1 452.5h27.3v1h-27.3zM153.1 453.5h13.5v1h-13.5zM260.1 453.5h25.3v1h-25.3zM151.9 454.5h14.7v1h-14.7zM261.4 454.5h25.2v1h-25.2zM151.9 455.5h14.2v1h-14.2zM263.1 455.5h23.3v1h-23.3zM153.1 456.5h13.3v1h-13.3zM262.9 456.5h22.5v1h-22.5zM154.1 457.5h12.8v1h-12.8zM262.4 457.5h22v1h-22zM156.1 458.5h11v1h-11zM262.4 458.5h23v1h-23zM155.1 459.5h11.8v1h-11.8zM260.9 459.5h25.5v1h-25.5zM156.1 460.5h10.8v1h-10.8zM260.6 460.5h24v1h-24zM155.9 461.5h11.2v1h-11.2zM260.6 461.5h25.5v1h-25.5zM156.9 462.5h10.5v1h-10.5zM262.9 462.5h24.5v1h-24.5zM155.9 463.5h11.5v1h-11.5zM264.1 463.5h24.5v1h-24.5zM155.6 464.5h11.3v1h-11.3zM264.6 464.5h22.8v1h-22.8z"/>
<path fill="#3ba5c5" shape-rendering="crispEdges" d="M164.1 382.5h4.5v1h-4.5zM254.4 382.5h9.5v1h-9.5zM164.1 383.5h5v1h-5zM254.4 383.5h9v1h-9zM164.4 384.5h5.2v1h-5.2zM254.9 384.5h9v1h-9zM164.1 385.5h5.5v1h-5.5zM254.6 385.5h9.8v1h-9.8zM164.6 386.5h5v1h-5zM254.4 386.5h11.2v1h-11.2zM164.9 387.5h4.2v1h-4.2zM254.1 387.5h11.3v1h-11.3zM164.9 388.5h3.7v1h-3.7zM254.1 388.5h10.8v1h-10.8zM164.6 389.5h4v1h-4zM254.6 389.5h9.8v1h-9.8zM163.9 390.5h4.5v1h-4.5zM254.4 390.5h10.2v1h-10.2zM164.1 391.5h5v1h-5zM254.4 391.5h10v1h-10zM164.6 392.5h4.3v1h-4.3zM253.4 392.5h12v1h-12zM164.9 393.5h4v1h-4zM253.9 393.5h10.7v1h-10.7zM164.9 394.5h3.7v1h-3.7zM253.6 394.5h11.5v1h-11.5zM164.9 395.5h4.5v1h-4.5zM253.6 395.5h11.8v1h-11.8zM165.1 396.5h4.5v1h-4.5zM253.4 396.5h12.7v1h-12.7zM165.4 397.5h4.2v1h-4.2zM253.9 397.5h11.7v1h-11.7zM164.9 398.5h4.7v1h-4.7zM254.1 398.5h11.8v1h-11.8zM165.1 399.5h4.3v1h-4.3zM253.6 399.5h11.3v1h-11.3zM164.6 400.5h4.8v1h-4.8zM253.1 400.5h6.5v1h-6.5zM165.1 401.5h3.5v1h-3.5zM253.1 401.5h6.8v1h-6.8zM164.9 402.5h4.2v1h-4.2zM253.6 402.5h8.3v1h-8.3zM165.4 403.5h4v1h-4zM253.6 403.5h8.8v1h-8.8zM165.6 404.5h4.5v1h-4.5zM253.6 404.5h9v1h-9zM165.9 405.5h4v1h-4zM253.9 405.5h9.2v1h-9.2zM165.4 406.5h4.2v1h-4.2zM253.9 406.5h10.5v1h-10.5zM164.6 407.5h5v1h-5zM254.1 407.5h12v1h-12zM164.4 408.5h5v2h-5zM253.6 408.5h13.8v1h-13.8zM253.4 409.5h12.5v1h-12.5zM164.9 410.5h4.2v1h-4.2zM252.6 410.5h13v1h-13zM164.9 411.5h4.7v1h-4.7zM253.6 411.5h12.8v1h-12.8zM164.9 412.5h5v1h-5zM253.9 412.5h14v1h-14zM164.4 413.5h5.5v1h-5.5zM254.6 413.5h13v1h-13zM164.1 414.5h5.3v1h-5.3zM253.9 414.5h11.7v1h-11.7zM164.6 415.5h4.5v1h-4.5zM254.1 415.5h11.3v1h-11.3zM165.1 416.5h4.5v1h-4.5zM253.9 416.5h11.2v1h-11.2zM165.1 417.5h4.8v1h-4.8zM254.6 417.5h9.5v1h-9.5zM164.9 418.5h5v1h-5zM254.1 418.5h9.5v1h-9.5zM164.6 419.5h5v1h-5zM253.6 419.5h9v1h-9zM164.6 420.5h4.5v2h-4.5zM252.6 420.5h10.8v1h-10.8zM252.6 421.5h10v1h-10zM164.6 422.5h4.8v1h-4.8zM253.4 422.5h11v1h-11zM164.9 423.5h4.7v1h-4.7zM253.9 423.5h11v1h-11zM165.1 424.5h4.5v1h-4.5zM253.9 424.5h11.5v1h-11.5zM165.6 425.5h3.8v1h-3.8zM253.1 425.5h12.5v1h-12.5zM165.1 426.5h4.3v1h-4.3zM252.9 426.5h14v1h-14zM165.1 427.5h4v1h-4zM253.6 427.5h13v1h-13zM164.9 428.5h4.2v1h-4.2zM253.1 428.5h12v1h-12zM164.9 429.5h4v1h-4zM253.4 429.5h9.5v1h-9.5zM165.1 430.5h4.5v1h-4.5zM252.6 430.5h9.8v1h-9.8zM165.1 431.5h4.3v1h-4.3zM253.9 431.5h9v1h-9zM165.6 432.5h4.3v2h-4.3zM253.1 432.5h10.8v1h-10.8zM253.4 433.5h11v1h-11zM166.4 434.5h3.7v1h-3.7zM252.6 434.5h12.3v1h-12.3zM165.9 435.5h4v1h-4zM252.6 435.5h11.3v1h-11.3zM166.1 436.5h3.3v1h-3.3zM253.1 436.5h10.5v1h-10.5zM165.6 437.5h4v1h-4zM253.9 437.5h9.7v1h-9.7zM166.1 438.5h3.3v1h-3.3zM254.1 438.5h10.3v1h-10.3zM165.4 439.5h4.2v1h-4.2zM253.4 439.5h11.7v1h-11.7zM165.4 440.5h4.7v1h-4.7zM252.4 440.5h12.5v1h-12.5zM165.6 441.5h4.8v1h-4.8zM252.4 441.5h11.7v1h-11.7zM166.1 442.5h4v1h-4zM252.6 442.5h11v1h-11zM166.4 443.5h3v1h-3zM253.1 443.5h9.5v1h-9.5zM166.1 444.5h3.5v1h-3.5zM253.4 444.5h8.2v1h-8.2zM166.4 445.5h2.7v2h-2.7zM252.9 445.5h8.7v1h-8.7zM252.9 446.5h9.5v1h-9.5zM165.9 447.5h3.7v1h-3.7zM252.9 447.5h10.7v1h-10.7zM165.6 448.5h4v1h-4zM253.6 448.5h8.3v1h-8.3zM165.1 449.5h5v1h-5zM254.4 449.5h7.2v1h-7.2zM164.9 450.5h5.5v1h-5.5zM254.1 450.5h6.8v1h-6.8zM164.9 451.5h5.7v1h-5.7zM253.6 451.5h7.8v1h-7.8zM165.9 452.5h4.5v1h-4.5zM252.9 452.5h7.2v1h-7.2zM166.6 453.5h4v1h-4zM252.6 453.5h7.5v1h-7.5zM166.6 454.5h3.8v1h-3.8zM252.6 454.5h8.8v1h-8.8zM166.1 455.5h4v1h-4zM252.6 455.5h10.5v1h-10.5zM166.4 456.5h3v1h-3zM252.6 456.5h10.3v1h-10.3zM166.9 457.5h2.5v1h-2.5zM252.9 457.5h9.5v2h-9.5zM167.1 458.5h2.8v1h-2.8zM166.9 459.5h3.7v1h-3.7zM253.4 459.5h7.5v1h-7.5zM166.9 460.5h3.5v1h-3.5zM253.1 460.5h7.5v1h-7.5zM167.1 461.5h2.5v1h-2.5zM252.9 461.5h7.7v1h-7.7zM167.4 462.5h2v1h-2zM252.4 462.5h10.5v1h-10.5zM167.4 463.5h2.2v1h-2.2zM252.4 463.5h11.7v1h-11.7zM166.9 464.5h3v1h-3zM252.4 464.5h12.2v1h-12.2z"/>
<path fill="#58b0a0" shape-rendering="crispEdges" d="M168.6 382.5h5.3v1h-5.3zM249.1 382.5h5.3v2h-5.3zM169.1 383.5h5v1h-5zM169.6 384.5h4.8v2h-4.8zM249.6 384.5h5.3v1h-5.3zM249.4 385.5h5.2v1h-5.2zM169.6 386.5h3.8v1h-3.8zM249.1 386.5h5.3v1h-5.3zM169.1 387.5h4.3v1h-4.3zM248.9 387.5h5.2v2h-5.2zM168.6 388.5h4.3v2h-4.3zM249.6 389.5h5v1h-5zM168.4 390.5h4.7v1h-4.7zM249.4 390.5h5v2h-5zM169.1 391.5h4.5v1h-4.5zM168.9 392.5h5.2v1h-5.2zM248.1 392.5h5.3v1h-5.3zM168.9 393.5h4.5v1h-4.5zM248.9 393.5h5v1h-5zM168.6 394.5h4.5v1h-4.5zM248.4 394.5h5.2v2h-5.2zM169.4 395.5h3.7v1h-3.7zM169.6 396.5h4v1h-4zM248.1 396.5h5.3v1h-5.3zM169.6 397.5h4.8v1h-4.8zM248.9 397.5h5v1h-5zM169.6 398.5h5v1h-5zM249.1 398.5h5v1h-5zM169.4 399.5h4.7v1h-4.7zM248.6 399.5h5v1h-5zM169.4 400.5h4v1h-4zM247.9 400.5h5.2v1h-5.2zM168.6 401.5h4.8v1h-4.8zM248.1 401.5h5v1h-5zM169.1 402.5h4.3v1h-4.3zM248.6 402.5h5v2h-5zM169.4 403.5h4v1h-4zM170.1 404.5h3.5v1h-3.5zM248.9 404.5h4.7v1h-4.7zM169.9 405.5h3.5v1h-3.5zM248.9 405.5h5v2h-5zM169.6 406.5h4.3v1h-4.3zM169.6 407.5h4.5v1h-4.5zM249.4 407.5h4.7v1h-4.7zM169.4 408.5h5.2v1h-5.2zM248.9 408.5h4.7v1h-4.7zM169.4 409.5h5v1h-5zM248.6 409.5h4.8v1h-4.8zM169.1 410.5h5v1h-5zM247.6 410.5h5v1h-5zM169.6 411.5h4.3v1h-4.3zM248.9 411.5h4.7v1h-4.7zM169.9 412.5h4v1h-4zM249.1 412.5h4.8v1h-4.8zM169.9 413.5h3.7v1h-3.7zM249.9 413.5h4.7v1h-4.7zM169.4 414.5h4v1h-4zM249.1 414.5h4.8v1h-4.8zM169.1 415.5h4v1h-4zM249.4 415.5h4.7v1h-4.7zM169.6 416.5h3.8v1h-3.8zM249.4 416.5h4.5v1h-4.5zM169.9 417.5h3.7v1h-3.7zM250.1 417.5h4.5v1h-4.5zM169.9 418.5h4.2v1h-4.2zM249.6 418.5h4.5v1h-4.5zM169.6 419.5h4.5v1h-4.5zM248.9 419.5h4.7v1h-4.7zM169.1 420.5h4.8v1h-4.8zM247.9 420.5h4.7v1h-4.7zM169.1 421.5h4.5v1h-4.5zM247.6 421.5h5v1h-5zM169.4 422.5h4v1h-4zM248.6 422.5h4.8v1h-4.8zM169.6 423.5h4.3v1h-4.3zM249.4 423.5h4.5v1h-4.5zM169.6 424.5h4.5v1h-4.5zM249.6 424.5h4.3v1h-4.3zM169.4 425.5h5v1h-5zM248.6 425.5h4.5v1h-4.5zM169.4 426.5h4.7v1h-4.7zM248.1 426.5h4.8v1h-4.8zM169.1 427.5h5v1h-5zM249.1 427.5h4.5v1h-4.5zM169.1 428.5h4.5v1h-4.5zM248.6 428.5h4.5v1h-4.5zM168.9 429.5h4.7v1h-4.7zM248.9 429.5h4.5v1h-4.5zM169.6 430.5h4.5v1h-4.5zM247.9 430.5h4.7v1h-4.7zM169.4 431.5h4.5v1h-4.5zM249.4 431.5h4.5v1h-4.5zM169.9 432.5h4.2v2h-4.2zM248.9 432.5h4.2v1h-4.2zM249.1 433.5h4.3v1h-4.3zM170.1 434.5h4.8v1h-4.8zM248.1 434.5h4.5v2h-4.5zM169.9 435.5h4.7v1h-4.7zM169.4 436.5h5v1h-5zM248.9 436.5h4.2v1h-4.2zM169.6 437.5h4v1h-4zM249.9 437.5h4v1h-4zM169.4 438.5h5v1h-5zM250.1 438.5h4v1h-4zM169.6 439.5h4.8v1h-4.8zM249.1 439.5h4.3v1h-4.3zM170.1 440.5h5v1h-5zM247.9 440.5h4.5v2h-4.5zM170.4 441.5h4v1h-4zM170.1 442.5h4.3v1h-4.3zM248.4 442.5h4.2v1h-4.2zM169.4 443.5h4.2v1h-4.2zM249.1 443.5h4v1h-4zM169.6 444.5h4.3v1h-4.3zM249.1 444.5h4.3v1h-4.3zM169.1 445.5h4.8v1h-4.8zM248.6 445.5h4.3v1h-4.3zM169.1 446.5h5v1h-5zM248.9 446.5h4v2h-4zM169.6 447.5h4.8v2h-4.8zM249.9 448.5h3.7v1h-3.7zM170.1 449.5h4.3v1h-4.3zM250.6 449.5h3.8v1h-3.8zM170.4 450.5h3.5v1h-3.5zM250.4 450.5h3.7v1h-3.7zM170.6 451.5h3.3v1h-3.3zM249.6 451.5h4v1h-4zM170.4 452.5h3.7v1h-3.7zM248.9 452.5h4v1h-4zM170.6 453.5h3.5v1h-3.5zM248.6 453.5h4v4h-4zM170.4 454.5h3.5v1h-3.5zM170.1 455.5h3.8v1h-3.8zM169.4 456.5h4.5v1h-4.5zM169.4 457.5h4.2v1h-4.2zM249.1 457.5h3.8v2h-3.8zM169.9 458.5h4v1h-4zM170.6 459.5h3.8v1h-3.8zM249.6 459.5h3.8v1h-3.8zM170.4 460.5h3.7v1h-3.7zM249.4 460.5h3.7v1h-3.7zM169.6 461.5h4.5v1h-4.5zM249.1 461.5h3.8v1h-3.8zM169.4 462.5h4.5v1h-4.5zM248.6 462.5h3.8v3h-3.8zM169.6 463.5h4.5v1h-4.5zM169.9 464.5h4.2v1h-4.2z"/>
<path fill="#7cbe7a" shape-rendering="crispEdges" d="M173.9 382.5h1v1h-1zM248.9 382.5h0.2v2h-0.2zM174.1 383.5h1.3v1h-1.3zM174.4 384.5h1v2h-1zM249.4 384.5h0.2v1h-0.2zM249.1 385.5h0.3v1h-0.3zM173.4 386.5h1.2v1h-1.2zM248.9 386.5h0.2v1h-0.2zM173.4 387.5h1v1h-1zM248.6 387.5h0.3v2h-0.3zM172.9 388.5h1.2v2h-1.2zM249.4 389.5h0.2v1h-0.2zM173.1 390.5h1v1h-1zM249.1 390.5h0.3v2h-0.3zM173.6 391.5h1.3v1h-1.3zM174.1 392.5h1v1h-1zM247.9 392.5h0.2v1h-0.2zM173.4 393.5h1.2v1h-1.2zM248.6 393.5h0.3v1h-0.3zM173.1 394.5h1.3v1h-1.3zM248.1 394.5h0.3v2h-0.3zM173.1 395.5h1v1h-1zM173.6 396.5h1.3v1h-1.3zM247.9 396.5h0.2v1h-0.2zM174.4 397.5h1v1h-1zM248.6 397.5h0.3v1h-0.3zM174.6 398.5h1v1h-1zM248.9 398.5h0.2v1h-0.2zM174.1 399.5h1.3v1h-1.3zM248.4 399.5h0.2v1h-0.2zM173.4 400.5h1v2h-1zM247.6 400.5h0.3v1h-0.3zM247.9 401.5h0.2v1h-0.2zM173.4 402.5h1.2v2h-1.2zM248.4 402.5h0.2v2h-0.2zM173.6 404.5h1v1h-1zM248.6 404.5h0.3v3h-0.3zM173.4 405.5h1v1h-1zM173.9 406.5h1v1h-1zM174.1 407.5h1v1h-1zM249.1 407.5h0.3v1h-0.3zM174.6 408.5h1.3v1h-1.3zM248.6 408.5h0.3v1h-0.3zM174.4 409.5h1v1h-1zM248.4 409.5h0.2v1h-0.2zM174.1 410.5h1.3v1h-1.3zM247.4 410.5h0.2v1h-0.2zM173.9 411.5h1v1h-1zM248.6 411.5h0.3v1h-0.3zM173.9 412.5h1.2v1h-1.2zM248.9 412.5h0.2v1h-0.2zM173.6 413.5h1.3v1h-1.3zM173.4 414.5h1.2v1h-1.2zM248.9 414.5h0.2v1h-0.2zM173.1 415.5h1.3v1h-1.3zM249.1 415.5h0.3v2h-0.3zM173.4 416.5h1.2v1h-1.2zM173.6 417.5h1.3v1h-1.3zM249.9 417.5h0.2v1h-0.2zM174.1 418.5h1.3v2h-1.3zM249.4 418.5h0.2v1h-0.2zM173.9 420.5h1v1h-1zM247.6 420.5h0.3v1h-0.3zM173.6 421.5h1v1h-1zM247.4 421.5h0.2v1h-0.2zM173.4 422.5h1.2v1h-1.2zM248.4 422.5h0.2v1h-0.2zM173.9 423.5h1.2v1h-1.2zM249.1 423.5h0.3v1h-0.3zM174.1 424.5h1v1h-1zM249.4 424.5h0.2v1h-0.2zM174.4 425.5h1v1h-1zM248.4 425.5h0.2v1h-0.2zM174.1 426.5h1.3v1h-1.3zM247.9 426.5h0.2v1h-0.2zM174.1 427.5h1v1h-1zM248.9 427.5h0.2v1h-0.2zM173.6 428.5h1v1h-1zM248.4 428.5h0.2v1h-0.2zM173.6 429.5h1.3v1h-1.3zM248.6 429.5h0.3v1h-0.3zM174.1 430.5h1.3v1h-1.3zM247.6 430.5h0.3v1h-0.3zM173.9 431.5h1.2v1h-1.2zM249.1 431.5h0.3v1h-0.3zM174.1 432.5h1v2h-1zM248.6 432.5h0.3v1h-0.3zM248.9 433.5h0.2v1h-0.2zM174.9 434.5h1.2v1h-1.2zM247.9 434.5h0.2v2h-0.2zM174.6 435.5h1v1h-1zM174.4 436.5h1v1h-1zM248.6 436.5h0.3v1h-0.3zM173.6 437.5h1.3v1h-1.3zM249.6 437.5h0.3v1h-0.3zM174.4 438.5h1.2v2h-1.2zM249.9 438.5h0.2v1h-0.2zM248.9 439.5h0.2v1h-0.2zM175.1 440.5h1v1h-1zM174.4 441.5h1v1h-1zM174.4 442.5h1.2v1h-1.2zM248.1 442.5h0.3v1h-0.3zM173.6 443.5h1.3v1h-1.3zM248.9 443.5h0.2v2h-0.2zM173.9 444.5h1v1h-1zM173.9 445.5h1.2v1h-1.2zM174.1 446.5h1v1h-1zM248.6 446.5h0.3v2h-0.3zM174.4 447.5h1.2v1h-1.2zM174.4 448.5h1v2h-1zM249.6 448.5h0.3v1h-0.3zM250.4 449.5h0.2v1h-0.2zM173.9 450.5h1.2v1h-1.2zM173.9 451.5h1v1h-1zM249.4 451.5h0.2v1h-0.2zM174.1 452.5h1v2h-1zM248.6 452.5h0.3v1h-0.3zM248.4 453.5h0.2v4h-0.2zM173.9 454.5h1.2v2h-1.2zM173.9 456.5h1v1h-1zM173.6 457.5h1.3v1h-1.3zM248.9 457.5h0.2v2h-0.2zM173.9 458.5h1v1h-1zM174.4 459.5h1v1h-1zM249.4 459.5h0.2v1h-0.2zM174.1 460.5h1.3v2h-1.3zM249.1 460.5h0.3v1h-0.3zM248.9 461.5h0.2v1h-0.2zM173.9 462.5h1v1h-1zM248.4 462.5h0.2v3h-0.2zM174.1 463.5h1v1h-1zM174.1 464.5h1.3v1h-1.3z"/>
<line x1="42.5" y1="301" x2="299.5" y2="301" stroke="#444" stroke-width="0.8" />
<line x1="299.5" y1="301" x2="299.5" y2="465" stroke="#444" stroke-width="0.8" />
<line x1="42.5" y1="382.5" x2="299.5" y2="382.5" stroke="#111" stroke-width="1.1" />
<line x1="42.5" y1="301" x2="42.5" y2="465" stroke="#111" stroke-width="1.1" />
<line x1="42" y1="465" x2="299.5" y2="465" stroke="#111" stroke-width="1.6" />
<line x1="42.5" y1="308.4" x2="46.1" y2="308.4" stroke="#000" stroke-width="1.1" />
<line x1="42.5" y1="343.1" x2="46.1" y2="343.1" stroke="#000" stroke-width="1.1" />
<line x1="42.5" y1="381.2" x2="46.1" y2="381.2" stroke="#000" stroke-width="1.1" />
<line x1="42.5" y1="392" x2="46.1" y2="392" stroke="#000" stroke-width="1.1" />
<line x1="42.5" y1="427.5" x2="46.1" y2="427.5" stroke="#000" stroke-width="1.1" />
<line x1="42.5" y1="463.4" x2="46.1" y2="463.4" stroke="#000" stroke-width="1.1" />
<line x1="70.9" y1="465" x2="70.9" y2="461.6" stroke="#000" stroke-width="1.1" />
<line x1="142.38" y1="465" x2="142.38" y2="461.6" stroke="#000" stroke-width="1.1" />
<line x1="213.85" y1="465" x2="213.85" y2="461.6" stroke="#000" stroke-width="1.1" />
<line x1="285.33" y1="465" x2="285.33" y2="461.6" stroke="#000" stroke-width="1.1" />
<line x1="106.64" y1="465" x2="106.64" y2="462.8" stroke="#000" stroke-width="1.1" />
<line x1="178.11" y1="465" x2="178.11" y2="462.8" stroke="#000" stroke-width="1.1" />
<line x1="249.59" y1="465" x2="249.59" y2="462.8" stroke="#000" stroke-width="1.1" />
<text x="41" y="315.9" font-size="15" text-anchor="end" >890</text>
<text x="41" y="348.6" font-size="15" text-anchor="end" >900</text>
<text x="41" y="384.3" font-size="15" text-anchor="end" >910</text>
<text x="41" y="396.6" font-size="15" text-anchor="end" >890</text>
<text x="41" y="431" font-size="15" text-anchor="end" >900</text>
<text x="41" y="467.9" font-size="15" text-anchor="end" >910</text>
<text x="70.9" y="480" font-size="15" text-anchor="middle" >100</text>
<text x="142.38" y="480" font-size="15" text-anchor="middle" >150</text>
<text x="213.85" y="480" font-size="15" text-anchor="middle" >200</text>
<text x="285.33" y="480" font-size="15" text-anchor="middle" >250</text>
<text x="184.8" y="498.5" font-size="15.5" text-anchor="middle" >FFT frequency (cm<tspan font-size="10" dy="-5.5">-1</tspan><tspan dy="5.5">)</tspan></text>
<text x="3" y="319.6" font-size="23" font-weight="bold" >e</text>
<text transform="translate(12.8,380) rotate(-90)" font-size="15.5" text-anchor="middle" >λ<tspan font-size="10.5" dy="4">probe</tspan><tspan dy="-4"> (nm)</tspan></text>
<text x="294.5" y="317.2" font-size="15.6" text-anchor="end" >0.1-1.0 ps</text>
<text x="294.3" y="399.2" font-size="15.6" text-anchor="end" >1.0 -2.0 ps</text>
<rect x="384.5" y="301.8" width="255.1" height="4.67" fill="url(#gf0)" shape-rendering="crispEdges"/>
<rect x="384.5" y="305.87" width="255.1" height="4.67" fill="url(#gf1)" shape-rendering="crispEdges"/>
<rect x="384.5" y="309.94" width="255.1" height="4.67" fill="url(#gf2)" shape-rendering="crispEdges"/>
<rect x="384.5" y="314.01" width="255.1" height="4.67" fill="url(#gf3)" shape-rendering="crispEdges"/>
<rect x="384.5" y="318.08" width="255.1" height="4.67" fill="url(#gf4)" shape-rendering="crispEdges"/>
<rect x="384.5" y="322.15" width="255.1" height="4.67" fill="url(#gf5)" shape-rendering="crispEdges"/>
<rect x="384.5" y="326.22" width="255.1" height="4.67" fill="url(#gf6)" shape-rendering="crispEdges"/>
<rect x="384.5" y="330.29" width="255.1" height="4.67" fill="url(#gf7)" shape-rendering="crispEdges"/>
<rect x="384.5" y="334.36" width="255.1" height="4.67" fill="url(#gf8)" shape-rendering="crispEdges"/>
<rect x="384.5" y="338.43" width="255.1" height="4.67" fill="url(#gf9)" shape-rendering="crispEdges"/>
<rect x="384.5" y="342.5" width="255.1" height="4.67" fill="url(#gf10)" shape-rendering="crispEdges"/>
<rect x="384.5" y="346.57" width="255.1" height="4.67" fill="url(#gf11)" shape-rendering="crispEdges"/>
<rect x="384.5" y="350.64" width="255.1" height="4.67" fill="url(#gf12)" shape-rendering="crispEdges"/>
<rect x="384.5" y="354.71" width="255.1" height="4.67" fill="url(#gf13)" shape-rendering="crispEdges"/>
<rect x="384.5" y="358.78" width="255.1" height="4.67" fill="url(#gf14)" shape-rendering="crispEdges"/>
<rect x="384.5" y="362.85" width="255.1" height="4.67" fill="url(#gf15)" shape-rendering="crispEdges"/>
<rect x="384.5" y="366.92" width="255.1" height="4.67" fill="url(#gf16)" shape-rendering="crispEdges"/>
<rect x="384.5" y="370.99" width="255.1" height="4.67" fill="url(#gf17)" shape-rendering="crispEdges"/>
<rect x="384.5" y="375.06" width="255.1" height="4.67" fill="url(#gf18)" shape-rendering="crispEdges"/>
<rect x="384.5" y="379.13" width="255.1" height="4.67" fill="url(#gf19)" shape-rendering="crispEdges"/>
<rect x="384.5" y="383.2" width="255.1" height="80.8" fill="url(#gfb)"/>
<path fill="#3c2ca8" shape-rendering="crispEdges" d="M384.5 383.2h20.4v48h-20.4z"/>
<path fill="#4343b3" shape-rendering="crispEdges" d="M404.9 383.2h3.7v1h-3.7zM404.9 384.2h4v2h-4zM404.9 386.2h4.5v2h-4.5zM404.9 388.2h4.7v1h-4.7zM404.9 389.2h4.2v1h-4.2zM404.9 390.2h4.5v1h-4.5zM404.9 391.2h3.7v1h-3.7zM404.9 392.2h5.5v1h-5.5zM404.9 393.2h5.2v1h-5.2zM404.9 394.2h5.7v2h-5.7zM404.9 396.2h5.5v1h-5.5zM404.9 397.2h6v1h-6zM404.9 398.2h5.5v1h-5.5zM404.9 399.2h5.7v1h-5.7zM404.9 400.2h6v1h-6zM404.9 401.2h5.5v1h-5.5zM404.9 402.2h5v1h-5zM404.9 403.2h4.7v1h-4.7zM404.9 404.2h5v1h-5zM404.9 405.2h4.2v1h-4.2zM404.9 406.2h5v1h-5zM404.9 407.2h4.2v2h-4.2zM404.9 409.2h3v1h-3zM404.9 410.2h4v1h-4zM404.9 411.2h5.5v1h-5.5zM404.9 412.2h6v1h-6zM404.9 413.2h5.5v1h-5.5zM404.9 414.2h5v3h-5zM404.9 417.2h4.5v1h-4.5zM404.9 418.2h5v2h-5zM404.9 420.2h4.5v1h-4.5zM404.9 421.2h4.2v2h-4.2zM404.9 423.2h5.2v1h-5.2zM404.9 424.2h5v1h-5zM404.9 425.2h4.5v1h-4.5zM404.9 426.2h4v1h-4zM404.9 427.2h4.5v1h-4.5zM404.9 428.2h4.7v2h-4.7zM404.9 430.2h5v1h-5zM384.5 431.2h25.4v2h-25.4zM384.5 433.2h24.9v1h-24.9zM384.5 434.2h25.1v1h-25.1zM384.5 435.2h25.9v1h-25.9zM384.5 436.2h25.6v1h-25.6zM384.5 437.2h24.9v1h-24.9zM384.5 438.2h24.6v1h-24.6zM384.5 439.2h25.1v3h-25.1zM384.5 442.2h24.9v1h-24.9zM384.5 443.2h25.6v3h-25.6zM384.5 446.2h25.1v1h-25.1zM384.5 447.2h24.9v1h-24.9zM384.5 448.2h25.4v1h-25.4zM384.5 449.2h25.1v1h-25.1zM384.5 450.2h25.9v1h-25.9zM384.5 451.2h25.1v1h-25.1zM384.5 452.2h26.6v1h-26.6zM384.5 453.2h25.4v1h-25.4zM384.5 454.2h26.6v1h-26.6zM384.5 455.2h25.1v1h-25.1zM384.5 456.2h25.6v1h-25.6zM384.5 457.2h25.1v2h-25.1zM384.5 459.2h26.1v2h-26.1zM384.5 461.2h25.9v1h-25.9zM384.5 462.2h25.4v1h-25.4zM384.5 463.2h25.6v1h-25.6z"/>
<path fill="#4b5cc4" shape-rendering="crispEdges" d="M408.6 383.2h9.5v1h-9.5zM628.9 383.2h10.7v1h-10.7zM408.9 384.2h9.2v1h-9.2zM625.4 384.2h14.2v1h-14.2zM408.9 385.2h9.5v1h-9.5zM626.4 385.2h13.2v1h-13.2zM409.4 386.2h8.5v1h-8.5zM625.1 386.2h14.5v1h-14.5zM409.4 387.2h8v1h-8zM625.9 387.2h13.7v1h-13.7zM409.6 388.2h7.5v1h-7.5zM626.4 388.2h13.2v1h-13.2zM409.1 389.2h8.3v1h-8.3zM628.9 389.2h10.7v1h-10.7zM409.4 390.2h9.2v1h-9.2zM629.6 390.2h10v1h-10zM408.6 391.2h10v1h-10zM629.1 391.2h10.5v1h-10.5zM410.4 392.2h8.5v1h-8.5zM626.4 392.2h13.2v1h-13.2zM410.1 393.2h8.5v1h-8.5zM625.9 393.2h13.7v1h-13.7zM410.6 394.2h8.5v2h-8.5zM624.9 394.2h14.7v1h-14.7zM627.1 395.2h12.5v1h-12.5zM410.4 396.2h8.5v1h-8.5zM626.6 396.2h13v1h-13zM410.9 397.2h8v1h-8zM630.1 397.2h9.5v1h-9.5zM410.4 398.2h8.2v1h-8.2zM626.9 398.2h12.7v1h-12.7zM410.6 399.2h7.8v1h-7.8zM626.6 399.2h13v1h-13zM410.9 400.2h7.7v1h-7.7zM624.1 400.2h15.5v1h-15.5zM410.4 401.2h7.7v1h-7.7zM625.9 401.2h13.7v1h-13.7zM409.9 402.2h7.5v1h-7.5zM627.6 402.2h12v1h-12zM409.6 403.2h7.5v1h-7.5zM627.1 403.2h12.5v1h-12.5zM409.9 404.2h8.2v1h-8.2zM625.1 404.2h14.5v1h-14.5zM409.1 405.2h9.3v1h-9.3zM624.4 405.2h15.2v1h-15.2zM409.9 406.2h9v1h-9zM625.6 406.2h14v1h-14zM409.1 407.2h9.5v1h-9.5zM627.6 407.2h12v1h-12zM409.1 408.2h9.3v1h-9.3zM625.9 408.2h13.7v1h-13.7zM407.9 409.2h9v1h-9zM626.9 409.2h12.7v1h-12.7zM408.9 410.2h8v1h-8zM626.4 410.2h13.2v1h-13.2zM410.4 411.2h6.5v1h-6.5zM628.6 411.2h11v1h-11zM410.9 412.2h6.5v1h-6.5zM627.9 412.2h11.7v1h-11.7zM410.4 413.2h7v1h-7zM627.1 413.2h12.5v1h-12.5zM409.9 414.2h7.7v1h-7.7zM627.6 414.2h12v1h-12zM409.9 415.2h8.5v1h-8.5zM628.6 415.2h11v1h-11zM409.9 416.2h8v1h-8zM630.1 416.2h9.5v1h-9.5zM409.4 417.2h8.5v1h-8.5zM628.4 417.2h11.2v1h-11.2zM409.9 418.2h7.7v1h-7.7zM626.4 418.2h13.2v1h-13.2zM409.9 419.2h8.5v1h-8.5zM626.1 419.2h13.5v1h-13.5zM409.4 420.2h9v1h-9zM626.9 420.2h12.7v1h-12.7zM409.1 421.2h8.8v1h-8.8zM628.4 421.2h11.2v1h-11.2zM409.1 422.2h8.5v1h-8.5zM627.6 422.2h12v1h-12zM410.1 423.2h7.5v1h-7.5zM627.1 423.2h12.5v1h-12.5zM409.9 424.2h8.2v1h-8.2zM626.6 424.2h13v1h-13zM409.4 425.2h8v1h-8zM627.6 425.2h12v2h-12zM408.9 426.2h9v1h-9zM409.4 427.2h8.2v1h-8.2zM626.4 427.2h13.2v1h-13.2zM409.6 428.2h9.3v1h-9.3zM625.9 428.2h13.7v1h-13.7zM409.6 429.2h8.5v1h-8.5zM626.1 429.2h13.5v1h-13.5zM409.9 430.2h8.5v1h-8.5zM628.1 430.2h11.5v1h-11.5zM409.9 431.2h7.7v1h-7.7zM628.6 431.2h11v1h-11zM409.9 432.2h8.2v1h-8.2zM629.9 432.2h9.7v1h-9.7zM409.4 433.2h9.7v1h-9.7zM629.6 433.2h10v1h-10zM409.6 434.2h9.3v1h-9.3zM630.1 434.2h9.5v1h-9.5zM410.4 435.2h9.2v1h-9.2zM629.1 435.2h10.5v1h-10.5zM410.1 436.2h8.8v1h-8.8zM628.6 436.2h11v1h-11zM409.4 437.2h9.5v1h-9.5zM628.1 437.2h11.5v1h-11.5zM409.1 438.2h9.3v1h-9.3zM627.1 438.2h12.5v1h-12.5zM409.6 439.2h9v1h-9zM628.1 439.2h11.5v1h-11.5zM409.6 440.2h9.5v1h-9.5zM627.9 440.2h11.7v1h-11.7zM409.6 441.2h8.5v1h-8.5zM629.6 441.2h10v1h-10zM409.4 442.2h8.7v1h-8.7zM627.6 442.2h12v1h-12zM410.1 443.2h7.5v1h-7.5zM628.6 443.2h11v1h-11zM410.1 444.2h7.8v1h-7.8zM628.4 444.2h11.2v1h-11.2zM410.1 445.2h7.5v1h-7.5zM630.4 445.2h9.2v1h-9.2zM409.6 446.2h8.3v1h-8.3zM630.6 446.2h9v1h-9zM409.4 447.2h9.2v1h-9.2zM629.1 447.2h10.5v1h-10.5zM409.9 448.2h9v1h-9zM626.9 448.2h12.7v1h-12.7zM409.6 449.2h8.5v1h-8.5zM625.9 449.2h13.7v1h-13.7zM410.4 450.2h7.5v1h-7.5zM627.4 450.2h12.2v1h-12.2zM409.6 451.2h8.3v1h-8.3zM627.6 451.2h12v1h-12zM411.1 452.2h7.5v1h-7.5zM629.1 452.2h10.5v1h-10.5zM409.9 453.2h7.5v1h-7.5zM628.4 453.2h11.2v1h-11.2zM411.1 454.2h6.3v1h-6.3zM627.9 454.2h11.7v1h-11.7zM409.6 455.2h7.5v1h-7.5zM626.4 455.2h13.2v1h-13.2zM410.1 456.2h8.3v1h-8.3zM626.9 456.2h12.7v1h-12.7zM409.6 457.2h8.8v1h-8.8zM627.6 457.2h12v1h-12zM409.6 458.2h9.3v1h-9.3zM628.6 458.2h11v2h-11zM410.6 459.2h7.8v1h-7.8zM410.6 460.2h6.8v1h-6.8zM627.4 460.2h12.2v1h-12.2zM410.4 461.2h7.2v1h-7.2zM625.1 461.2h14.5v1h-14.5zM409.9 462.2h8v1h-8zM623.9 462.2h15.7v1h-15.7zM410.1 463.2h8.3v1h-8.3zM624.4 463.2h15.2v1h-15.2z"/>
<path fill="#4a80c8" shape-rendering="crispEdges" d="M418.1 383.2h8.3v1h-8.3zM608.1 383.2h20.8v1h-20.8zM418.1 384.2h9v1h-9zM607.4 384.2h18v1h-18zM418.4 385.2h7.7v1h-7.7zM609.1 385.2h17.3v1h-17.3zM417.9 386.2h8.5v1h-8.5zM609.1 386.2h16v1h-16zM417.4 387.2h8.2v1h-8.2zM607.6 387.2h18.3v1h-18.3zM417.1 388.2h9.5v1h-9.5zM607.6 388.2h18.8v1h-18.8zM417.4 389.2h9.2v1h-9.2zM607.4 389.2h21.5v1h-21.5zM418.6 390.2h8.3v1h-8.3zM609.1 390.2h20.5v1h-20.5zM418.6 391.2h7.8v1h-7.8zM606.6 391.2h22.5v1h-22.5zM418.9 392.2h7.5v1h-7.5zM607.9 392.2h18.5v1h-18.5zM418.6 393.2h7.5v1h-7.5zM605.6 393.2h20.3v1h-20.3zM419.1 394.2h6v2h-6zM606.6 394.2h18.3v1h-18.3zM605.1 395.2h22v1h-22zM418.9 396.2h7.5v2h-7.5zM605.1 396.2h21.5v1h-21.5zM603.9 397.2h26.2v1h-26.2zM418.6 398.2h7.8v1h-7.8zM606.4 398.2h20.5v1h-20.5zM418.4 399.2h6.5v1h-6.5zM607.9 399.2h18.7v1h-18.7zM418.6 400.2h7v1h-7zM608.4 400.2h15.7v1h-15.7zM418.1 401.2h7v1h-7zM607.9 401.2h18v1h-18zM417.4 402.2h8.7v1h-8.7zM606.6 402.2h21v1h-21zM417.1 403.2h8.8v1h-8.8zM607.6 403.2h19.5v1h-19.5zM418.1 404.2h8.3v1h-8.3zM605.4 404.2h19.7v1h-19.7zM418.4 405.2h7.2v1h-7.2zM608.1 405.2h16.3v1h-16.3zM418.9 406.2h7.2v1h-7.2zM607.4 406.2h18.2v1h-18.2zM418.6 407.2h7.5v1h-7.5zM608.9 407.2h18.7v1h-18.7zM418.4 408.2h8v1h-8zM604.4 408.2h21.5v1h-21.5zM416.9 409.2h9.2v1h-9.2zM603.6 409.2h23.3v1h-23.3zM416.9 410.2h8.7v1h-8.7zM603.4 410.2h23v1h-23zM416.9 411.2h9v1h-9zM606.6 411.2h22v1h-22zM417.4 412.2h7.7v1h-7.7zM605.4 412.2h22.5v1h-22.5zM417.4 413.2h8.5v1h-8.5zM606.9 413.2h20.2v1h-20.2zM417.6 414.2h8.3v1h-8.3zM605.9 414.2h21.7v1h-21.7zM418.4 415.2h8v1h-8zM607.4 415.2h21.2v1h-21.2zM417.9 416.2h8.5v1h-8.5zM604.9 416.2h25.2v1h-25.2zM417.9 417.2h8.2v1h-8.2zM607.6 417.2h20.8v1h-20.8zM417.6 418.2h9v1h-9zM606.6 418.2h19.8v1h-19.8zM418.4 419.2h8.5v2h-8.5zM607.4 419.2h18.7v1h-18.7zM605.6 420.2h21.3v1h-21.3zM417.9 421.2h8.7v1h-8.7zM609.1 421.2h19.3v1h-19.3zM417.6 422.2h8.8v1h-8.8zM609.1 422.2h18.5v1h-18.5zM417.6 423.2h9v1h-9zM607.9 423.2h19.2v1h-19.2zM418.1 424.2h8.5v1h-8.5zM605.4 424.2h21.2v1h-21.2zM417.4 425.2h8.7v1h-8.7zM605.9 425.2h21.7v1h-21.7zM417.9 426.2h9v1h-9zM607.1 426.2h20.5v1h-20.5zM417.6 427.2h9.3v1h-9.3zM607.9 427.2h18.5v1h-18.5zM418.9 428.2h8.5v1h-8.5zM606.9 428.2h19v1h-19zM418.1 429.2h8.8v1h-8.8zM606.6 429.2h19.5v1h-19.5zM418.4 430.2h7.7v1h-7.7zM606.9 430.2h21.2v1h-21.2zM417.6 431.2h8.8v1h-8.8zM607.6 431.2h21v1h-21zM418.1 432.2h8.3v1h-8.3zM608.9 432.2h21v1h-21zM419.1 433.2h8v1h-8zM610.4 433.2h19.2v1h-19.2zM418.9 434.2h8.5v1h-8.5zM608.6 434.2h21.5v1h-21.5zM419.6 435.2h7.5v1h-7.5zM608.6 435.2h20.5v1h-20.5zM418.9 436.2h8.2v2h-8.2zM608.1 436.2h20.5v1h-20.5zM612.4 437.2h15.7v1h-15.7zM418.4 438.2h9v1h-9zM612.9 438.2h14.2v1h-14.2zM418.6 439.2h8.5v1h-8.5zM614.1 439.2h14v1h-14zM419.1 440.2h8.3v1h-8.3zM614.1 440.2h13.8v1h-13.8zM418.1 441.2h9.3v1h-9.3zM612.1 441.2h17.5v1h-17.5zM418.1 442.2h9.5v1h-9.5zM609.9 442.2h17.7v1h-17.7zM417.6 443.2h9.8v1h-9.8zM607.9 443.2h20.7v1h-20.7zM417.9 444.2h9.5v1h-9.5zM609.6 444.2h18.8v1h-18.8zM417.6 445.2h10.5v1h-10.5zM609.6 445.2h20.8v1h-20.8zM417.9 446.2h11v1h-11zM609.4 446.2h21.2v1h-21.2zM418.6 447.2h9.8v1h-9.8zM609.4 447.2h19.7v1h-19.7zM418.9 448.2h9v1h-9zM611.4 448.2h15.5v1h-15.5zM418.1 449.2h9v1h-9zM612.4 449.2h13.5v1h-13.5zM417.9 450.2h9.7v1h-9.7zM611.1 450.2h16.3v1h-16.3zM417.9 451.2h10v1h-10zM608.9 451.2h18.7v1h-18.7zM418.6 452.2h9.8v1h-9.8zM608.6 452.2h20.5v1h-20.5zM417.4 453.2h11.2v1h-11.2zM609.1 453.2h19.3v1h-19.3zM417.4 454.2h11.5v1h-11.5zM610.1 454.2h17.8v1h-17.8zM417.1 455.2h11.8v1h-11.8zM611.1 455.2h15.3v1h-15.3zM418.4 456.2h10.2v1h-10.2zM611.4 456.2h15.5v1h-15.5zM418.4 457.2h9.7v1h-9.7zM609.1 457.2h18.5v1h-18.5zM418.9 458.2h9v1h-9zM609.4 458.2h19.2v1h-19.2zM418.4 459.2h9.5v1h-9.5zM612.4 459.2h16.2v1h-16.2zM417.4 460.2h10.5v1h-10.5zM613.6 460.2h13.8v1h-13.8zM417.6 461.2h11v1h-11zM611.1 461.2h14v1h-14zM417.9 462.2h11.2v1h-11.2zM609.4 462.2h14.5v1h-14.5zM418.4 463.2h9.7v1h-9.7zM612.1 463.2h12.3v1h-12.3z"/>
<path fill="#3ba5c5" shape-rendering="crispEdges" d="M426.4 383.2h4.7v1h-4.7zM492.4 383.2h10.5v1h-10.5zM597.9 383.2h10.2v1h-10.2zM427.1 384.2h4.8v1h-4.8zM491.9 384.2h11v1h-11zM598.9 384.2h8.5v1h-8.5zM426.1 385.2h6v1h-6zM491.1 385.2h11.3v1h-11.3zM599.4 385.2h9.7v1h-9.7zM426.4 386.2h5.7v1h-5.7zM490.4 386.2h12.2v1h-12.2zM597.6 386.2h11.5v1h-11.5zM425.6 387.2h5.8v1h-5.8zM490.9 387.2h11.7v1h-11.7zM594.6 387.2h13v1h-13zM426.6 388.2h4.8v1h-4.8zM491.6 388.2h11.3v1h-11.3zM593.9 388.2h13.7v1h-13.7zM426.6 389.2h4.5v1h-4.5zM490.6 389.2h12v2h-12zM595.6 389.2h11.8v1h-11.8zM426.9 390.2h4v1h-4zM596.1 390.2h13v1h-13zM426.4 391.2h5v1h-5zM490.1 391.2h12.3v1h-12.3zM596.9 391.2h9.7v1h-9.7zM426.4 392.2h6.7v1h-6.7zM491.9 392.2h10.2v1h-10.2zM595.9 392.2h12v1h-12zM426.1 393.2h5.8v1h-5.8zM491.1 393.2h11.3v1h-11.3zM595.9 393.2h9.7v1h-9.7zM425.1 394.2h8v1h-8zM490.9 394.2h12v1h-12zM595.4 394.2h11.2v1h-11.2zM425.1 395.2h7v1h-7zM490.6 395.2h12.8v1h-12.8zM597.1 395.2h8v1h-8zM426.4 396.2h8v1h-8zM490.1 396.2h13v1h-13zM597.9 396.2h7.2v1h-7.2zM426.4 397.2h5.2v1h-5.2zM491.4 397.2h11.5v1h-11.5zM597.1 397.2h6.8v1h-6.8zM426.4 398.2h6.2v1h-6.2zM490.4 398.2h12.2v1h-12.2zM595.6 398.2h10.8v1h-10.8zM424.9 399.2h7.2v1h-7.2zM491.6 399.2h11v1h-11zM596.1 399.2h11.8v1h-11.8zM425.6 400.2h7.5v1h-7.5zM489.9 400.2h12.2v1h-12.2zM597.1 400.2h11.3v1h-11.3zM425.1 401.2h7.5v1h-7.5zM490.4 401.2h11.7v1h-11.7zM598.9 401.2h9v1h-9zM426.1 402.2h6.3v1h-6.3zM489.6 402.2h12.5v1h-12.5zM597.9 402.2h8.7v1h-8.7zM425.9 403.2h7.2v1h-7.2zM491.4 403.2h10.7v1h-10.7zM598.1 403.2h9.5v1h-9.5zM426.4 404.2h6.2v1h-6.2zM490.9 404.2h11.7v1h-11.7zM596.1 404.2h9.3v1h-9.3zM425.6 405.2h7v1h-7zM491.1 405.2h11v1h-11zM595.9 405.2h12.2v1h-12.2zM426.1 406.2h5.8v1h-5.8zM489.6 406.2h13v1h-13zM595.6 406.2h11.8v1h-11.8zM426.1 407.2h5.3v1h-5.3zM490.1 407.2h12.8v1h-12.8zM596.1 407.2h12.8v1h-12.8zM426.4 408.2h5.2v1h-5.2zM490.4 408.2h12.5v1h-12.5zM597.1 408.2h7.3v1h-7.3zM426.1 409.2h5.8v1h-5.8zM491.6 409.2h11v1h-11zM597.1 409.2h6.5v1h-6.5zM425.6 410.2h7.3v1h-7.3zM492.1 410.2h10.5v1h-10.5zM597.1 410.2h6.3v1h-6.3zM425.9 411.2h6v1h-6zM491.1 411.2h11.5v1h-11.5zM595.4 411.2h11.2v1h-11.2zM425.1 412.2h6.5v1h-6.5zM491.4 412.2h10.7v1h-10.7zM595.6 412.2h9.8v1h-9.8zM425.9 413.2h6v1h-6zM491.1 413.2h11.3v1h-11.3zM595.6 413.2h11.3v1h-11.3zM425.9 414.2h7v1h-7zM492.9 414.2h9.7v1h-9.7zM596.6 414.2h9.3v1h-9.3zM426.4 415.2h7v1h-7zM491.4 415.2h11.5v1h-11.5zM595.9 415.2h11.5v1h-11.5zM426.4 416.2h6.2v1h-6.2zM491.9 416.2h10.5v1h-10.5zM595.9 416.2h9v1h-9zM426.1 417.2h7.3v1h-7.3zM491.1 417.2h11.5v2h-11.5zM596.6 417.2h11v1h-11zM426.6 418.2h7.3v1h-7.3zM598.1 418.2h8.5v1h-8.5zM426.9 419.2h8.7v1h-8.7zM490.6 419.2h12.5v1h-12.5zM598.1 419.2h9.3v1h-9.3zM426.9 420.2h8.2v1h-8.2zM490.1 420.2h13v1h-13zM598.6 420.2h7v1h-7zM426.6 421.2h9v1h-9zM490.6 421.2h12.5v1h-12.5zM597.6 421.2h11.5v2h-11.5zM426.4 422.2h9.2v1h-9.2zM490.9 422.2h12.5v1h-12.5zM426.6 423.2h9.5v1h-9.5zM491.9 423.2h11v1h-11zM595.1 423.2h12.8v1h-12.8zM426.6 424.2h8.8v1h-8.8zM492.4 424.2h10.7v1h-10.7zM595.4 424.2h10v1h-10zM426.1 425.2h9v1h-9zM492.6 425.2h10.3v2h-10.3zM594.9 425.2h11v1h-11zM426.9 426.2h7.7v1h-7.7zM597.6 426.2h9.5v1h-9.5zM426.9 427.2h7v1h-7zM492.4 427.2h10v1h-10zM598.6 427.2h9.3v1h-9.3zM427.4 428.2h6.2v1h-6.2zM491.9 428.2h10.7v1h-10.7zM599.4 428.2h7.5v1h-7.5zM426.9 429.2h6.5v1h-6.5zM492.4 429.2h10.7v1h-10.7zM597.1 429.2h9.5v1h-9.5zM426.1 430.2h7.5v1h-7.5zM491.6 430.2h11v1h-11zM596.1 430.2h10.8v1h-10.8zM426.4 431.2h5.5v1h-5.5zM490.4 431.2h12v1h-12zM595.4 431.2h12.2v1h-12.2zM426.4 432.2h5v1h-5zM489.4 432.2h13v1h-13zM595.1 432.2h13.8v1h-13.8zM427.1 433.2h4.3v1h-4.3zM488.9 433.2h14v1h-14zM594.9 433.2h15.5v1h-15.5zM427.4 434.2h6.5v1h-6.5zM489.6 434.2h13.5v1h-13.5zM595.4 434.2h13.2v1h-13.2zM427.1 435.2h5.8v2h-5.8zM490.1 435.2h12.3v1h-12.3zM596.1 435.2h12.5v1h-12.5zM490.6 436.2h11.5v1h-11.5zM595.9 436.2h12.2v1h-12.2zM427.1 437.2h6.3v1h-6.3zM491.4 437.2h10.7v1h-10.7zM596.6 437.2h15.8v1h-15.8zM427.4 438.2h5.7v1h-5.7zM490.9 438.2h11.5v1h-11.5zM597.1 438.2h15.8v1h-15.8zM427.1 439.2h6.5v1h-6.5zM490.4 439.2h11.2v1h-11.2zM597.6 439.2h16.5v1h-16.5zM427.4 440.2h4.5v1h-4.5zM490.6 440.2h11v1h-11zM595.4 440.2h18.7v1h-18.7zM427.4 441.2h5v1h-5zM491.6 441.2h10.8v1h-10.8zM595.9 441.2h16.2v1h-16.2zM427.6 442.2h5v1h-5zM492.6 442.2h10v1h-10zM595.6 442.2h14.3v1h-14.3zM427.4 443.2h5.2v1h-5.2zM492.1 443.2h10.3v1h-10.3zM596.1 443.2h11.8v1h-11.8zM427.4 444.2h4.5v1h-4.5zM493.1 444.2h9.5v1h-9.5zM595.1 444.2h14.5v1h-14.5zM428.1 445.2h3.3v1h-3.3zM491.9 445.2h11.5v1h-11.5zM596.1 445.2h13.5v1h-13.5zM428.9 446.2h2.2v1h-2.2zM491.1 446.2h12.5v1h-12.5zM595.1 446.2h14.3v1h-14.3zM428.4 447.2h5.7v1h-5.7zM489.4 447.2h13v1h-13zM594.9 447.2h14.5v1h-14.5zM427.9 448.2h6.7v1h-6.7zM489.1 448.2h12.8v1h-12.8zM594.6 448.2h16.8v1h-16.8zM427.1 449.2h7.8v1h-7.8zM490.4 449.2h11.7v1h-11.7zM596.1 449.2h16.3v1h-16.3zM427.6 450.2h6.5v1h-6.5zM490.4 450.2h13.5v1h-13.5zM597.1 450.2h14v1h-14zM427.9 451.2h7.7v1h-7.7zM490.4 451.2h13.7v1h-13.7zM596.4 451.2h12.5v1h-12.5zM428.4 452.2h7.2v1h-7.2zM490.1 452.2h14v1h-14zM596.4 452.2h12.2v1h-12.2zM428.6 453.2h6v1h-6zM490.6 453.2h12.5v1h-12.5zM595.6 453.2h13.5v1h-13.5zM428.9 454.2h4.2v1h-4.2zM491.4 454.2h11v1h-11zM595.4 454.2h14.7v1h-14.7zM428.9 455.2h5.5v1h-5.5zM490.9 455.2h11v1h-11zM594.9 455.2h16.2v1h-16.2zM428.6 456.2h6.5v1h-6.5zM489.9 456.2h11.7v1h-11.7zM595.1 456.2h16.3v1h-16.3zM428.1 457.2h6v1h-6zM489.9 457.2h12v1h-12zM595.9 457.2h13.2v1h-13.2zM427.9 458.2h6.2v1h-6.2zM489.4 458.2h13v1h-13zM595.9 458.2h13.5v1h-13.5zM427.9 459.2h5.5v1h-5.5zM489.6 459.2h13v1h-13zM595.9 459.2h16.5v1h-16.5zM427.9 460.2h6v1h-6zM489.4 460.2h12.7v1h-12.7zM594.6 460.2h19v1h-19zM428.6 461.2h6v1h-6zM490.1 461.2h11.8v1h-11.8zM595.9 461.2h15.2v1h-15.2zM429.1 462.2h5.8v1h-5.8zM491.1 462.2h11v1h-11zM595.6 462.2h13.8v1h-13.8zM428.1 463.2h7.8v1h-7.8zM492.1 463.2h11v1h-11zM596.6 463.2h15.5v1h-15.5z"/>
<path fill="#58b0a0" shape-rendering="crispEdges" d="M431.1 383.2h11.5v1h-11.5zM476.6 383.2h15.8v1h-15.8zM502.9 383.2h4v2h-4zM589.6 383.2h8.3v1h-8.3zM431.9 384.2h10.5v1h-10.5zM474.6 384.2h17.3v1h-17.3zM589.1 384.2h9.8v1h-9.8zM432.1 385.2h11.8v1h-11.8zM473.9 385.2h17.2v1h-17.2zM502.4 385.2h4v1h-4zM589.6 385.2h9.8v1h-9.8zM432.1 386.2h11v1h-11zM472.1 386.2h18.3v1h-18.3zM502.6 386.2h4v2h-4zM590.6 386.2h7v1h-7zM431.4 387.2h11v1h-11zM472.1 387.2h18.8v1h-18.8zM591.1 387.2h3.5v1h-3.5zM431.4 388.2h10v1h-10zM470.9 388.2h20.7v1h-20.7zM502.9 388.2h4.2v1h-4.2zM591.6 388.2h2.3v1h-2.3zM431.1 389.2h9.5v1h-9.5zM471.9 389.2h18.7v1h-18.7zM502.6 389.2h4.3v1h-4.3zM591.6 389.2h4v1h-4zM430.9 390.2h10.2v1h-10.2zM472.6 390.2h18v1h-18zM502.6 390.2h4v1h-4zM592.1 390.2h4v1h-4zM431.4 391.2h11.2v1h-11.2zM473.4 391.2h16.7v1h-16.7zM502.4 391.2h4v1h-4zM590.9 391.2h6v1h-6zM433.1 392.2h11v1h-11zM471.6 392.2h20.3v1h-20.3zM502.1 392.2h4.3v1h-4.3zM590.4 392.2h5.5v1h-5.5zM431.9 393.2h14.7v1h-14.7zM472.4 393.2h18.7v1h-18.7zM502.4 393.2h4v1h-4zM589.9 393.2h6v1h-6zM433.1 394.2h13.8v1h-13.8zM472.6 394.2h18.3v1h-18.3zM502.9 394.2h4v1h-4zM590.1 394.2h5.3v1h-5.3zM432.1 395.2h14.5v1h-14.5zM475.1 395.2h15.5v1h-15.5zM503.4 395.2h4v1h-4zM590.6 395.2h6.5v1h-6.5zM434.4 396.2h9.2v1h-9.2zM473.1 396.2h17v1h-17zM503.1 396.2h4.3v1h-4.3zM590.9 396.2h7v1h-7zM431.6 397.2h9.8v1h-9.8zM472.9 397.2h18.5v1h-18.5zM502.9 397.2h4.2v1h-4.2zM592.1 397.2h5v1h-5zM432.6 398.2h7.3v1h-7.3zM471.9 398.2h18.5v1h-18.5zM502.6 398.2h4v2h-4zM591.9 398.2h3.7v1h-3.7zM432.1 399.2h7.5v1h-7.5zM474.4 399.2h17.2v1h-17.2zM591.1 399.2h5v1h-5zM433.1 400.2h6.3v1h-6.3zM473.1 400.2h16.8v1h-16.8zM502.1 400.2h4.3v1h-4.3zM590.4 400.2h6.7v1h-6.7zM432.6 401.2h6.5v1h-6.5zM474.4 401.2h16v1h-16zM502.1 401.2h4v2h-4zM591.6 401.2h7.3v1h-7.3zM432.4 402.2h7.5v1h-7.5zM472.6 402.2h17v1h-17zM593.1 402.2h4.8v1h-4.8zM433.1 403.2h7.5v1h-7.5zM474.9 403.2h16.5v1h-16.5zM502.1 403.2h4.3v1h-4.3zM592.4 403.2h5.7v1h-5.7zM432.6 404.2h9v2h-9zM473.1 404.2h17.8v1h-17.8zM502.6 404.2h4v1h-4zM592.1 404.2h4v1h-4zM471.4 405.2h19.7v1h-19.7zM502.1 405.2h4v1h-4zM590.1 405.2h5.8v1h-5.8zM431.9 406.2h10v1h-10zM471.6 406.2h18v1h-18zM502.6 406.2h4.3v1h-4.3zM590.6 406.2h5v1h-5zM431.4 407.2h10.7v1h-10.7zM471.9 407.2h18.2v1h-18.2zM502.9 407.2h4.2v2h-4.2zM589.9 407.2h6.2v1h-6.2zM431.6 408.2h10v1h-10zM474.1 408.2h16.3v1h-16.3zM590.4 408.2h6.7v1h-6.7zM431.9 409.2h9.2v1h-9.2zM473.9 409.2h17.7v1h-17.7zM502.6 409.2h4.3v1h-4.3zM589.9 409.2h7.2v1h-7.2zM432.9 410.2h8.5v1h-8.5zM472.4 410.2h19.7v1h-19.7zM502.6 410.2h4v2h-4zM590.9 410.2h6.2v1h-6.2zM431.9 411.2h10.2v1h-10.2zM471.1 411.2h20v1h-20zM591.9 411.2h3.5v1h-3.5zM431.6 412.2h9.3v1h-9.3zM470.1 412.2h21.3v1h-21.3zM502.1 412.2h4v1h-4zM592.9 412.2h2.7v1h-2.7zM431.9 413.2h7.7v1h-7.7zM472.6 413.2h18.5v1h-18.5zM502.4 413.2h4.2v1h-4.2zM591.6 413.2h4v1h-4zM432.9 414.2h7.2v1h-7.2zM473.9 414.2h19v1h-19zM502.6 414.2h4v1h-4zM592.1 414.2h4.5v1h-4.5zM433.4 415.2h8.5v1h-8.5zM474.9 415.2h16.5v1h-16.5zM502.9 415.2h4.2v1h-4.2zM592.4 415.2h3.5v1h-3.5zM432.6 416.2h10v1h-10zM474.1 416.2h17.8v1h-17.8zM502.4 416.2h4.2v1h-4.2zM592.6 416.2h3.3v1h-3.3zM433.4 417.2h6.7v1h-6.7zM474.9 417.2h16.2v1h-16.2zM502.6 417.2h4.3v2h-4.3zM592.4 417.2h4.2v1h-4.2zM433.9 418.2h6v1h-6zM474.1 418.2h17v1h-17zM592.1 418.2h6v1h-6zM435.6 419.2h1.5v1h-1.5zM474.1 419.2h16.5v1h-16.5zM503.1 419.2h4v2h-4zM592.6 419.2h5.5v1h-5.5zM435.1 420.2h4v1h-4zM472.1 420.2h18v1h-18zM592.4 420.2h6.2v1h-6.2zM435.6 421.2h2.3v1h-2.3zM470.6 421.2h20v1h-20zM503.1 421.2h4.3v1h-4.3zM592.6 421.2h5v1h-5zM435.6 422.2h5.3v1h-5.3zM470.4 422.2h20.5v1h-20.5zM503.4 422.2h4v1h-4zM592.1 422.2h5.5v1h-5.5zM436.1 423.2h3.8v1h-3.8zM470.9 423.2h21v1h-21zM502.9 423.2h4.2v1h-4.2zM591.1 423.2h4v1h-4zM435.4 424.2h6v1h-6zM472.1 424.2h20.3v1h-20.3zM503.1 424.2h4.3v1h-4.3zM590.1 424.2h5.3v1h-5.3zM435.1 425.2h5.3v1h-5.3zM474.1 425.2h18.5v1h-18.5zM502.9 425.2h4v2h-4zM590.4 425.2h4.5v1h-4.5zM434.6 426.2h6.5v1h-6.5zM473.9 426.2h18.7v1h-18.7zM590.9 426.2h6.7v1h-6.7zM433.9 427.2h6v1h-6zM473.9 427.2h18.5v1h-18.5zM502.4 427.2h4v1h-4zM591.6 427.2h7v1h-7zM433.6 428.2h7v1h-7zM469.6 428.2h22.3v1h-22.3zM502.6 428.2h4.3v1h-4.3zM590.4 428.2h9v1h-9zM433.4 429.2h7v1h-7zM468.6 429.2h23.8v1h-23.8zM503.1 429.2h4v1h-4zM590.4 429.2h6.7v1h-6.7zM433.6 430.2h10.3v1h-10.3zM468.1 430.2h23.5v1h-23.5zM502.6 430.2h4.3v1h-4.3zM589.9 430.2h6.2v1h-6.2zM431.9 431.2h11.2v1h-11.2zM469.6 431.2h20.8v1h-20.8zM502.4 431.2h4v1h-4zM591.9 431.2h3.5v1h-3.5zM431.4 432.2h12.5v1h-12.5zM469.4 432.2h20v1h-20zM502.4 432.2h4.2v1h-4.2zM591.9 432.2h3.2v1h-3.2zM431.4 433.2h10.5v1h-10.5zM469.4 433.2h19.5v1h-19.5zM502.9 433.2h4v1h-4zM591.6 433.2h3.3v1h-3.3zM433.9 434.2h9.7v1h-9.7zM467.6 434.2h22v1h-22zM503.1 434.2h4v1h-4zM590.9 434.2h4.5v1h-4.5zM432.9 435.2h12v1h-12zM468.6 435.2h21.5v1h-21.5zM502.4 435.2h4v1h-4zM591.9 435.2h4.2v1h-4.2zM432.9 436.2h13v1h-13zM469.1 436.2h21.5v1h-21.5zM502.1 436.2h4.3v2h-4.3zM593.4 436.2h2.5v1h-2.5zM433.4 437.2h12.2v1h-12.2zM468.6 437.2h22.8v1h-22.8zM592.6 437.2h4v1h-4zM433.1 438.2h10.5v1h-10.5zM465.4 438.2h25.5v1h-25.5zM502.4 438.2h4v1h-4zM592.9 438.2h4.2v1h-4.2zM433.6 439.2h9v1h-9zM463.4 439.2h27v1h-27zM501.6 439.2h4.3v2h-4.3zM590.6 439.2h7v1h-7zM431.9 440.2h11v1h-11zM464.4 440.2h26.2v1h-26.2zM592.1 440.2h3.3v1h-3.3zM432.4 441.2h10.5v1h-10.5zM465.1 441.2h26.5v1h-26.5zM502.4 441.2h4v1h-4zM591.9 441.2h4v1h-4zM432.6 442.2h11v1h-11zM465.9 442.2h26.7v1h-26.7zM502.6 442.2h4v1h-4zM593.4 442.2h2.2v1h-2.2zM432.6 443.2h8.8v1h-8.8zM466.4 443.2h25.7v1h-25.7zM502.4 443.2h4v1h-4zM591.6 443.2h4.5v1h-4.5zM431.9 444.2h10v1h-10zM468.4 444.2h24.7v1h-24.7zM502.6 444.2h4v1h-4zM590.4 444.2h4.7v1h-4.7zM431.4 445.2h11.2v1h-11.2zM469.1 445.2h22.8v1h-22.8zM503.4 445.2h4.2v1h-4.2zM590.6 445.2h5.5v1h-5.5zM431.1 446.2h12.8v1h-12.8zM466.6 446.2h24.5v1h-24.5zM503.6 446.2h4v1h-4zM592.1 446.2h3v1h-3zM434.1 447.2h9v1h-9zM463.1 447.2h26.3v1h-26.3zM502.4 447.2h4.2v1h-4.2zM593.1 447.2h1.8v1h-1.8zM434.6 448.2h8.8v1h-8.8zM462.4 448.2h26.7v1h-26.7zM501.9 448.2h4.2v1h-4.2zM592.1 448.2h2.5v1h-2.5zM434.9 449.2h8.7v1h-8.7zM463.1 449.2h27.3v1h-27.3zM502.1 449.2h4.3v1h-4.3zM592.1 449.2h4v1h-4zM434.1 450.2h8.8v1h-8.8zM464.4 450.2h26v1h-26zM503.9 450.2h4v1h-4zM591.9 450.2h5.2v1h-5.2zM435.6 451.2h5.8v1h-5.8zM462.4 451.2h28v1h-28zM504.1 451.2h4v2h-4zM591.4 451.2h5v1h-5zM435.6 452.2h5.5v1h-5.5zM462.4 452.2h27.7v1h-27.7zM591.9 452.2h4.5v1h-4.5zM434.6 453.2h8.3v1h-8.3zM463.6 453.2h27v1h-27zM503.1 453.2h4v1h-4zM592.9 453.2h2.7v1h-2.7zM433.1 454.2h11v1h-11zM463.1 454.2h28.3v1h-28.3zM502.4 454.2h4v1h-4zM592.6 454.2h2.8v1h-2.8zM434.4 455.2h11v1h-11zM462.4 455.2h28.5v1h-28.5zM501.9 455.2h4v1h-4zM591.6 455.2h3.3v1h-3.3zM435.1 456.2h10.8v1h-10.8zM462.6 456.2h27.3v1h-27.3zM501.6 456.2h4v1h-4zM589.9 456.2h5.2v1h-5.2zM434.1 457.2h11.5v1h-11.5zM464.9 457.2h25v1h-25zM501.9 457.2h4v1h-4zM589.9 457.2h6v1h-6zM434.1 458.2h12v1h-12zM464.4 458.2h25v1h-25zM502.4 458.2h4v1h-4zM590.6 458.2h5.3v1h-5.3zM433.4 459.2h14.2v1h-14.2zM461.1 459.2h28.5v1h-28.5zM502.6 459.2h4.3v1h-4.3zM591.4 459.2h4.5v1h-4.5zM433.9 460.2h13.7v1h-13.7zM460.6 460.2h28.8v1h-28.8zM502.1 460.2h4.3v1h-4.3zM592.1 460.2h2.5v1h-2.5zM434.6 461.2h13.3v1h-13.3zM463.1 461.2h27v1h-27zM501.9 461.2h4v1h-4zM592.1 461.2h3.8v1h-3.8zM434.9 462.2h10.2v1h-10.2zM467.4 462.2h23.7v1h-23.7zM502.1 462.2h4.3v1h-4.3zM591.1 462.2h4.5v1h-4.5zM435.9 463.2h11v1h-11zM467.6 463.2h24.5v1h-24.5zM503.1 463.2h4.3v1h-4.3zM590.9 463.2h5.7v1h-5.7z"/>
<path fill="#7cbe7a" shape-rendering="crispEdges" d="M442.6 383.2h1v1h-1zM475.6 383.2h1v1h-1zM506.9 383.2h1.2v2h-1.2zM589.1 383.2h0.5v1h-0.5zM442.4 384.2h1v1h-1zM473.6 384.2h1v1h-1zM588.9 384.2h0.2v1h-0.2zM443.9 385.2h1v1h-1zM472.6 385.2h1.3v1h-1.3zM506.4 385.2h1.2v1h-1.2zM589.1 385.2h0.5v1h-0.5zM443.1 386.2h1.3v1h-1.3zM470.9 386.2h1.2v2h-1.2zM506.6 386.2h1.3v2h-1.3zM590.1 386.2h0.5v1h-0.5zM442.4 387.2h1v1h-1zM590.6 387.2h0.5v1h-0.5zM441.4 388.2h1v1h-1zM469.9 388.2h1v1h-1zM507.1 388.2h1v1h-1zM591.4 388.2h0.2v1h-0.2zM440.6 389.2h1v1h-1zM470.6 389.2h1.3v1h-1.3zM506.9 389.2h1v1h-1zM591.1 389.2h0.5v1h-0.5zM441.1 390.2h1.3v1h-1.3zM471.6 390.2h1v1h-1zM506.6 390.2h1.3v1h-1.3zM591.6 390.2h0.5v1h-0.5zM442.6 391.2h1v1h-1zM472.1 391.2h1.3v1h-1.3zM506.4 391.2h1.2v1h-1.2zM590.4 391.2h0.5v1h-0.5zM444.1 392.2h1v1h-1zM470.6 392.2h1v1h-1zM506.4 392.2h1v1h-1zM590.1 392.2h0.3v1h-0.3zM446.6 393.2h1.3v1h-1.3zM471.4 393.2h1v1h-1zM506.4 393.2h1.2v1h-1.2zM589.4 393.2h0.5v1h-0.5zM446.9 394.2h1v1h-1zM471.6 394.2h1v1h-1zM506.9 394.2h1.2v1h-1.2zM589.9 394.2h0.2v1h-0.2zM446.6 395.2h1v1h-1zM473.9 395.2h1.2v1h-1.2zM507.4 395.2h1.2v1h-1.2zM590.1 395.2h0.5v1h-0.5zM443.6 396.2h1v1h-1zM471.9 396.2h1.2v1h-1.2zM507.4 396.2h1v1h-1zM590.4 396.2h0.5v1h-0.5zM441.4 397.2h1v1h-1zM471.6 397.2h1.3v1h-1.3zM507.1 397.2h1v1h-1zM591.6 397.2h0.5v1h-0.5zM439.9 398.2h1v1h-1zM470.9 398.2h1v1h-1zM506.6 398.2h1v1h-1zM591.4 398.2h0.5v1h-0.5zM439.6 399.2h1v1h-1zM473.1 399.2h1.3v1h-1.3zM506.6 399.2h1.3v1h-1.3zM590.6 399.2h0.5v1h-0.5zM439.4 400.2h1.2v1h-1.2zM472.1 400.2h1v1h-1zM506.4 400.2h1v1h-1zM590.1 400.2h0.3v1h-0.3zM439.1 401.2h1.3v1h-1.3zM473.4 401.2h1v1h-1zM506.1 401.2h1.3v2h-1.3zM591.1 401.2h0.5v1h-0.5zM439.9 402.2h1v1h-1zM471.6 402.2h1v1h-1zM592.6 402.2h0.5v1h-0.5zM440.6 403.2h1v1h-1zM473.6 403.2h1.3v1h-1.3zM506.4 403.2h1v1h-1zM591.9 403.2h0.5v1h-0.5zM441.6 404.2h1v1h-1zM472.1 404.2h1v1h-1zM506.6 404.2h1v1h-1zM591.6 404.2h0.5v1h-0.5zM441.6 405.2h1.3v1h-1.3zM470.1 405.2h1.3v1h-1.3zM506.1 405.2h1.3v1h-1.3zM589.6 405.2h0.5v1h-0.5zM441.9 406.2h1.2v1h-1.2zM470.4 406.2h1.2v1h-1.2zM506.9 406.2h1v1h-1zM590.1 406.2h0.5v1h-0.5zM442.1 407.2h1.3v1h-1.3zM470.6 407.2h1.3v1h-1.3zM507.1 407.2h1v2h-1zM589.4 407.2h0.5v1h-0.5zM441.6 408.2h1v1h-1zM473.1 408.2h1v1h-1zM590.1 408.2h0.3v1h-0.3zM441.1 409.2h1.3v1h-1.3zM472.9 409.2h1v1h-1zM506.9 409.2h1v1h-1zM589.4 409.2h0.5v1h-0.5zM441.4 410.2h1v1h-1zM471.1 410.2h1.3v1h-1.3zM506.6 410.2h1.3v2h-1.3zM590.6 410.2h0.3v1h-0.3zM442.1 411.2h1.3v1h-1.3zM470.1 411.2h1v1h-1zM591.4 411.2h0.5v1h-0.5zM440.9 412.2h1v1h-1zM469.1 412.2h1v1h-1zM506.1 412.2h1.3v1h-1.3zM592.4 412.2h0.5v1h-0.5zM439.6 413.2h1.3v1h-1.3zM471.6 413.2h1v1h-1zM506.6 413.2h1v1h-1zM591.1 413.2h0.5v1h-0.5zM440.1 414.2h1v1h-1zM472.9 414.2h1v1h-1zM506.6 414.2h1.3v1h-1.3zM591.6 414.2h0.5v1h-0.5zM441.9 415.2h1v1h-1zM473.9 415.2h1v1h-1zM507.1 415.2h1v1h-1zM591.9 415.2h0.5v1h-0.5zM442.6 416.2h1.3v1h-1.3zM472.9 416.2h1.2v1h-1.2zM506.6 416.2h1v1h-1zM592.1 416.2h0.5v1h-0.5zM440.1 417.2h1v1h-1zM473.9 417.2h1v1h-1zM506.9 417.2h1v2h-1zM591.9 417.2h0.5v1h-0.5zM439.9 418.2h1.2v1h-1.2zM472.9 418.2h1.2v1h-1.2zM591.6 418.2h0.5v1h-0.5zM437.1 419.2h1.3v1h-1.3zM473.1 419.2h1v1h-1zM507.1 419.2h1.3v2h-1.3zM592.1 419.2h0.5v1h-0.5zM439.1 420.2h1v1h-1zM471.1 420.2h1v1h-1zM591.9 420.2h0.5v1h-0.5zM437.9 421.2h1v1h-1zM469.4 421.2h1.2v1h-1.2zM507.4 421.2h1v1h-1zM592.1 421.2h0.5v1h-0.5zM440.9 422.2h1.2v1h-1.2zM469.1 422.2h1.3v1h-1.3zM507.4 422.2h1.2v1h-1.2zM591.9 422.2h0.2v1h-0.2zM439.9 423.2h1.2v1h-1.2zM469.6 423.2h1.3v1h-1.3zM507.1 423.2h1v1h-1zM590.6 423.2h0.5v1h-0.5zM441.4 424.2h1v1h-1zM470.9 424.2h1.2v1h-1.2zM507.4 424.2h1v1h-1zM589.6 424.2h0.5v1h-0.5zM440.4 425.2h1.2v1h-1.2zM473.1 425.2h1v1h-1zM506.9 425.2h1.2v2h-1.2zM589.9 425.2h0.5v1h-0.5zM441.1 426.2h1.3v1h-1.3zM472.9 426.2h1v1h-1zM590.4 426.2h0.5v1h-0.5zM439.9 427.2h1.2v1h-1.2zM472.6 427.2h1.3v1h-1.3zM506.4 427.2h1v1h-1zM591.1 427.2h0.5v1h-0.5zM440.6 428.2h1v1h-1zM468.6 428.2h1v1h-1zM506.9 428.2h1v1h-1zM589.9 428.2h0.5v2h-0.5zM440.4 429.2h1v1h-1zM467.6 429.2h1v1h-1zM507.1 429.2h1.3v1h-1.3zM443.9 430.2h1v1h-1zM466.9 430.2h1.2v1h-1.2zM506.9 430.2h1v1h-1zM589.6 430.2h0.3v1h-0.3zM443.1 431.2h1.3v1h-1.3zM468.6 431.2h1v1h-1zM506.4 431.2h1v1h-1zM591.4 431.2h0.5v2h-0.5zM443.9 432.2h1.2v1h-1.2zM468.4 432.2h1v2h-1zM506.6 432.2h1v1h-1zM441.9 433.2h1v1h-1zM506.9 433.2h1.2v1h-1.2zM591.4 433.2h0.2v1h-0.2zM443.6 434.2h1.3v1h-1.3zM466.4 434.2h1.2v1h-1.2zM507.1 434.2h1.3v1h-1.3zM590.6 434.2h0.3v1h-0.3zM444.9 435.2h1.2v1h-1.2zM467.6 435.2h1v1h-1zM506.4 435.2h1v3h-1zM591.4 435.2h0.5v1h-0.5zM445.9 436.2h1v1h-1zM468.1 436.2h1v1h-1zM592.9 436.2h0.5v1h-0.5zM445.6 437.2h1v1h-1zM467.6 437.2h1v1h-1zM592.1 437.2h0.5v1h-0.5zM443.6 438.2h1v1h-1zM464.4 438.2h1v1h-1zM506.4 438.2h1.2v1h-1.2zM592.4 438.2h0.5v1h-0.5zM442.6 439.2h1v1h-1zM462.1 439.2h1.3v1h-1.3zM505.9 439.2h1v2h-1zM590.1 439.2h0.5v1h-0.5zM442.9 440.2h1v1h-1zM463.4 440.2h1v1h-1zM591.6 440.2h0.5v1h-0.5zM442.9 441.2h1.2v1h-1.2zM463.9 441.2h1.2v1h-1.2zM506.4 441.2h1.2v1h-1.2zM591.4 441.2h0.5v1h-0.5zM443.6 442.2h1v1h-1zM464.6 442.2h1.3v1h-1.3zM506.6 442.2h1v1h-1zM593.1 442.2h0.3v1h-0.3zM441.4 443.2h1v1h-1zM465.4 443.2h1v1h-1zM506.4 443.2h1.2v1h-1.2zM591.1 443.2h0.5v1h-0.5zM441.9 444.2h1v1h-1zM467.1 444.2h1.3v1h-1.3zM506.6 444.2h1v1h-1zM589.9 444.2h0.5v1h-0.5zM442.6 445.2h1v1h-1zM468.1 445.2h1v1h-1zM507.6 445.2h1v1h-1zM590.1 445.2h0.5v1h-0.5zM443.9 446.2h1v1h-1zM465.6 446.2h1v1h-1zM507.6 446.2h1.3v1h-1.3zM591.6 446.2h0.5v1h-0.5zM443.1 447.2h1v1h-1zM462.1 447.2h1v1h-1zM506.6 447.2h1v1h-1zM592.6 447.2h0.5v1h-0.5zM443.4 448.2h1.2v1h-1.2zM461.4 448.2h1v1h-1zM506.1 448.2h1v1h-1zM591.9 448.2h0.2v1h-0.2zM443.6 449.2h1.3v1h-1.3zM461.9 449.2h1.2v1h-1.2zM506.4 449.2h1v1h-1zM591.6 449.2h0.5v1h-0.5zM442.9 450.2h1.2v1h-1.2zM463.1 450.2h1.3v1h-1.3zM507.9 450.2h1.2v1h-1.2zM591.4 450.2h0.5v1h-0.5zM441.4 451.2h1.2v1h-1.2zM461.4 451.2h1v2h-1zM508.1 451.2h1.3v2h-1.3zM590.9 451.2h0.5v1h-0.5zM441.1 452.2h1v1h-1zM591.4 452.2h0.5v1h-0.5zM442.9 453.2h1v1h-1zM462.6 453.2h1v1h-1zM507.1 453.2h1.3v1h-1.3zM592.4 453.2h0.5v1h-0.5zM444.1 454.2h1v1h-1zM462.1 454.2h1v1h-1zM506.4 454.2h1.2v1h-1.2zM592.1 454.2h0.5v1h-0.5zM445.4 455.2h1v1h-1zM461.1 455.2h1.3v1h-1.3zM505.9 455.2h1.2v1h-1.2zM591.1 455.2h0.5v1h-0.5zM445.9 456.2h1v1h-1zM461.6 456.2h1v1h-1zM505.6 456.2h1.3v1h-1.3zM589.4 456.2h0.5v2h-0.5zM445.6 457.2h1.3v1h-1.3zM463.6 457.2h1.3v1h-1.3zM505.9 457.2h1.2v1h-1.2zM446.1 458.2h1v1h-1zM463.1 458.2h1.3v1h-1.3zM506.4 458.2h1.2v1h-1.2zM590.1 458.2h0.5v1h-0.5zM447.6 459.2h1v2h-1zM459.9 459.2h1.2v1h-1.2zM506.9 459.2h1v1h-1zM590.9 459.2h0.5v1h-0.5zM459.4 460.2h1.2v1h-1.2zM506.4 460.2h1v1h-1zM591.6 460.2h0.5v2h-0.5zM447.9 461.2h1v1h-1zM462.1 461.2h1v1h-1zM505.9 461.2h1.2v1h-1.2zM445.1 462.2h1v1h-1zM466.4 462.2h1v1h-1zM506.4 462.2h1v1h-1zM590.6 462.2h0.5v1h-0.5zM446.9 463.2h1v1h-1zM466.4 463.2h1.2v1h-1.2zM507.4 463.2h1v1h-1zM590.4 463.2h0.5v1h-0.5z"/>
<rect x="430.5" y="383.9" width="55" height="79.9" fill="none" stroke="#e02626" stroke-width="1.5" />
<line x1="384.5" y1="301.8" x2="639.6" y2="301.8" stroke="#444" stroke-width="0.8" />
<line x1="384.5" y1="301.8" x2="384.5" y2="464" stroke="#444" stroke-width="0.8" />
<line x1="384.5" y1="383.2" x2="639.6" y2="383.2" stroke="#111" stroke-width="1.1" />
<line x1="639.6" y1="301.8" x2="639.6" y2="464" stroke="#111" stroke-width="1.1" />
<line x1="384.5" y1="464" x2="640.1" y2="464" stroke="#111" stroke-width="1.6" />
<line x1="639.6" y1="310.1" x2="636" y2="310.1" stroke="#000" stroke-width="1.1" />
<line x1="639.6" y1="345.8" x2="636" y2="345.8" stroke="#000" stroke-width="1.1" />
<line x1="639.6" y1="381.4" x2="636" y2="381.4" stroke="#000" stroke-width="1.1" />
<line x1="639.6" y1="391.2" x2="636" y2="391.2" stroke="#000" stroke-width="1.1" />
<line x1="639.6" y1="427" x2="636" y2="427" stroke="#000" stroke-width="1.1" />
<line x1="639.6" y1="463.6" x2="636" y2="463.6" stroke="#000" stroke-width="1.1" />
<line x1="412.9" y1="464" x2="412.9" y2="460.6" stroke="#000" stroke-width="1.1" />
<line x1="483.77" y1="464" x2="483.77" y2="460.6" stroke="#000" stroke-width="1.1" />
<line x1="554.65" y1="464" x2="554.65" y2="460.6" stroke="#000" stroke-width="1.1" />
<line x1="625.52" y1="464" x2="625.52" y2="460.6" stroke="#000" stroke-width="1.1" />
<line x1="448.34" y1="464" x2="448.34" y2="461.8" stroke="#000" stroke-width="1.1" />
<line x1="519.21" y1="464" x2="519.21" y2="461.8" stroke="#000" stroke-width="1.1" />
<line x1="590.09" y1="464" x2="590.09" y2="461.8" stroke="#000" stroke-width="1.1" />
<text x="642.6" y="316.5" font-size="15" >890</text>
<text x="642.6" y="350.3" font-size="15" >900</text>
<text x="642.6" y="386" font-size="15" >910</text>
<text x="642.6" y="396" font-size="15" >890</text>
<text x="642.6" y="431.6" font-size="15" >900</text>
<text x="642.6" y="468.8" font-size="15" >910</text>
<text x="412.9" y="480" font-size="15" text-anchor="middle" >100</text>
<text x="483.77" y="480" font-size="15" text-anchor="middle" >150</text>
<text x="554.65" y="480" font-size="15" text-anchor="middle" >200</text>
<text x="625.52" y="480" font-size="15" text-anchor="middle" >250</text>
<text x="531" y="498" font-size="15.5" text-anchor="middle" >FFT frequency (cm<tspan font-size="10" dy="-5.5">-1</tspan><tspan dy="5.5">)</tspan></text>
<text x="351.5" y="319.8" font-size="23" font-weight="bold" >f</text>
<text transform="translate(672.5,382.5) rotate(90)" font-size="15.5" text-anchor="middle" >λ<tspan font-size="10.5" dy="4">probe</tspan><tspan dy="-4"> (nm)</tspan></text>
<text x="629.3" y="316.9" font-size="15.6" text-anchor="end" >0.1-1.0 ps</text>
<text x="629.3" y="399.3" font-size="15.6" text-anchor="end" >1.0 -2.0 ps</text>
<rect x="333.3" y="303.9" width="11.3" height="161.7" fill="url(#gcb)" stroke="#333" stroke-width="0.8" />
<line x1="333.3" y1="465.6" x2="336.5" y2="465.6" stroke="#000" stroke-width="1.0" />
<text x="332.5" y="472.6" font-size="15" text-anchor="end" >0.0</text>
<line x1="333.3" y1="433.26" x2="336.5" y2="433.26" stroke="#000" stroke-width="1.0" />
<text x="332.5" y="440.26" font-size="15" text-anchor="end" >0.2</text>
<line x1="333.3" y1="400.92" x2="336.5" y2="400.92" stroke="#000" stroke-width="1.0" />
<text x="332.5" y="407.92" font-size="15" text-anchor="end" >0.4</text>
<line x1="333.3" y1="368.58" x2="336.5" y2="368.58" stroke="#000" stroke-width="1.0" />
<text x="332.5" y="375.58" font-size="15" text-anchor="end" >0.6</text>
<line x1="333.3" y1="336.24" x2="336.5" y2="336.24" stroke="#000" stroke-width="1.0" />
<text x="332.5" y="343.24" font-size="15" text-anchor="end" >0.8</text>
<line x1="333.3" y1="303.9" x2="336.5" y2="303.9" stroke="#000" stroke-width="1.0" />
<text x="332.5" y="310.9" font-size="15" text-anchor="end" >1.0</text>
<clipPath id="clipg"><rect x="49.5" y="513.8" width="252.5" height="92.70000000000005"/></clipPath>
<g clip-path="url(#clipg)">
<polyline points="49.5,605.6 49.9,605.1 50.3,604.8 50.7,604.4 51.1,602.1 51.5,599.2 51.9,595.4 52.3,591.6 52.7,589.1 53.1,589.5 53.5,590.6 53.9,594.4 54.3,599.1 54.6,601.7 55,603.9 55.4,605.7 55.8,605.4 56.2,605.7 56.6,605.9 57,606 57.4,605.8 57.8,605.3 58.2,605.2 58.6,605.3 59,604.4 59.4,604.5 59.8,604.7 60.1,604.6 60.5,604.3 60.9,604.6 61.3,605.1 61.7,604.4 62.1,602.3 62.5,598.6 62.9,594.2 63.3,590.4 63.7,587.4 64.1,586.5 64.5,588.3 64.9,593.7 65.3,598.2 65.6,600.5 66,602.3 66.4,603.9 66.8,604.1 67.2,604 67.6,602.4 68,599.4 68.4,596.7 68.8,596.7 69.2,598.9 69.6,601.1 70,603.4 70.4,604.7 70.8,605.7 71.1,605.7 71.5,605.8 71.9,605.7 72.3,605.9 72.7,605.8 73.1,605 73.5,604.3 73.9,603.1 74.3,601.6 74.7,599.6 75.1,598.8 75.5,597.8 75.9,598.3 76.3,600.2 76.6,601 77,602 77.4,604.1 77.8,606 78.2,606.2 78.6,604.7 79,602.9 79.4,602.5 79.8,602.7 80.2,603.7 80.6,604.7 81,605 81.4,605.7 81.8,605.4 82.1,604.9 82.5,604.9 82.9,604.7 83.3,604.6 83.7,603.3 84.1,602.1 84.5,600.8 84.9,597.6 85.3,593.7 85.7,590 86.1,588.6 86.5,589.3 86.9,591.5 87.3,594.4 87.6,597.8 88,601.6 88.4,603.9 88.8,604.1 89.2,604.7 89.6,605 90,605.3 90.4,606 90.8,606 91.2,604.6 91.6,604 92,604.1 92.4,604.2 92.8,603.8 93.1,603.2 93.5,602.4 93.9,602.6 94.3,603.3 94.7,603.5 95.1,603.9 95.5,605.5 95.9,604.8 96.3,604.6 96.7,605.4 97.1,604.8 97.5,604.4 97.9,603.9 98.3,602.6 98.6,600.3 99,596.3 99.4,594.3 99.8,595.6 100.2,598.7 100.6,600.8 101,601.8 101.4,601.8 101.8,599.9 102.2,598.2 102.6,599.4 103,602.1 103.4,603.8 103.8,604.1 104.1,604.7 104.5,604.6 104.9,603.9 105.3,604.4 105.7,604.9 106.1,604 106.5,602.7 106.9,602.7 107.3,600 107.7,597.5 108.1,595.6 108.5,592.9 108.9,590.1 109.3,590.1 109.6,591.5 110,593 110.4,596.4 110.8,599.5 111.2,601.7 111.6,603.2 112,603.9 112.4,604.3 112.8,603.9 113.2,603.4 113.6,603.1 114,602.7 114.4,602 114.8,601.4 115.1,600.5 115.5,599 115.9,599.5 116.3,599.9 116.7,601 117.1,602.8 117.5,602.9 117.9,604.4 118.3,605.3 118.7,605 119.1,604.7 119.5,604.2 119.9,603.7 120.3,602.7 120.6,602.2 121,601.2 121.4,600.5 121.8,599.6 122.2,600.7 122.6,602.1 123,601.9 123.4,603.4 123.8,604.1 124.2,603.8 124.6,603.2 125,603.9 125.4,603.4 125.8,602.2 126.1,601.6 126.5,602.4 126.9,602.7 127.3,602.5 127.7,601.4 128.1,601.9 128.5,602.1 128.9,601.8 129.3,601.5 129.7,600.2 130.1,598.4 130.5,595.2 130.9,593.6 131.3,592.7 131.6,592.8 132,595.1 132.4,596.1 132.8,598 133.2,600.5 133.6,601.1 134,601.1 134.4,600.6 134.8,601.9 135.2,603 135.6,601.6 136,601.9 136.4,601.3 136.8,599.8 137.1,599.3 137.5,601.1 137.9,603.4 138.3,601.7 138.7,601.4 139.1,600.4 139.5,600.8 139.9,599.3 140.3,600 140.7,601 141.1,601.8 141.5,603.4 141.9,601 142.3,601 142.6,602.2 143,600.4 143.4,599.6 143.8,599.7 144.2,599.8 144.6,598.5 145,598.2 145.4,599.3 145.8,599.9 146.2,600.5 146.6,600.2 147,598.9 147.4,600.3 147.8,601.2 148.1,598.6 148.5,596.9 148.9,597.9 149.3,596.9 149.7,597.5 150.1,599.1 150.5,597.9 150.9,597.3 151.3,597.9 151.7,600.8 152.1,596.9 152.5,595.8 152.9,597.2 153.2,595.5 153.6,596 154,595.6 154.4,594 154.8,593.3 155.2,594.4 155.6,594.2 156,594.7 156.4,595.3 156.8,592.5 157.2,592.8 157.6,593.5 158,592.5 158.4,593.3 158.7,594.3 159.1,592.8 159.5,592.9 159.9,592.2 160.3,591.3 160.7,590.5 161.1,589.7 161.5,591.8 161.9,593.4 162.3,594.2 162.7,593.5 163.1,591.4 163.5,591.6 163.9,593.4 164.2,593.4 164.6,591.8 165,589.8 165.4,591.7 165.8,591.8 166.2,593.3 166.6,591.1 167,589.1 167.4,590.9 167.8,589.9 168.2,592.2 168.6,591.1 169,591.1 169.4,590 169.7,589 170.1,587.6 170.5,587.7 170.9,588.3 171.3,588.7 171.7,588 172.1,589.1 172.5,589.2 172.9,588.3 173.3,585.4 173.7,583.1 174.1,584.6 174.5,584 174.9,587 175.2,587 175.6,584.8 176,583.8 176.4,582.8 176.8,582.2 177.2,583.6 177.6,582.7 178,584.6 178.4,588.5 178.8,586.8 179.2,584.6 179.6,582.9 180,582.1 180.4,582 180.7,580.9 181.1,582.8 181.5,581.8 181.9,580.6 182.3,581.8 182.7,579.1 183.1,578.6 183.5,580.1 183.9,580.2 184.3,580 184.7,579 185.1,577.1 185.5,578.3 185.9,581.4 186.2,581.2 186.6,579.4 187,582.4 187.4,581.7 187.8,579.1 188.2,576.7 188.6,574.6 189,573.7 189.4,570.6 189.8,573.3 190.2,573.6 190.6,573.3 191,574 191.4,572.8 191.7,572.7 192.1,573.5 192.5,574.6 192.9,573.7 193.3,571.8 193.7,571.9 194.1,571.2 194.5,570.7 194.9,570.6 195.3,570.4 195.7,569.1 196.1,567.8 196.5,566.9 196.9,568 197.2,569.7 197.6,569.3 198,568 198.4,569.6 198.8,567.9 199.2,565.3 199.6,566.2 200,566 200.4,564.7 200.8,567.8 201.2,565.5 201.6,564.2 202,563.2 202.4,560.2 202.7,558.2 203.1,558.1 203.5,558.6 203.9,559 204.3,559.2 204.7,559.2 205.1,560.1 205.5,557.8 205.9,555 206.3,554.1 206.7,553.2 207.1,554.8 207.5,553.7 207.9,551.8 208.2,548.5 208.6,548.4 209,548.6 209.4,548.7 209.8,547.4 210.2,546.7 210.6,544.1 211,540.6 211.4,543.2 211.8,543.2 212.2,542.1 212.6,539.7 213,541.4 213.4,541.2 213.7,538.1 214.1,535.7 214.5,537.1 214.9,539.6 215.3,543.1 215.7,543.6 216.1,538.3 216.5,535.5 216.9,533.8 217.3,534.5 217.7,535.1 218.1,532.9 218.5,532.6 218.9,535.3 219.2,534.1 219.6,534.1 220,536.5 220.4,536.1 220.8,536 221.2,534.9 221.6,536.4 222,540.7 222.4,539.1 222.8,536.5 223.2,538.2 223.6,541.2 224,542 224.4,542.6 224.7,542.3 225.1,543.6 225.5,541.6 225.9,541.3 226.3,541.4 226.7,542.8 227.1,544.1 227.5,545.4 227.9,548.2 228.3,552 228.7,551.2 229.1,553.9 229.5,556.2 229.9,552.9 230.2,555.2 230.6,558.5 231,557.3 231.4,557.2 231.8,557.7 232.2,558 232.6,561 233,560.9 233.4,562.7 233.8,562.1 234.2,562.3 234.6,563 235,561.8 235.4,567.3 235.7,569 236.1,568 236.5,567.6 236.9,566.1 237.3,567.1 237.7,566.4 238.1,567.9 238.5,567.3 238.9,567.5 239.3,568.6 239.7,568.6 240.1,568.3 240.5,566 240.9,566.5 241.2,570.4 241.6,570.5 242,569.6 242.4,569.8 242.8,567.9 243.2,568.7 243.6,575 244,574.4 244.4,571.4 244.8,572.5 245.2,574.7 245.6,574.6 246,573.2 246.4,572.2 246.7,574.9 247.1,574 247.5,571.8 247.9,572.6 248.3,574.9 248.7,576.6 249.1,579.1 249.5,579.5 249.9,577.4 250.3,574.5 250.7,573.6 251.1,573.2 251.5,573.7 251.9,574.6 252.2,576.1 252.6,577 253,575.3 253.4,577.6 253.8,579.5 254.2,577 254.6,575.3 255,573.4 255.4,576 255.8,577.3 256.2,578.4 256.6,576.6 257,576.8 257.4,578.2 257.7,577.9 258.1,578.7 258.5,577.2 258.9,577.4 259.3,577.4 259.7,578.8 260.1,578.9 260.5,577.4 260.9,576 261.3,577.8 261.7,580.5 262.1,577.5 262.5,576.7 262.9,575.7 263.2,574.7 263.6,575.8 264,578.1 264.4,577.9 264.8,576.1 265.2,575.8 265.6,578.2 266,579.1 266.4,578.9 266.8,577.5 267.2,577 267.6,573.6 268,574.2 268.4,574.7 268.7,576 269.1,579.1 269.5,580.7 269.9,576.1 270.3,577 270.7,578.5 271.1,573.5 271.5,573.8 271.9,574.5 272.3,577.7 272.7,580.4 273.1,578.9 273.5,577.4 273.9,580.2 274.2,578.4 274.6,575 275,574.7 275.4,577.6 275.8,581 276.2,578 276.6,574.6 277,575.1 277.4,576.8 277.8,576.1 278.2,575.9 278.6,577.4 279,578.4 279.4,578.6 279.7,578.3 280.1,577.2 280.5,576.4 280.9,575.4 281.3,575.4 281.7,577.5 282.1,579.6 282.5,577.2 282.9,576.7 283.3,574.5 283.7,574.9 284.1,572.9 284.5,573.5 284.9,573.5 285.2,575.1 285.6,575.9 286,577.2 286.4,577.8 286.8,577.2 287.2,576.3 287.6,577.5 288,575.8 288.4,576.3 288.8,576.4 289.2,577.9 289.6,578.1 290,579.8 290.4,578.8 290.7,578.1 291.1,578.7 291.5,577.8 291.9,576.9 292.3,577.9 292.7,580.4 293.1,578.8 293.5,578.2 293.9,579.2 294.3,578.4 294.7,574.7 295.1,575 295.5,575.3 295.9,576.2 296.2,579.2 296.6,580.2 297,581.3 297.4,580.4 297.8,582.1 298.2,580.8 298.6,578.1 299,578.6 299.4,581 299.8,580.6 300.2,577.5 300.6,578 301,579.1 301.4,578.2 301.7,577.4" fill="none" stroke="#19dc19" stroke-width="2.1" stroke-linejoin="round" />
</g>
<rect x="49.5" y="513.8" width="252.5" height="92.7" fill="none" stroke="#111" stroke-width="1.5" />
<line x1="49.5" y1="606.2" x2="52.7" y2="606.2" stroke="#000" stroke-width="1.2" />
<line x1="49.5" y1="570.9" x2="52.7" y2="570.9" stroke="#000" stroke-width="1.2" />
<line x1="49.5" y1="535.6" x2="52.7" y2="535.6" stroke="#000" stroke-width="1.2" />
<line x1="49.5" y1="588.55" x2="51.5" y2="588.55" stroke="#000" stroke-width="1.2" />
<line x1="49.5" y1="553.25" x2="51.5" y2="553.25" stroke="#000" stroke-width="1.2" />
<line x1="49.5" y1="517.95" x2="51.5" y2="517.95" stroke="#000" stroke-width="1.2" />
<line x1="77.6" y1="606.5" x2="77.6" y2="603.3" stroke="#000" stroke-width="1.2" />
<line x1="147.75" y1="606.5" x2="147.75" y2="603.3" stroke="#000" stroke-width="1.2" />
<line x1="217.9" y1="606.5" x2="217.9" y2="603.3" stroke="#000" stroke-width="1.2" />
<line x1="288.05" y1="606.5" x2="288.05" y2="603.3" stroke="#000" stroke-width="1.2" />
<line x1="112.67" y1="606.5" x2="112.67" y2="604.5" stroke="#000" stroke-width="1.2" />
<line x1="182.82" y1="606.5" x2="182.82" y2="604.5" stroke="#000" stroke-width="1.2" />
<line x1="252.97" y1="606.5" x2="252.97" y2="604.5" stroke="#000" stroke-width="1.2" />
<text x="47.5" y="611.3" font-size="15" text-anchor="end" >0.0</text>
<text x="47.5" y="576.4" font-size="15" text-anchor="end" >0.5</text>
<text x="47.5" y="541" font-size="15" text-anchor="end" >1.0</text>
<text x="77.6" y="621.8" font-size="15" text-anchor="middle" >100</text>
<text x="147.75" y="621.8" font-size="15" text-anchor="middle" >150</text>
<text x="217.9" y="621.8" font-size="15" text-anchor="middle" >200</text>
<text x="288.05" y="621.8" font-size="15" text-anchor="middle" >250</text>
<text x="181.5" y="638.6" font-size="15.5" text-anchor="middle" >Raman shift (cm<tspan font-size="10" dy="-5.5">-1</tspan><tspan dy="5.5">)</tspan></text>
<text transform="translate(11.1,561.9) rotate(-90)" font-size="15.8" text-anchor="middle" >Intensity (Norm.)</text>
<text x="1.5" y="499.2" font-size="23" font-weight="bold" >g</text>
<line x1="155.8" y1="532.3" x2="144" y2="543.4" stroke="#b4b4b4" stroke-width="1.6" />
<line x1="144" y1="543.4" x2="150.6" y2="556" stroke="#b4b4b4" stroke-width="1.6" />
<line x1="150.6" y1="556" x2="157" y2="568.7" stroke="#b4b4b4" stroke-width="1.6" />
<line x1="157" y1="568.7" x2="145.2" y2="580" stroke="#b4b4b4" stroke-width="1.6" />
<line x1="155.8" y1="527" x2="155.8" y2="523" stroke="#a65ae8" stroke-width="1.6" />
<polygon points="155.8,518.3 159,523.3 152.6,523.3" fill="#a65ae8"/>
<line x1="143.7" y1="538.5" x2="143.7" y2="535.5" stroke="#c0963c" stroke-width="1.0" />
<polygon points="143.7,532.6 145.7,535.8 141.7,535.8" fill="#c0963c"/>
<line x1="157" y1="573.8" x2="157" y2="577.1" stroke="#c0963c" stroke-width="1.0" />
<polygon points="157,580 155,576.8 159,576.8" fill="#c0963c"/>
<line x1="145.2" y1="586" x2="145.2" y2="590.9" stroke="#a65ae8" stroke-width="1.6" />
<polygon points="145.2,595.6 142,590.6 148.4,590.6" fill="#a65ae8"/>
<circle cx="155.8" cy="532.3" r="6.2" fill="url(#gpur)"/>
<circle cx="144" cy="543.4" r="5.2" fill="url(#ggold)"/>
<circle cx="150.6" cy="556" r="6.2" fill="url(#gpur)"/>
<circle cx="157" cy="568.7" r="5.2" fill="url(#ggold)"/>
<circle cx="145.2" cy="580" r="6.2" fill="url(#gpur)"/>
<text x="187.3" y="533.4" font-size="15.5" ><tspan font-style="italic">A</tspan><tspan font-size="11" dy="3.6">1g</tspan></text>
<clipPath id="cliph"><rect x="388.6" y="514.2" width="252.19999999999993" height="92.0"/></clipPath>
<g clip-path="url(#cliph)">
<polyline points="388.4,601.7 388.8,600.5 389.2,597.8 389.7,596.3 390.1,595 390.5,595.9 390.9,598.3 391.4,601.6 391.8,603.2 392.2,603.3 392.6,602.1 393,600.7 393.5,600.5 393.9,601 394.3,599.4 394.7,597.7 395.2,598.6 395.6,601 396,602.2 396.4,601.9 396.9,601.4 397.3,601.2 397.7,601.3 398.1,601.4 398.6,600.8 399,601.3 399.4,601.9 399.8,601.3 400.2,600.7 400.7,600.9 401.1,601.6 401.5,601.5 401.9,601.1 402.4,598.8 402.8,595.5 403.2,595 403.6,597.2 404.1,600.2 404.5,602.3 404.9,603.2 405.3,601.8 405.7,600.9 406.2,600.5 406.6,601.5 407,601.8 407.4,602.3 407.9,601.7 408.3,601.2 408.7,600.3 409.1,599.8 409.6,600.6 410,601.8 410.4,602.3 410.8,602.3 411.2,603 411.7,604.1 412.1,603.4 412.5,602.1 412.9,601.6 413.4,601.9 413.8,601.6 414.2,601.4 414.6,602 415.1,601.7 415.5,600.9 415.9,600 416.3,600 416.8,600.3 417.2,601.4 417.6,602.1 418,602.5 418.4,602.3 418.9,601.9 419.3,601 419.7,600.2 420.1,600.2 420.6,600.8 421,602 421.4,602.5 421.8,603.2 422.3,602.6 422.7,602.3 423.1,602.2 423.5,602.3 423.9,602.8 424.4,602.8 424.8,602.2 425.2,600.5 425.6,600.9 426.1,601.7 426.5,603.2 426.9,602.2 427.3,601.5 427.8,600.6 428.2,601.9 428.6,602.1 429,602.3 429.5,602.1 429.9,602.6 430.3,602.7 430.7,602.5 431.1,602.6 431.6,601.6 432,600.6 432.4,599.8 432.8,600.2 433.3,600.2 433.7,600.3 434.1,599.9 434.5,599.7 435,599 435.4,599 435.8,598.3 436.2,598.9 436.6,598.8 437.1,598.6 437.5,597.2 437.9,596.3 438.3,596.8 438.8,597.8 439.2,597.2 439.6,596.2 440,596.4 440.5,596.3 440.9,594.8 441.3,594 441.7,594.4 442.2,593.1 442.6,591.4 443,590.5 443.4,590 443.8,587.6 444.3,586 444.7,583.9 445.1,581.6 445.5,577.5 446,573.5 446.4,569 446.8,563.7 447.2,557.4 447.7,549.5 448.1,542.8 448.5,535.8 448.9,529.4 449.3,524.6 449.8,523.3 450.2,524.3 450.6,528 451,533.8 451.5,538.9 451.9,543.7 452.3,549.6 452.7,555.1 453.2,559.6 453.6,564.1 454,568.5 454.4,571.3 454.8,573 455.3,575.9 455.7,579.4 456.1,581.2 456.5,581.8 457,583.1 457.4,585.3 457.8,586.6 458.2,587.2 458.7,588.9 459.1,589.9 459.5,591 459.9,591.4 460.4,592.7 460.8,593.2 461.2,593.6 461.6,593.7 462,593.5 462.5,593 462.9,593.8 463.3,593.9 463.7,594.9 464.2,594.6 464.6,595.1 465,594.4 465.4,595 465.9,595.4 466.3,595 466.7,593.7 467.1,594 467.5,594.8 468,594.8 468.4,594.5 468.8,594.5 469.2,594.5 469.7,595.9 470.1,596.8 470.5,595.2 470.9,593.9 471.4,595.1 471.8,596.8 472.2,597.1 472.6,597.3 473.1,597.4 473.5,596.1 473.9,595.8 474.3,595.9 474.7,596.9 475.2,597.5 475.6,598.3 476,598.8 476.4,597.8 476.9,597.3 477.3,597.9 477.7,598.8 478.1,597.6 478.6,596.5 479,596.9 479.4,597.9 479.8,598.2 480.2,598.9 480.7,598.6 481.1,599.7 481.5,600.3 481.9,601 482.4,599.6 482.8,599.7 483.2,598.8 483.6,597.7 484.1,597.3 484.5,598.7 484.9,600.1 485.3,600.3 485.7,600.1 486.2,600.4 486.6,599.5 487,598.1 487.4,598.1 487.9,599.7 488.3,600.1 488.7,599.8 489.1,599.3 489.6,598.7 490,598.3 490.4,599.2 490.8,599.9 491.3,600.6 491.7,600.6 492.1,599.3 492.5,598.4 492.9,598.3 493.4,598.4 493.8,597.3 494.2,598.2 494.6,599.3 495.1,600.2 495.5,598.9 495.9,598 496.3,598.3 496.8,599.5 497.2,599.8 497.6,598.1 498,597.8 498.4,597.7 498.9,598.9 499.3,599.6 499.7,599.9 500.1,599.5 500.6,599.9 501,599.8 501.4,598.6 501.8,598.6 502.3,599 502.7,598.7 503.1,597.9 503.5,598.8 504,599.4 504.4,600.6 504.8,601.3 505.2,600.7 505.6,599.4 506.1,598.4 506.5,598.7 506.9,598.7 507.3,599.1 507.8,598.7 508.2,598.3 508.6,598.9 509,598.7 509.5,597.4 509.9,596.1 510.3,596 510.7,596.4 511.1,596.9 511.6,597 512,596.6 512.4,597.2 512.8,598 513.3,598 513.7,596.2 514.1,595.7 514.5,596.4 515,598 515.4,598.1 515.8,597.8 516.2,597.3 516.7,597.5 517.1,598 517.5,598.1 517.9,597.1 518.3,596.1 518.8,596.6 519.2,597.1 519.6,596.5 520,595.3 520.5,595.5 520.9,596.1 521.3,596.4 521.7,595.9 522.2,595.6 522.6,595.1 523,594.9 523.4,594.5 523.8,594.2 524.3,593.6 524.7,593.8 525.1,594.3 525.5,594.1 526,593.7 526.4,594.2 526.8,594.9 527.2,595 527.7,594.3 528.1,593.7 528.5,592.3 528.9,591.7 529.3,591.4 529.8,591.1 530.2,590.6 530.6,591.2 531,592.1 531.5,592.4 531.9,592 532.3,591.1 532.7,589 533.2,588 533.6,588.6 534,590.3 534.4,590.5 534.9,589.5 535.3,589.1 535.7,589.2 536.1,589.2 536.5,588 537,586.8 537.4,586.8 537.8,587.3 538.2,588.7 538.7,588.9 539.1,589.1 539.5,588.4 539.9,587.6 540.4,586.5 540.8,585.9 541.2,586.2 541.6,587 542,587.7 542.5,587.4 542.9,586.8 543.3,586.8 543.7,586.3 544.2,586.2 544.6,585.7 545,585.9 545.4,585.1 545.9,584.4 546.3,584.4 546.7,584.4 547.1,583.2 547.6,582.1 548,582.9 548.4,582.9 548.8,582.9 549.2,582.4 549.7,583.5 550.1,582.8 550.5,582.8 550.9,582 551.4,581.9 551.8,582.4 552.2,583.5 552.6,583.9 553.1,582.4 553.5,581 553.9,579.9 554.3,579.4 554.7,578.6 555.2,579.5 555.6,581 556,582.3 556.4,581.2 556.9,580.5 557.3,580.1 557.7,579.8 558.1,579.7 558.6,580.7 559,582.3 559.4,581.9 559.8,580.9 560.3,580.6 560.7,581.6 561.1,582.5 561.5,582.5 561.9,581.9 562.4,582.4 562.8,583.5 563.2,583.8 563.6,582.8 564.1,582.7 564.5,583.5 564.9,583.7 565.3,583.8 565.8,584.9 566.2,586.5 566.6,586.3 567,585.6 567.4,585.2 567.9,586.6 568.3,586.5 568.7,586.3 569.1,586 569.6,586.7 570,587.2 570.4,587.4 570.8,588.7 571.3,589.5 571.7,588.8 572.1,587.6 572.5,587.9 572.9,588.4 573.4,587.5 573.8,587 574.2,587.2 574.6,588.2 575.1,589.5 575.5,589.4 575.9,589 576.3,588.2 576.8,588.3 577.2,587.2 577.6,587.9 578,588.3 578.5,589.4 578.9,590.3 579.3,591.9 579.7,591.5 580.1,591.3 580.6,589.6 581,588.7 581.4,587.8 581.8,589 582.3,589.3 582.7,590 583.1,591 583.5,592 584,591.5 584.4,590.8 584.8,590.2 585.2,591.1 585.6,591.1 586.1,590.3 586.5,589.3 586.9,591 587.3,592.3 587.8,592.2 588.2,590.5 588.6,589.9 589,589.6 589.5,590.5 589.9,591.2 590.3,591.9 590.7,590.7 591.2,590.9 591.6,591.2 592,592.5 592.4,591.1 592.8,589.9 593.3,589.5 593.7,590.2 594.1,589.9 594.5,589.6 595,589.9 595.4,590.3 595.8,590.3 596.2,591.3 596.7,591.9 597.1,591.2 597.5,590 597.9,588.6 598.3,587.9 598.8,587.9 599.2,590 599.6,591.3 600,591.2 600.5,589.1 600.9,588.2 601.3,589.2 601.7,590 602.2,589.3 602.6,587.8 603,587.4 603.4,588.3 603.9,589.2 604.3,589.5 604.7,588.4 605.1,588.6 605.5,588.5 606,588.2 606.4,589 606.8,589.6 607.2,589.3 607.7,588.5 608.1,589.1 608.5,588.9 608.9,587.6 609.4,586.8 609.8,587.9 610.2,589.3 610.6,589.3 611,589.6 611.5,589.7 611.9,589.6 612.3,588.7 612.7,589.2 613.2,588.8 613.6,588.8 614,589 614.4,589.1 614.9,587.9 615.3,587.5 615.7,587.9 616.1,587.9 616.5,587.1 617,586.9 617.4,586.8 617.8,586.4 618.2,587 618.7,588.3 619.1,587.8 619.5,587.2 619.9,588 620.4,589.2 620.8,588.5 621.2,587.1 621.6,585.8 622.1,585.6 622.5,587.3 622.9,588.9 623.3,588.3 623.7,586.4 624.2,586 624.6,586.9 625,587.9 625.4,588.4 625.9,588.7 626.3,587.2 626.7,585.1 627.1,584.9 627.6,587 628,587.4 628.4,586.4 628.8,585.5 629.2,586.9 629.7,587.6 630.1,587.9 630.5,586.5 630.9,587.4 631.4,587.2 631.8,587.4 632.2,585.8 632.6,586.2 633.1,585.4 633.5,585.7 633.9,586 634.3,586.8 634.8,585.9 635.2,585.6 635.6,585.5 636,585.6 636.4,585.6 636.9,585.9 637.3,586.3 637.7,585 638.1,585 638.6,584.9 639,586 639.4,586.6 639.8,586.5 640.3,585.2 640.7,584.4" fill="none" stroke="#fa4646" stroke-width="1.45" stroke-linejoin="round" />
</g>
<rect x="388.6" y="514.2" width="252.2" height="92" fill="none" stroke="#111" stroke-width="1.5" />
<line x1="388.6" y1="605.6" x2="391.8" y2="605.6" stroke="#000" stroke-width="1.2" />
<line x1="388.6" y1="564.7" x2="391.8" y2="564.7" stroke="#000" stroke-width="1.2" />
<line x1="388.6" y1="523.8" x2="391.8" y2="523.8" stroke="#000" stroke-width="1.2" />
<line x1="388.6" y1="585.15" x2="390.6" y2="585.15" stroke="#000" stroke-width="1.2" />
<line x1="388.6" y1="544.25" x2="390.6" y2="544.25" stroke="#000" stroke-width="1.2" />
<line x1="415.2" y1="606.2" x2="415.2" y2="603" stroke="#000" stroke-width="1.2" />
<line x1="485.75" y1="606.2" x2="485.75" y2="603" stroke="#000" stroke-width="1.2" />
<line x1="556.3" y1="606.2" x2="556.3" y2="603" stroke="#000" stroke-width="1.2" />
<line x1="626.85" y1="606.2" x2="626.85" y2="603" stroke="#000" stroke-width="1.2" />
<line x1="450.47" y1="606.2" x2="450.47" y2="604.2" stroke="#000" stroke-width="1.2" />
<line x1="521.02" y1="606.2" x2="521.02" y2="604.2" stroke="#000" stroke-width="1.2" />
<line x1="591.58" y1="606.2" x2="591.58" y2="604.2" stroke="#000" stroke-width="1.2" />
<text x="386.6" y="610" font-size="15" text-anchor="end" >0.0</text>
<text x="386.6" y="572.5" font-size="15" text-anchor="end" >0.5</text>
<text x="386.6" y="529.2" font-size="15" text-anchor="end" >1.0</text>
<text x="415.2" y="621.8" font-size="15" text-anchor="middle" >100</text>
<text x="485.75" y="621.8" font-size="15" text-anchor="middle" >150</text>
<text x="556.3" y="621.8" font-size="15" text-anchor="middle" >200</text>
<text x="626.85" y="621.8" font-size="15" text-anchor="middle" >250</text>
<text x="527.3" y="637.8" font-size="15.5" text-anchor="middle" >Raman shift (cm<tspan font-size="10" dy="-5.5">-1</tspan><tspan dy="5.5">)</tspan></text>
<text transform="translate(359.3,561.6) rotate(-90)" font-size="15.8" text-anchor="middle" >Intensity (Norm.)</text>
<text x="350.3" y="505.2" font-size="23" font-weight="bold" >h</text>
<line x1="418.7" y1="535.4" x2="407.3" y2="547.7" stroke="#b4b4b4" stroke-width="1.6" />
<line x1="407.3" y1="547.7" x2="413.3" y2="560.5" stroke="#b4b4b4" stroke-width="1.6" />
<line x1="413.3" y1="560.5" x2="420.4" y2="574.2" stroke="#b4b4b4" stroke-width="1.6" />
<line x1="420.4" y1="574.2" x2="408" y2="585.6" stroke="#b4b4b4" stroke-width="1.6" />
<line x1="424.9" y1="535.7" x2="429.3" y2="535.7" stroke="#a65ae8" stroke-width="1.6" />
<polygon points="434,535.7 429,538.9 429,532.5" fill="#a65ae8"/>
<line x1="410.6" y1="548.3" x2="416.4" y2="548.3" stroke="#c0963c" stroke-width="1.0" />
<polygon points="419.3,548.3 416.1,550.3 416.1,546.3" fill="#c0963c"/>
<line x1="417" y1="573.2" x2="411.2" y2="573.2" stroke="#c0963c" stroke-width="1.0" />
<polygon points="408.3,573.2 411.5,571.2 411.5,575.2" fill="#c0963c"/>
<line x1="402" y1="585.6" x2="397.5" y2="585.6" stroke="#a65ae8" stroke-width="1.6" />
<polygon points="392.8,585.6 397.8,582.4 397.8,588.8" fill="#a65ae8"/>
<circle cx="418.7" cy="535.4" r="6.2" fill="url(#gpur)"/>
<circle cx="407.3" cy="547.7" r="5.2" fill="url(#ggold)"/>
<circle cx="413.3" cy="560.5" r="6.2" fill="url(#gpur)"/>
<circle cx="420.4" cy="574.2" r="5.2" fill="url(#ggold)"/>
<circle cx="408" cy="585.6" r="6.2" fill="url(#gpur)"/>
<text x="456.4" y="531.2" font-size="16.5" ><tspan font-style="italic">E</tspan><tspan font-size="11" dy="3.6">g</tspan></text>
<text x="553.2" y="566" font-size="15.5" ><tspan font-style="italic">A</tspan><tspan font-size="11" dy="3.6">1g</tspan></text>
<clipPath id="clipi"><rect x="49.5" y="655.0" width="254.39999999999998" height="97.0"/></clipPath>
<g clip-path="url(#clipi)">
<polyline points="49.5,745 63.4,750.3 79.5,738.9 95.6,727.5 111.7,731.9 127.8,745.9 143.9,730.1 160.1,727.5 176.2,726.7 192.3,690.7 208.4,661.8 224.5,666.3 240.6,702.5 256.7,728.8 272.8,726.7 288.9,731.4 303.9,740.6" fill="none" stroke="#1f9a1f" stroke-width="1.7" stroke-linejoin="round" />
<polyline points="49.5,742.4 63.4,747.7 79.5,742.1 95.6,741 111.7,742.4 127.8,732.8 143.9,721.7 160.1,724 176.2,717.8 192.3,686.8 208.4,662.6 224.5,665.8 240.6,689.4 256.7,715.2 272.8,729.3 288.9,734.6 303.9,734.6" fill="none" stroke="#1a1aff" stroke-width="1.7" stroke-linejoin="round" />
<polyline points="49.5,741.2 63.4,745 79.5,739.8 95.6,732.8 111.7,735.9 127.8,731 143.9,726.1 160.1,723.1 176.2,718.8 192.3,688.9 208.4,663.7 224.5,672.3 240.6,703.9 256.7,721.5 272.8,728.8 288.9,742.5 303.9,734.6" fill="none" stroke="#ff1a1a" stroke-width="1.7" stroke-linejoin="round" />
</g>
<rect x="49.5" y="655" width="254.4" height="97" fill="none" stroke="#111" stroke-width="1.5" />
<line x1="49.5" y1="708.9" x2="52.7" y2="708.9" stroke="#000" stroke-width="1.2" />
<line x1="49.5" y1="664.5" x2="52.7" y2="664.5" stroke="#000" stroke-width="1.2" />
<line x1="49.5" y1="731.1" x2="51.5" y2="731.1" stroke="#000" stroke-width="1.2" />
<line x1="49.5" y1="686.7" x2="51.5" y2="686.7" stroke="#000" stroke-width="1.2" />
<line x1="64.2" y1="752" x2="64.2" y2="748.8" stroke="#000" stroke-width="1.2" />
<line x1="137.1" y1="752" x2="137.1" y2="748.8" stroke="#000" stroke-width="1.2" />
<line x1="210" y1="752" x2="210" y2="748.8" stroke="#000" stroke-width="1.2" />
<line x1="282.9" y1="752" x2="282.9" y2="748.8" stroke="#000" stroke-width="1.2" />
<line x1="100.65" y1="752" x2="100.65" y2="750" stroke="#000" stroke-width="1.2" />
<line x1="173.55" y1="752" x2="173.55" y2="750" stroke="#000" stroke-width="1.2" />
<line x1="246.45" y1="752" x2="246.45" y2="750" stroke="#000" stroke-width="1.2" />
<text x="47.5" y="669.6" font-size="15" text-anchor="end" >1.0</text>
<text x="47.5" y="714" font-size="15" text-anchor="end" >0.5</text>
<text x="61.8" y="767.4" font-size="15" text-anchor="middle" >100</text>
<text x="134.7" y="767.4" font-size="15" text-anchor="middle" >150</text>
<text x="207.6" y="767.4" font-size="15" text-anchor="middle" >200</text>
<text x="280.5" y="767.4" font-size="15" text-anchor="middle" >250</text>
<text x="190" y="782" font-size="15.5" text-anchor="middle" >FFT frequency (cm<tspan font-size="10" dy="-5.5">-1</tspan><tspan dy="5.5">)</tspan></text>
<text transform="translate(14.6,713.4) rotate(-90)" font-size="15.5" text-anchor="middle" >Intensity (a.u.)</text>
<text x="8.6" y="663.4" font-size="23" font-weight="bold" >i</text>
<line x1="52.8" y1="667.9" x2="76.6" y2="667.9" stroke="#1a1aff" stroke-width="1.7" />
<text x="77.3" y="673.9" font-size="15.5" >λ<tspan font-size="10.5" dy="3.6">pump</tspan><tspan dy="-3.6">=380 nm</tspan></text>
<line x1="52.8" y1="684.4" x2="76.6" y2="684.4" stroke="#1f9a1f" stroke-width="1.7" />
<text x="77.3" y="690.4" font-size="15.5" >λ<tspan font-size="10.5" dy="3.6">pump</tspan><tspan dy="-3.6">=1300 nm</tspan></text>
<line x1="52.8" y1="700.6" x2="76.6" y2="700.6" stroke="#ff1a1a" stroke-width="1.7" />
<text x="77.3" y="706.6" font-size="15.5" >λ<tspan font-size="10.5" dy="3.6">pump</tspan><tspan dy="-3.6">=1580 nm</tspan></text>
<polyline points="414.7,675.4 465.7,675.4 516.2,727.9 566.9,699.9 617.5,696.4" fill="none" stroke="#ff1010" stroke-width="1.5" stroke-linejoin="round" />
<polyline points="414.7,728.4 465.7,728.4 516.2,678.3 566.9,705 617.5,708.4" fill="none" stroke="#1010ff" stroke-width="1.5" stroke-linejoin="round" />
<line x1="414.7" y1="689.4" x2="414.7" y2="661.4" stroke="#ff1010" stroke-width="1.2" />
<line x1="412.2" y1="689.4" x2="417.2" y2="689.4" stroke="#ff1010" stroke-width="1.2" />
<line x1="412.2" y1="661.4" x2="417.2" y2="661.4" stroke="#ff1010" stroke-width="1.2" />
<line x1="465.7" y1="692.9" x2="465.7" y2="657.9" stroke="#ff1010" stroke-width="1.2" />
<line x1="463.2" y1="692.9" x2="468.2" y2="692.9" stroke="#ff1010" stroke-width="1.2" />
<line x1="463.2" y1="657.9" x2="468.2" y2="657.9" stroke="#ff1010" stroke-width="1.2" />
<line x1="516.2" y1="741.9" x2="516.2" y2="713.9" stroke="#ff1010" stroke-width="1.2" />
<line x1="513.7" y1="741.9" x2="518.7" y2="741.9" stroke="#ff1010" stroke-width="1.2" />
<line x1="513.7" y1="713.9" x2="518.7" y2="713.9" stroke="#ff1010" stroke-width="1.2" />
<line x1="566.9" y1="717.4" x2="566.9" y2="682.4" stroke="#ff1010" stroke-width="1.2" />
<line x1="564.4" y1="717.4" x2="569.4" y2="717.4" stroke="#ff1010" stroke-width="1.2" />
<line x1="564.4" y1="682.4" x2="569.4" y2="682.4" stroke="#ff1010" stroke-width="1.2" />
<line x1="617.5" y1="710.4" x2="617.5" y2="682.4" stroke="#ff1010" stroke-width="1.2" />
<line x1="615" y1="710.4" x2="620" y2="710.4" stroke="#ff1010" stroke-width="1.2" />
<line x1="615" y1="682.4" x2="620" y2="682.4" stroke="#ff1010" stroke-width="1.2" />
<line x1="414.7" y1="745.1" x2="414.7" y2="711.7" stroke="#1010ff" stroke-width="1.2" />
<line x1="412.2" y1="745.1" x2="417.2" y2="745.1" stroke="#1010ff" stroke-width="1.2" />
<line x1="412.2" y1="711.7" x2="417.2" y2="711.7" stroke="#1010ff" stroke-width="1.2" />
<line x1="465.7" y1="741.76" x2="465.7" y2="715.04" stroke="#1010ff" stroke-width="1.2" />
<line x1="463.2" y1="741.76" x2="468.2" y2="741.76" stroke="#1010ff" stroke-width="1.2" />
<line x1="463.2" y1="715.04" x2="468.2" y2="715.04" stroke="#1010ff" stroke-width="1.2" />
<line x1="516.2" y1="695" x2="516.2" y2="661.6" stroke="#1010ff" stroke-width="1.2" />
<line x1="513.7" y1="695" x2="518.7" y2="695" stroke="#1010ff" stroke-width="1.2" />
<line x1="513.7" y1="661.6" x2="518.7" y2="661.6" stroke="#1010ff" stroke-width="1.2" />
<line x1="566.9" y1="715.04" x2="566.9" y2="695" stroke="#1010ff" stroke-width="1.2" />
<line x1="564.4" y1="715.04" x2="569.4" y2="715.04" stroke="#1010ff" stroke-width="1.2" />
<line x1="564.4" y1="695" x2="569.4" y2="695" stroke="#1010ff" stroke-width="1.2" />
<line x1="617.5" y1="721.72" x2="617.5" y2="695" stroke="#1010ff" stroke-width="1.2" />
<line x1="615" y1="721.72" x2="620" y2="721.72" stroke="#1010ff" stroke-width="1.2" />
<line x1="615" y1="695" x2="620" y2="695" stroke="#1010ff" stroke-width="1.2" />
<circle cx="414.7" cy="675.4" r="6.3" fill="#ff1010"/>
<circle cx="465.7" cy="675.4" r="6.3" fill="#ff1010"/>
<circle cx="516.2" cy="727.9" r="6.3" fill="#ff1010"/>
<circle cx="566.9" cy="699.9" r="6.3" fill="#ff1010"/>
<circle cx="617.5" cy="696.4" r="6.3" fill="#ff1010"/>
<circle cx="414.7" cy="728.4" r="6.3" fill="#1010ff"/>
<circle cx="465.7" cy="728.4" r="6.3" fill="#1010ff"/>
<circle cx="516.2" cy="678.3" r="6.3" fill="#1010ff"/>
<circle cx="566.9" cy="705.02" r="6.3" fill="#1010ff"/>
<circle cx="617.5" cy="708.36" r="6.3" fill="#1010ff"/>
<line x1="389.8" y1="654.9" x2="643.1" y2="654.9" stroke="#000" stroke-width="1.5" />
<line x1="389.8" y1="752" x2="643.1" y2="752" stroke="#000" stroke-width="1.5" />
<line x1="389.8" y1="654.9" x2="389.8" y2="752" stroke="#ff1010" stroke-width="1.5" />
<line x1="643.1" y1="654.9" x2="643.1" y2="752" stroke="#1010ff" stroke-width="1.5" />
<line x1="389.8" y1="745.4" x2="393.8" y2="745.4" stroke="#ff1010" stroke-width="1.2" />
<line x1="389.8" y1="710.4" x2="393.8" y2="710.4" stroke="#ff1010" stroke-width="1.2" />
<line x1="389.8" y1="675.4" x2="393.8" y2="675.4" stroke="#ff1010" stroke-width="1.2" />
<line x1="389.8" y1="727.9" x2="392.1" y2="727.9" stroke="#ff1010" stroke-width="1.2" />
<line x1="389.8" y1="692.9" x2="392.1" y2="692.9" stroke="#ff1010" stroke-width="1.2" />
<line x1="643.1" y1="728.4" x2="639.1" y2="728.4" stroke="#1010ff" stroke-width="1.2" />
<line x1="643.1" y1="695" x2="639.1" y2="695" stroke="#1010ff" stroke-width="1.2" />
<line x1="643.1" y1="661.6" x2="639.1" y2="661.6" stroke="#1010ff" stroke-width="1.2" />
<line x1="643.1" y1="745.1" x2="640.8" y2="745.1" stroke="#1010ff" stroke-width="1.2" />
<line x1="643.1" y1="711.7" x2="640.8" y2="711.7" stroke="#1010ff" stroke-width="1.2" />
<line x1="643.1" y1="678.3" x2="640.8" y2="678.3" stroke="#1010ff" stroke-width="1.2" />
<line x1="414.7" y1="752" x2="414.7" y2="748.5" stroke="#000" stroke-width="1.2" />
<line x1="465.7" y1="752" x2="465.7" y2="748.5" stroke="#000" stroke-width="1.2" />
<line x1="516.2" y1="752" x2="516.2" y2="748.5" stroke="#000" stroke-width="1.2" />
<line x1="566.9" y1="752" x2="566.9" y2="748.5" stroke="#000" stroke-width="1.2" />
<line x1="617.5" y1="752" x2="617.5" y2="748.5" stroke="#000" stroke-width="1.2" />
<line x1="440.2" y1="752" x2="440.2" y2="750" stroke="#000" stroke-width="1.2" />
<line x1="490.95" y1="752" x2="490.95" y2="750" stroke="#000" stroke-width="1.2" />
<line x1="541.55" y1="752" x2="541.55" y2="750" stroke="#000" stroke-width="1.2" />
<line x1="592.2" y1="752" x2="592.2" y2="750" stroke="#000" stroke-width="1.2" />
<text x="385.6" y="681.3" font-size="15" text-anchor="end" >100</text>
<text x="385.6" y="716.3" font-size="15" text-anchor="end" >90</text>
<text x="385.6" y="751" font-size="15" text-anchor="end" >80</text>
<text x="645.8" y="666.7" font-size="15" >20</text>
<text x="645.8" y="700" font-size="15" >10</text>
<text x="645.8" y="733.6" font-size="15" >0</text>
<text x="414.7" y="767.8" font-size="15" text-anchor="middle" >380</text>
<text x="465.7" y="767.8" font-size="15" text-anchor="middle" >532</text>
<text x="516.2" y="767.8" font-size="15" text-anchor="middle" >780</text>
<text x="566.9" y="767.8" font-size="15" text-anchor="middle" >1300</text>
<text x="617.5" y="767.8" font-size="15" text-anchor="middle" >1580</text>
<text x="526.5" y="781" font-size="15.5" text-anchor="middle" >Pump wavelength (nm)</text>
<text transform="translate(357.3,710.5) rotate(-90)" font-size="15.5" text-anchor="middle" fill="#ff1010" ><tspan font-style="italic">A</tspan><tspan font-size="10.5" dy="3.5">1g</tspan><tspan dy="-3.5"> ratio (%)</tspan></text>
<text transform="translate(667,707.5) rotate(90)" font-size="15.5" text-anchor="middle" fill="#1010ff" ><tspan font-style="italic">E</tspan><tspan font-size="10.5" dy="3.5">g</tspan><tspan dy="-3.5"> ratio (%)</tspan></text>
<text x="351.5" y="658.6" font-size="23" font-weight="bold" >j</text>
<line x1="563.4" y1="663.5" x2="585.4" y2="663.5" stroke="#ff1010" stroke-width="1.5" />
<circle cx="574.6" cy="663.5" r="6.3" fill="#ff1010"/>
<text x="588" y="668.3" font-size="15.5" ><tspan font-style="italic">A</tspan><tspan font-size="10.5" dy="3.5">1g</tspan></text>
<line x1="563.4" y1="675.8" x2="585.4" y2="675.8" stroke="#1010ff" stroke-width="1.5" />
<circle cx="574.6" cy="675.8" r="6.3" fill="#1010ff"/>
<text x="588" y="680.6" font-size="15.5" ><tspan font-style="italic">E</tspan><tspan font-size="10.5" dy="3.5">g</tspan></text></svg></body></html>
